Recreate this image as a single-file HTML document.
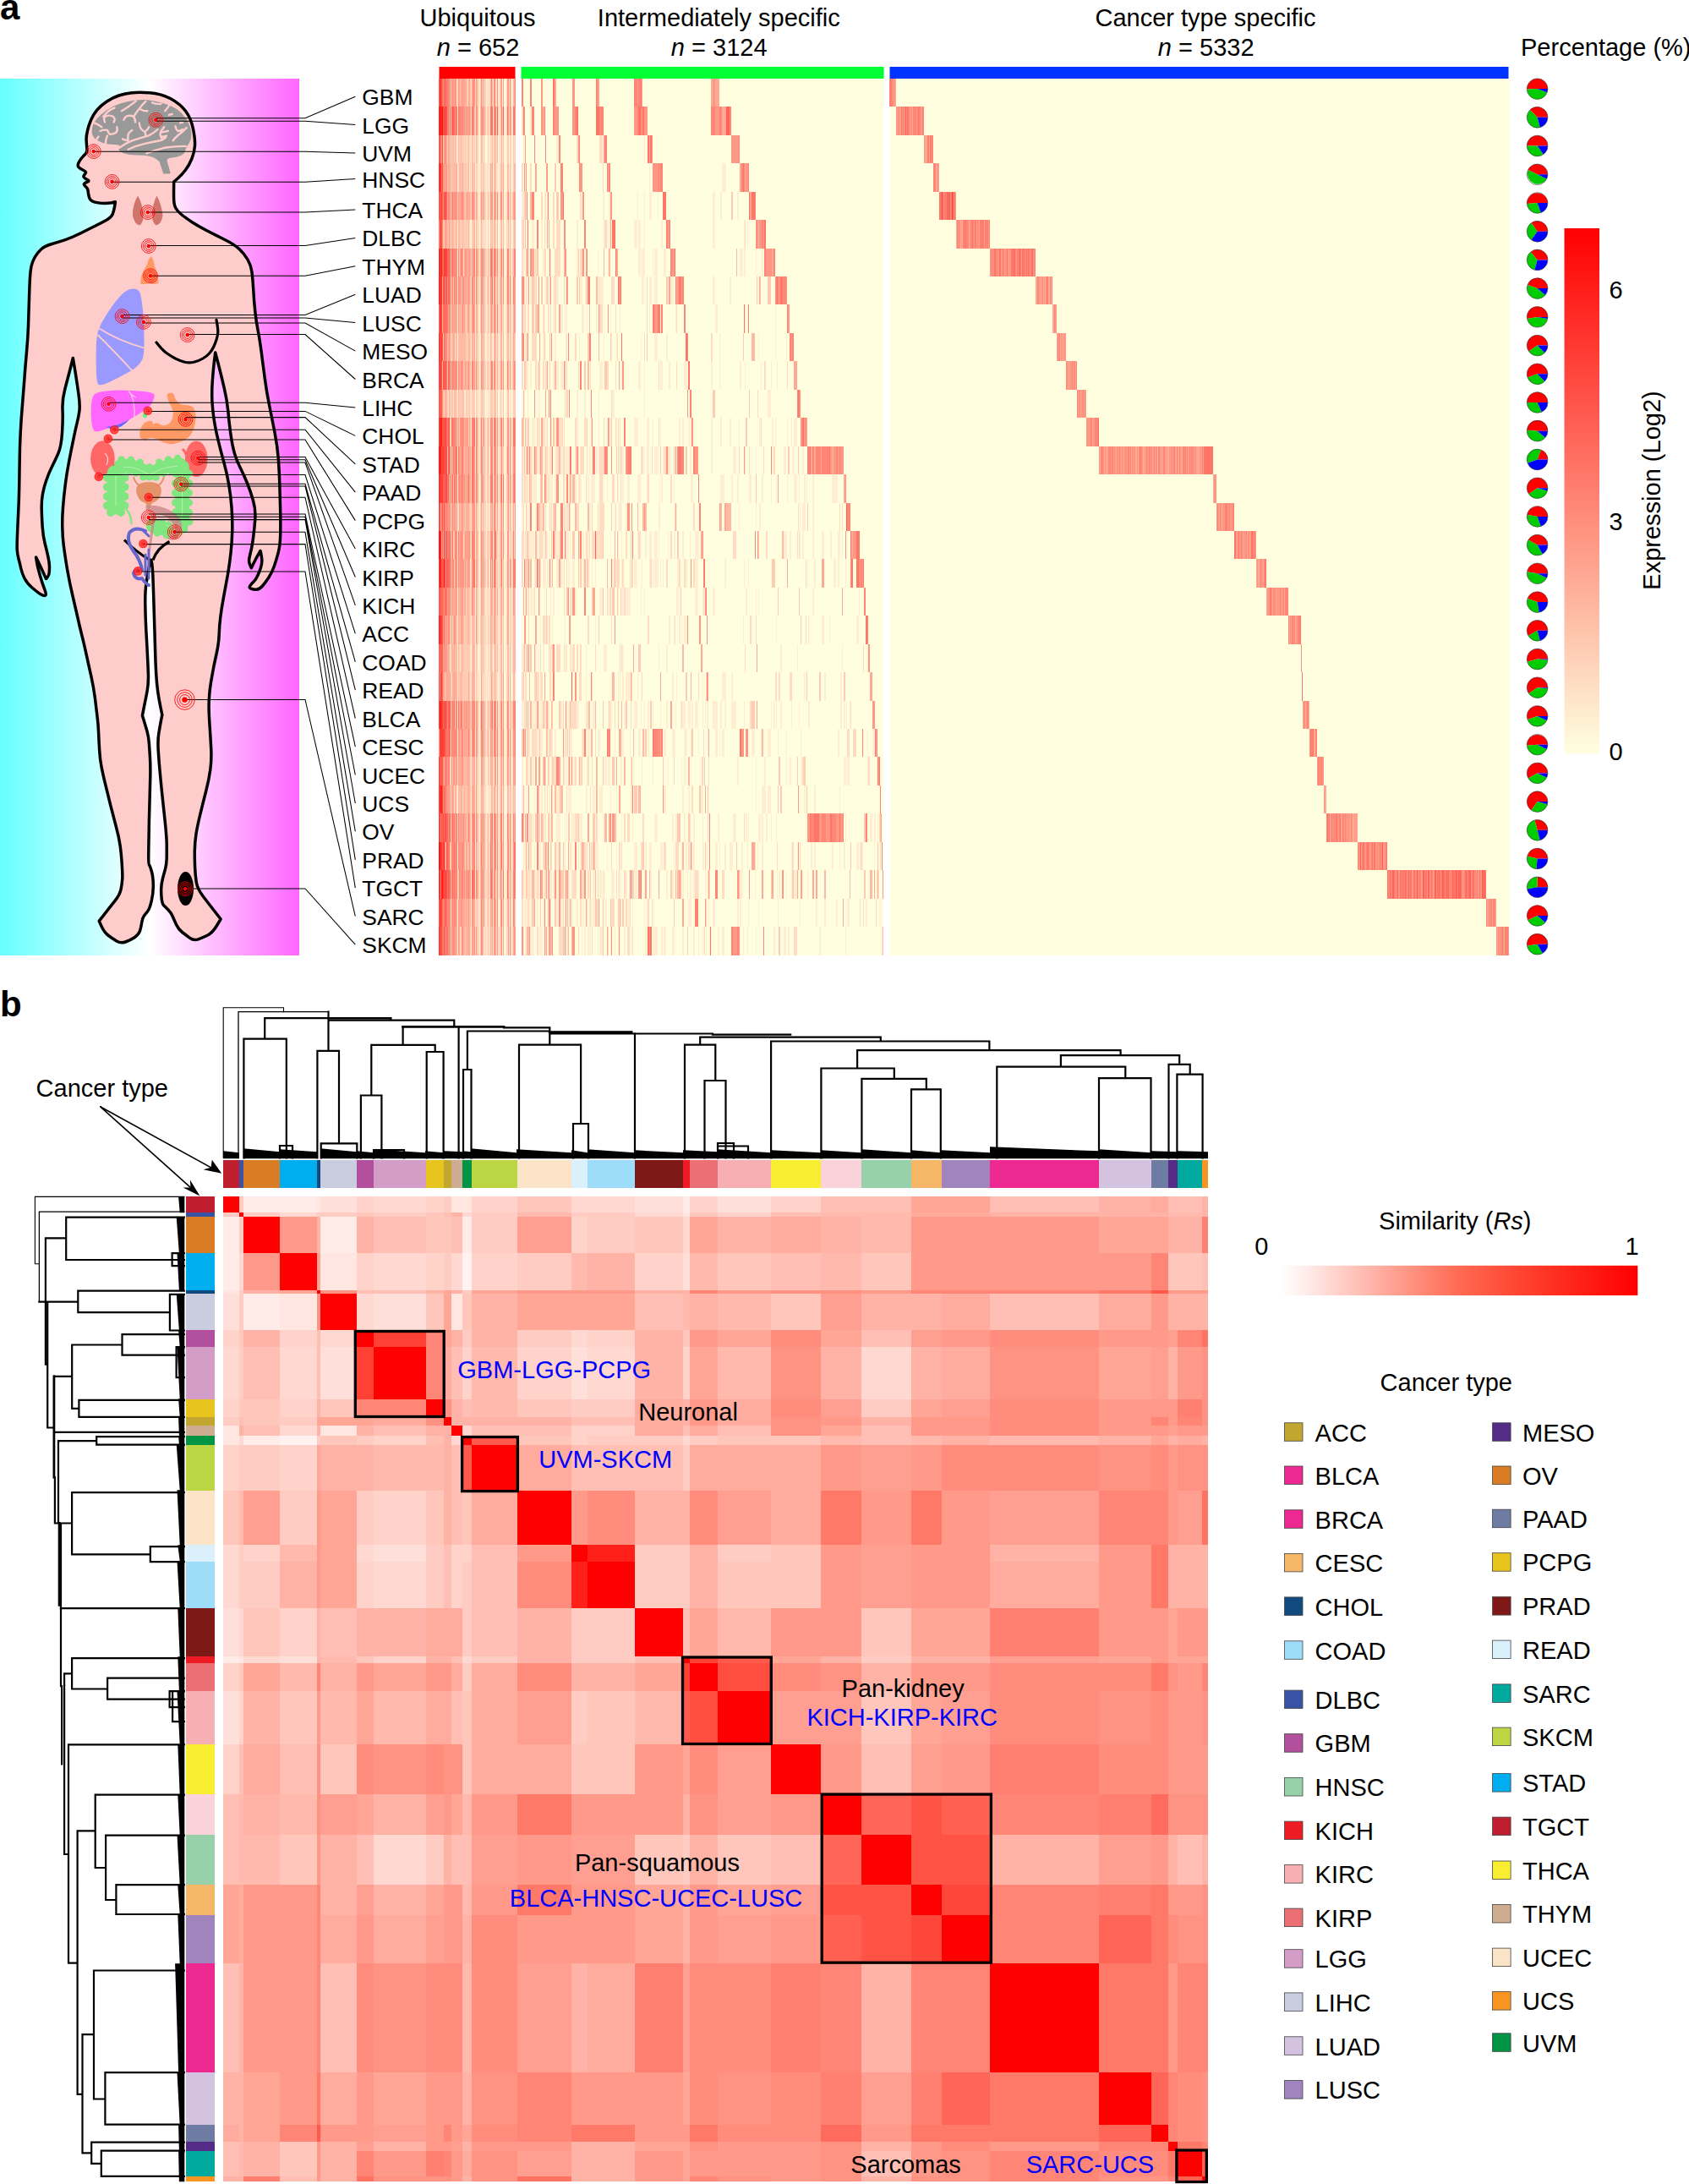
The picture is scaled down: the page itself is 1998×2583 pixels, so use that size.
<!DOCTYPE html><html><head><meta charset="utf-8"><title>Figure</title><style>html,body{margin:0;padding:0;background:#fff}svg{display:block}text{font-family:"Liberation Sans",sans-serif}</style></head><body><svg width="1998" height="2583" viewBox="0 0 1998 2583"><rect width="1998" height="2583" fill="#fff"/><defs><linearGradient id="bg" x1="0" x2="1" y1="0" y2="0"><stop offset="0" stop-color="#66ffff"/><stop offset=".5" stop-color="#ffffff"/><stop offset="1" stop-color="#ff66ff"/></linearGradient></defs><rect x="0" y="93" width="354" height="1037" fill="url(#bg)"/><path d="M156 109.7Q164 108.8 177 109.7Q190 110.5 201.5 116.5Q213 122.6 219.5 131.3Q226 140 228.5 152.5Q231 165 230.5 172.5Q230 180 227 187.5Q224 195 219.5 201Q215 207 210.3 211L205.7 215L205.6 221.5Q205.5 228 205.6 235Q205.7 242 207.8 246Q210 250 215 254Q220 258 227.2 262.8Q234.4 267.5 244.7 272.8Q255 278 266 283.5Q277 289 283 294.5Q289 300 293 307Q297 314 298 322Q299 330 299.8 343.5Q300.5 357 301.8 368.5Q303 380 305 390Q307 400 309 415Q311 430 313.2 447Q315.4 464 318.7 480Q322 496 325.1 512Q328.2 528 329.4 544Q330.5 560 330.9 576Q331.4 592 331.7 606Q332 620 331.7 632.5Q331.4 645 329.2 653.5Q327 662 324.4 669.5Q321.8 677 317.9 683Q314 689 310.5 693Q307 697 303.5 697.2Q300 697.5 297 696.2Q294 695 296 692.5Q298 690 300.3 687.8Q302.6 685.6 304.8 680.8Q307 676 308.5 671.2Q310 666.4 309.8 662.2Q309.5 658 308.8 654.8L308 651.5L305.5 655.8Q303 660 300.1 665.9L297.3 671.7L295.6 667.9Q294 664 295 659.5Q296 655 297.2 650Q298.4 645 299.7 635Q301 625 301.8 613.8Q302.6 602.5 299.3 591.2Q296 580 291.9 570Q287.7 560 283.9 552.5Q280 545 277.5 536.5Q275 528 273 514Q271 500 269.8 486.2Q268.5 472.5 265.2 458.8Q262 445 258.4 431L254.7 417L253.3 428.5Q252 440 251.2 452Q250.4 464 250.9 474.5Q251.5 485 253.1 495.8Q254.7 506.6 257.9 519.8Q261 533 264.8 546.5Q268.5 560 270.8 573.5Q273 587 274 600Q275 613 274.8 626.5Q274.5 640 273.1 653.2Q271.7 666.4 269.4 679.7Q267 693 264.5 706.4Q262 719.7 260.8 729.9Q259.5 740 259.2 750Q259 760 256 773.5Q253 787 250.7 800.1Q248.3 813.3 247.7 821.6Q247 830 247.1 837.6Q247.2 845.3 248.1 858.6Q249 872 249.7 885.2Q250.4 898.5 248.8 910.2Q247.2 922 243.6 936Q240 950 236.7 963.7Q233.4 977.4 231.9 986.7Q230.5 996 230.3 1005.9Q230.2 1015.8 230.6 1025.4Q231 1035 232.2 1043Q233.4 1051 240.2 1060Q247 1069 254.1 1078L261.1 1087L256.3 1095Q251.5 1103 245.8 1106Q240 1109 234.6 1110.8Q229.1 1112.7 224.6 1109.3Q220 1106 215.5 1102.5Q211 1098.9 208.5 1093.5Q206 1088 204.2 1083.8Q202.5 1079.7 199.2 1076.3Q196 1073 193.9 1071Q191.8 1069 191.2 1063Q190.5 1057 190.7 1051.3Q190.8 1045.6 192.4 1039.3Q194 1033 195.6 1027.5Q197.1 1022 197.2 1013.5Q197.3 1005 197.2 997.6Q197.1 990.2 195.6 975.1Q194 960 192.4 945.2Q190.8 930.5 189.4 915.2Q188 900 187.2 887.5Q186.5 875 187.8 867.5Q189 860 190.4 852.6L191.8 845.3L189.9 836.1Q188 827 186.7 818Q185.4 809 184.7 797Q184 785 183.7 772.5Q183.3 760 182.9 745Q182.5 730 182 715Q181.5 700 181.2 690Q181 680 180.2 671Q179.5 662 178.8 662Q178 662 176.2 671Q174.5 680 173 690Q171.5 700 171.8 715Q172 730 172.8 745Q173.7 760 174.3 772.5Q175 785 175.4 797Q175.8 809 173.9 818.5Q172 828 170.2 837.1L168.4 846.3L170.2 852.1Q172 858 173.9 864.4Q175.8 870.8 176.4 879.4Q177 888 177.5 896.5Q178 905 177.8 917.5Q177.5 930 177.2 940.9Q176.9 951.8 176.4 970.9Q176 990 175.8 1006Q175.5 1022 176.5 1023Q177.5 1024 179.3 1030.5Q181.2 1037 181.3 1046.5Q181.5 1056 179.2 1065.7Q176.9 1075.4 174.4 1078.2Q172 1081 170.2 1083.5Q168.4 1086 167.7 1091Q167 1096 165.6 1100.7Q164.1 1105.3 159.1 1108.7Q154 1112 148.4 1114Q142.8 1116 137.9 1113Q133 1110 128.3 1106.5Q123.6 1103 120.4 1096.2L117.2 1089.3L123.6 1081.2Q130 1073 135.8 1065.7Q141.7 1058.4 143.1 1051.7Q144.5 1045 144.8 1038.9Q145 1032.8 144.2 1021.4Q143.5 1010 142.1 1000Q140.7 990 137.3 977.5Q134 965 130.9 953Q127.9 941 125 929Q122 917 120.2 907.8Q118.3 898.5 117.7 887.8Q117 877 116.6 866.5Q116.2 856 114.8 845.5Q113.5 835 112.2 824.1Q110.8 813.3 107.9 800.1Q105 787 102 773.5Q99.1 760 96.5 750Q94 740 91.8 730Q89.5 720 85.8 704Q82 688 79.3 672Q76.7 656 75.3 645.5Q74 635 73.8 624Q73.5 613 74.5 600Q75.5 587 77.2 573.5Q78.9 560 81.5 546.5Q84 533 86.8 519.8Q89.5 506.6 91.2 499.8Q93 493 93.9 486Q94.8 479 92.9 465.5Q91 452 88.7 437.7L86.3 423.4L83.2 435.7Q80 448 76.8 460.2Q73.5 472.5 74 484.2Q74.6 496 73.5 512Q72.5 528 68.8 536.5Q65 545 61.2 552.5Q57.5 560 54.8 568Q52 576 50.5 584Q49 592 49.2 602.5Q49.5 613 50.2 623.5Q51 634 53 642Q55 650 56.8 658Q58.6 666 58.5 671Q58.5 676 58 678.5Q57.5 681 56 682.8L54.5 684.5L50.8 676.2Q47 668 44.8 663.5L42.6 659L43.3 663.5Q44 668 44.9 671.5Q45.8 675 47.9 682.5Q50 690 52.7 696.8Q55.4 703.5 53.7 704.2Q52 705 48.5 703Q45 701 38.5 695.5Q32 690 29 684Q26 678 24.7 672Q23.4 666 21.9 660.5Q20.5 655 20.2 650Q20 645 20.5 632.5Q21 620 21.7 606Q22.4 592 22.7 576Q23 560 23.2 544Q23.4 528 24.2 512Q25 496 26.4 480Q27.7 464 28.9 448Q30 432 31.5 416Q33 400 33.5 385Q34 370 34.5 353Q35 336 35.5 328Q36 320 37 315Q38 310 41 304.5Q44 299 48.5 295Q53 291 60.5 288.8Q68 286.5 76.5 283.8Q85 281 95 276Q105 271 112.5 267.2Q120 263.5 126 260.2Q132 257 133.5 252.5Q135 248 135.7 243.4L136.4 238.8L132.2 239.7Q128 240.5 123 240.5Q118 240.5 112.3 239.1Q106.6 237.7 105.5 233.3Q104.4 229 104.2 226.5Q104 224 103 222.5Q102 221 100.5 219.8Q99 218.5 99.5 217.5Q100 216.5 103.3 215.2Q106.6 214 103.3 212.5Q100 211 99.2 209.5Q98.5 208 99.8 206.8Q101 205.5 101.5 204.2Q102 203 98 201Q94 199 92.8 197.5Q91.6 196 92.8 193Q94 190 96.5 187Q99 184 101.2 182Q103.4 180 102.8 175Q102.3 170 102.1 165.5Q101.9 161 103.5 154.5Q105 148 107.5 142Q110 136 114.5 130.4Q119 124.8 126 120.2Q133 115.5 140.5 113Q148 110.5 156 109.7Z" fill="#ffcccc" stroke="#000" stroke-width="3.5" stroke-linejoin="round"/><path d="M185 405Q192 414 197.2 417.8Q202.5 421.5 207.8 424.2Q213 427 218.4 428.2Q223.8 429.5 229.4 428.2Q235 427 240 424Q245 421 248 417.5Q251 414 252.8 410Q254.7 406 256.1 401.5Q257.5 397 257.8 393Q258 389 256 378.4" fill="none" stroke="#000" stroke-width="3.2" stroke-linecap="round"/><path d="M147 638.5Q160 652 177.5 662.5M200.5 640.5Q186 648 181 662.5" fill="none" stroke="#000" stroke-width="3.2"/><path d="M108.7 156.8Q108.5 153 109.5 149.2Q110.4 145.5 114.4 140.8Q118.4 136 125.5 130.8Q132.6 125.6 142.1 122.5Q151.6 119.4 161.1 118.5Q170.5 117.5 180 119Q189.5 120.4 198.9 124Q208.4 127.5 214.6 133.7Q220.7 139.8 223.6 146.4Q226.4 153 226.4 158.7Q226.4 164.4 224.5 167.7Q222.6 171 221.2 173.2Q219.8 175.5 218.9 178.9Q217.9 182.4 213.2 184.3Q208.4 186.2 203.7 186.4Q198.9 186.7 198.2 188.3L197.5 190L199.7 197.6L201.8 205.2L197.6 205.4L193.3 205.6L190.9 198.2L188.5 190.9L184.7 188.1Q180.9 185.3 175.7 184.4Q170.5 183.4 163.4 183.4Q156.3 183.4 150.6 182.4Q144.9 181.5 142.1 179.1Q139.3 176.7 141.2 173.8Q143 171 135.4 171Q127.9 171 121.2 168.7Q114.6 166.3 111.8 163.4Q108.9 160.6 108.7 156.8Z" fill="#999"/><path d="M122.2 137.9Q128 130 135.5 127.5M124.1 144.5Q121.5 139.8 125 137.5Q130 135.5 134 138Q137 141 134.5 144.5M144 131.3Q153 126 161 119.4M146.4 141.7Q148 137.5 152 136.9Q156 136.5 158.2 137.9Q160 141 160.1 144.5M158.2 137.9Q161 133 164.8 128.4Q168 124 172.4 119.9M164.8 128.4Q169.5 131.5 174.3 131.3M180 121.3Q185 123.5 190.4 122.7M195.2 131.3Q198.5 127.5 200.8 123.7M111.8 145.5Q116 147 120.3 150.2M118.4 155Q123 153 127 154Q128 157 129.8 158.7Q134 159 137.4 156.8Q139.5 153.5 138.3 150.2M127 160.6Q125 165 125 169.2M113.7 166.3Q114.5 163.5 116.5 161.6M156.3 154Q153 156 151.6 158.7Q151 162.5 151.6 166.3M144.9 164.4Q148 166 151.6 166.3M164.8 145.5Q165 149 166.7 152.1Q168.5 154.5 171.5 155.9M176.2 150.2Q174.5 153.5 171.5 155.9Q172 158 172.4 160.6M141.2 174.8Q148 169.5 156.3 166.3Q166 163 175.3 160.6Q182 157.5 186.6 153M151.6 176.7Q160 172.5 170.5 170.1Q180 168 189.5 166.3Q193.5 164.8 196.1 162.5M173.4 181.5Q183 177.5 194.2 174.8Q207 172.8 219.8 172.9M194.2 150.2Q190.5 154 189.5 158.7Q190 162.5 192.3 165.4M189.8 156.5Q194.5 156 198.9 154.9M190.5 161.5Q194 161.5 197 160.6M207.5 149.3Q208 153 210.3 154.9Q213.5 155 216 153M220.7 151.2Q216 156 210.5 160Q207 163 204.6 166.3M213.2 145.5Q215 144 216 145M199.9 136Q202 135 203.7 135" fill="none" stroke="#ffcccc" stroke-width="2.4" stroke-linecap="round" stroke-linejoin="round"/><path d="M163 231.5Q168 240 169.5 252Q170 264 165 266.5Q159 265 157 255Q156.5 243 163 231.5ZM185.5 231.5Q191.5 243 192.5 255Q191 265 185 266.5Q179.5 264 180 252Q181 240 185.5 231.5Z" fill="#d0746c"/><path d="M179 302.5Q182 308 183 315Q187 324 187.5 335Q182 337 177 335Q171 337 166 335.5Q166.5 324 172 316Q175 312 175.5 307Q178 306 179 302.5Z" fill="#ff9966"/><path d="M153.8 342Q157.7 341 160.3 341.8Q163 342.5 164.6 344.4Q166.2 346.4 167.8 357Q169.4 367.7 169.9 378.9Q170.5 390 170.5 405.6Q170.5 421.3 168.2 425.6Q166 430 161.8 433.6Q157.7 437.3 148.8 442.1Q140 447 129.7 451.8Q119.4 456.5 116.7 454.9Q114 453.3 113.8 436.6Q113.5 420 113.8 410Q114 400 115.6 393.5Q117.2 387 122.1 378.5Q127 370 133.5 361Q140 352 145 347.5Q150 343 153.8 342Z" fill="#9999ff"/><path d="M116.5 388Q140 403 170.5 411.5M115.5 396Q135 415 156 438" fill="none" stroke="#ffcccc" stroke-width="1.8"/><path d="M109.7 469.5Q110.8 466 115.4 464.5Q120 463 127.5 462.2Q135 461.5 142.1 461.6Q149.2 461.8 157.1 461.9Q165 462 174.2 463.5Q183.3 465 182.7 468.5Q182 472 180.5 475.4Q179 478.9 174.5 482.4Q170 486 163.8 489.9Q157.7 493.8 150.3 497.4Q143 501 135.4 503.8Q127.9 506.6 123 508.3Q118 510 114.4 510.4Q110.8 510.8 109.4 505.4Q108 500 107.8 492.5Q107.6 485 108 479Q108.5 473 109.7 469.5Z" fill="#ff66ff"/><path d="M152.4 462.5Q160 472 158.8 494M152 463Q156 468 161 470" fill="none" stroke="#ffc0e8" stroke-width="1.3"/><path d="M125.5 505Q140 504 153.5 495.5Q145 506 133 508Z" fill="#6666ff"/><ellipse cx="171.5" cy="491" rx="2.6" ry="3.2" fill="#66ee88"/><path d="M197.7 469Q197 466 199 465.2Q201 464.5 203.2 464.8Q205.5 465 206.2 468.5Q207 472 210 475.2Q213 478.5 217.5 478.8Q222 479 225.5 480Q229 481 230.5 485.5Q232 490 231.5 496Q231 502 229.2 507Q227.5 512 224.6 515.5Q221.6 519 216.8 521.2Q212 523.5 207.2 524.6Q202.5 525.7 197.8 524.6Q193 523.5 189.2 521.2Q185.4 519 182.2 518.2Q179 517.5 176 518.2Q173 519 172.8 520.5Q172.5 522 171.5 521Q170.5 520 168 519Q165.5 518 165.2 515Q165 512 166 508.5Q167 505 168.8 502.5Q170.5 500 173.2 498.8Q176 497.5 178.5 498Q181 498.5 180.8 500.5Q180.5 502.5 183 501Q185.5 499.5 188.7 501.5Q191.8 503.5 194.4 503.2Q197 503 199.8 501Q202.5 499 203.7 495.5Q204.8 492 204.7 488.5Q204.6 485 202.8 481.5Q201 478 199.7 475Q198.3 472 197.7 469Z" fill="#ff9966"/><ellipse cx="121.4" cy="542.5" rx="14.3" ry="21.2" fill="#ff6666"/><ellipse cx="232.3" cy="542.7" rx="13.3" ry="21.3" fill="#ff6666"/><path d="M137.2 598V560" fill="none" stroke="#80e680" stroke-width="21" stroke-linecap="round"/><path d="M141 551Q158 547 177 561Q196 548 214 549" fill="none" stroke="#80e680" stroke-width="14.5" stroke-linecap="round" stroke-linejoin="round"/><path d="M215.5 552V616Q214 629 199 626.5L181 622" fill="none" stroke="#80e680" stroke-width="16.5" stroke-linecap="round" stroke-linejoin="round"/><path d="M150 603.5Q154.5 607 155.4 619" fill="none" stroke="#80e680" stroke-width="2.4" stroke-linecap="round"/><circle cx="126.7" cy="565" r="4.8" fill="#80e680"/><circle cx="147.7" cy="565" r="4.8" fill="#80e680"/><circle cx="126.7" cy="576" r="4.8" fill="#80e680"/><circle cx="147.7" cy="576" r="4.8" fill="#80e680"/><circle cx="126.7" cy="587" r="4.8" fill="#80e680"/><circle cx="147.7" cy="587" r="4.8" fill="#80e680"/><circle cx="126.7" cy="598" r="4.8" fill="#80e680"/><circle cx="147.7" cy="598" r="4.8" fill="#80e680"/><circle cx="131" cy="606" r="5" fill="#80e680"/><circle cx="143" cy="606" r="5" fill="#80e680"/><circle cx="207.3" cy="560" r="4.4" fill="#80e680"/><circle cx="223.7" cy="560" r="4.4" fill="#80e680"/><circle cx="207.3" cy="571.5" r="4.4" fill="#80e680"/><circle cx="223.7" cy="571.5" r="4.4" fill="#80e680"/><circle cx="207.3" cy="583" r="4.4" fill="#80e680"/><circle cx="223.7" cy="583" r="4.4" fill="#80e680"/><circle cx="207.3" cy="594.5" r="4.4" fill="#80e680"/><circle cx="223.7" cy="594.5" r="4.4" fill="#80e680"/><circle cx="207.3" cy="606" r="4.4" fill="#80e680"/><circle cx="223.7" cy="606" r="4.4" fill="#80e680"/><circle cx="224" cy="617" r="4.4" fill="#80e680"/><circle cx="218" cy="626" r="4.4" fill="#80e680"/><circle cx="208" cy="632" r="4.4" fill="#80e680"/><circle cx="197" cy="633" r="4.2" fill="#80e680"/><circle cx="186" cy="630.5" r="4.2" fill="#80e680"/><circle cx="192" cy="618" r="4" fill="#80e680"/><circle cx="202" cy="617.5" r="4" fill="#80e680"/><circle cx="145.3" cy="557.3" r="4.2" fill="#80e680"/><circle cx="143.5" cy="543.4" r="4.2" fill="#80e680"/><circle cx="152.8" cy="557.4" r="4.2" fill="#80e680"/><circle cx="154.9" cy="543.6" r="4.2" fill="#80e680"/><circle cx="160.6" cy="559.6" r="4.2" fill="#80e680"/><circle cx="165.8" cy="546.6" r="4.2" fill="#80e680"/><circle cx="169.4" cy="564.3" r="4.2" fill="#80e680"/><circle cx="177" cy="552.5" r="4.2" fill="#80e680"/><circle cx="184.5" cy="564.5" r="4.2" fill="#80e680"/><circle cx="177.1" cy="552.6" r="4.2" fill="#80e680"/><circle cx="193.6" cy="559.8" r="4.2" fill="#80e680"/><circle cx="188.2" cy="546.8" r="4.2" fill="#80e680"/><circle cx="202.1" cy="557" r="4.2" fill="#80e680"/><circle cx="199" cy="543.4" r="4.2" fill="#80e680"/><circle cx="210.5" cy="555.9" r="4.2" fill="#80e680"/><circle cx="210.2" cy="541.9" r="4.2" fill="#80e680"/><path d="M137 598V563M215.5 560V612M146 552.5Q160 551 177 562Q194 551 210 551.5M211 621Q204 625 196 621" fill="none" stroke="#b4efb0" stroke-width="1.1"/><path d="M128 535Q133 541 134 551M216 531Q222 537 221 546" fill="none" stroke="#ff6666" stroke-width="3"/><path d="M124 536Q130 541 126 550" fill="none" stroke="#ffd0d0" stroke-width="1.2"/><path d="M158 564Q160 572 166 575M194 564Q192 572 186 575" fill="none" stroke="#e09060" stroke-width="1.8"/><path d="M161 580Q161 570 176 570Q191 570 191 581Q190 592 180 595L176 603L172 595Q162 592 161 580Z" fill="#e08a58" fill-opacity=".85"/><path d="M172.5 598H184Q200 600 212 612Q219 624 210 636Q204 641 198 637Q208 626 202 616Q194 607 184 609L178 652H175L181 607L172.5 603Z" fill="#c88a8a" fill-opacity=".8"/><path d="M186 612Q200 612 206 622Q208 632 200 634" fill="none" stroke="#e8b8b8" stroke-width="1.5"/><path d="M172 628Q160 622 153 630Q149 640 158 652Q166 662 168 674Q160 672 158 678Q160 686 168 684Q172 690 176 692" fill="none" stroke="#6666cc" stroke-width="4" stroke-linecap="round" stroke-linejoin="round"/><path d="M170 628L176 634M176 650V684M172 656V680" fill="none" stroke="#6666cc" stroke-width="3" stroke-linecap="round"/><ellipse cx="219.5" cy="1051" rx="9.5" ry="20" fill="#000"/><path d="M184.4 139.7H361L420.3 114.2M184.4 143.2H361L420.3 147.6M110.8 179.2H361L420.3 181.1M132.6 215.3H361L420.3 211.5M174.8 251H361L420.3 247.9M175.8 290.5H361L420.3 281.4M178 326.2H361L420.3 314.8M144.5 372.5H361L420.3 348.2M144.5 376H361L420.3 381.6M169.9 382H361L420.3 415.1M221.7 395.5H361L420.3 448.5M128.5 476.3H361L420.3 481.9M174.8 486.4H361L420.3 515.4M219.5 493.6H361L420.3 548.8M135.3 508.2H361L420.3 582.2M127.9 520H361L420.3 615.6M234.4 540.4H361L420.3 649.1M234.4 543.7H361L420.3 682.5M234.4 547H361L420.3 715.9M116.8 561.5H361L420.3 749.4M214.2 572.3H361L420.3 782.8M214.2 575H361L420.3 816.2M175.8 588.2H361L420.3 849.7M175.8 608H361L420.3 883.1M175.8 611.3H361L420.3 916.5M175.8 614.6H361L420.3 950M206.7 629.3H361L420.3 983.4M169.4 643.6H361L420.3 1016.8M163 675.9H361L420.3 1050.2M218.5 827.4H361L420.3 1083.7M219.1 1051H361L420.3 1117.1" fill="none" stroke="#000" stroke-width="1.05"/><circle cx="184.4" cy="141.8" r="2.3" fill="#f00"/><circle cx="184.4" cy="141.8" r="4.3" fill="none" stroke="#f00" stroke-width=".85"/><circle cx="184.4" cy="141.8" r="6.3" fill="none" stroke="#f00" stroke-width=".85"/><circle cx="184.4" cy="141.8" r="8.4" fill="none" stroke="#f00" stroke-width=".85"/><circle cx="110.8" cy="179.1" r="2.3" fill="#f00"/><circle cx="110.8" cy="179.1" r="4.3" fill="none" stroke="#f00" stroke-width=".85"/><circle cx="110.8" cy="179.1" r="6.3" fill="none" stroke="#f00" stroke-width=".85"/><circle cx="110.8" cy="179.1" r="8.4" fill="none" stroke="#f00" stroke-width=".85"/><circle cx="132.6" cy="214.9" r="2.3" fill="#f00"/><circle cx="132.6" cy="214.9" r="4.3" fill="none" stroke="#f00" stroke-width=".85"/><circle cx="132.6" cy="214.9" r="6.3" fill="none" stroke="#f00" stroke-width=".85"/><circle cx="132.6" cy="214.9" r="8.4" fill="none" stroke="#f00" stroke-width=".85"/><circle cx="174.8" cy="251.1" r="2.3" fill="#f00"/><circle cx="174.8" cy="251.1" r="4.3" fill="none" stroke="#f00" stroke-width=".85"/><circle cx="174.8" cy="251.1" r="6.3" fill="none" stroke="#f00" stroke-width=".85"/><circle cx="174.8" cy="251.1" r="8.4" fill="none" stroke="#f00" stroke-width=".85"/><circle cx="175.8" cy="291" r="2.3" fill="#f00"/><circle cx="175.8" cy="291" r="4.3" fill="none" stroke="#f00" stroke-width=".85"/><circle cx="175.8" cy="291" r="6.3" fill="none" stroke="#f00" stroke-width=".85"/><circle cx="175.8" cy="291" r="8.4" fill="none" stroke="#f00" stroke-width=".85"/><circle cx="178" cy="326.2" r="2.3" fill="#f00"/><circle cx="178" cy="326.2" r="4.3" fill="none" stroke="#f00" stroke-width=".85"/><circle cx="178" cy="326.2" r="6.3" fill="none" stroke="#f00" stroke-width=".85"/><circle cx="178" cy="326.2" r="8.4" fill="none" stroke="#f00" stroke-width=".85"/><circle cx="144.5" cy="374.1" r="2.3" fill="#f00"/><circle cx="144.5" cy="374.1" r="4.3" fill="none" stroke="#f00" stroke-width=".85"/><circle cx="144.5" cy="374.1" r="6.3" fill="none" stroke="#f00" stroke-width=".85"/><circle cx="144.5" cy="374.1" r="8.4" fill="none" stroke="#f00" stroke-width=".85"/><circle cx="169.9" cy="380.9" r="2.3" fill="#f00"/><circle cx="169.9" cy="380.9" r="4.3" fill="none" stroke="#f00" stroke-width=".85"/><circle cx="169.9" cy="380.9" r="6.3" fill="none" stroke="#f00" stroke-width=".85"/><circle cx="169.9" cy="380.9" r="8.4" fill="none" stroke="#f00" stroke-width=".85"/><circle cx="221.7" cy="396.1" r="2.3" fill="#f00"/><circle cx="221.7" cy="396.1" r="4.3" fill="none" stroke="#f00" stroke-width=".85"/><circle cx="221.7" cy="396.1" r="6.3" fill="none" stroke="#f00" stroke-width=".85"/><circle cx="221.7" cy="396.1" r="8.4" fill="none" stroke="#f00" stroke-width=".85"/><circle cx="128.5" cy="477.8" r="2.3" fill="#f00"/><circle cx="128.5" cy="477.8" r="4.3" fill="none" stroke="#f00" stroke-width=".85"/><circle cx="128.5" cy="477.8" r="6.3" fill="none" stroke="#f00" stroke-width=".85"/><circle cx="128.5" cy="477.8" r="8.4" fill="none" stroke="#f00" stroke-width=".85"/><circle cx="174.8" cy="485.7" r="5.3" fill="#ff1010" fill-opacity=".82"/><circle cx="174.8" cy="485.7" r="3.4" fill="none" stroke="#ff8080" stroke-width=".5"/><circle cx="219.5" cy="495.9" r="2.3" fill="#f00"/><circle cx="219.5" cy="495.9" r="4.3" fill="none" stroke="#f00" stroke-width=".85"/><circle cx="219.5" cy="495.9" r="6.3" fill="none" stroke="#f00" stroke-width=".85"/><circle cx="219.5" cy="495.9" r="8.4" fill="none" stroke="#f00" stroke-width=".85"/><circle cx="135.3" cy="508.3" r="5.3" fill="#ff1010" fill-opacity=".82"/><circle cx="135.3" cy="508.3" r="3.4" fill="none" stroke="#ff8080" stroke-width=".5"/><circle cx="127.9" cy="518.7" r="5.3" fill="#ff1010" fill-opacity=".82"/><circle cx="127.9" cy="518.7" r="3.4" fill="none" stroke="#ff8080" stroke-width=".5"/><circle cx="234.4" cy="541.7" r="2.3" fill="#f00"/><circle cx="234.4" cy="541.7" r="4.3" fill="none" stroke="#f00" stroke-width=".85"/><circle cx="234.4" cy="541.7" r="6.3" fill="none" stroke="#f00" stroke-width=".85"/><circle cx="234.4" cy="541.7" r="8.4" fill="none" stroke="#f00" stroke-width=".85"/><circle cx="116.8" cy="563.7" r="5.3" fill="#ff1010" fill-opacity=".82"/><circle cx="116.8" cy="563.7" r="3.4" fill="none" stroke="#ff8080" stroke-width=".5"/><circle cx="214.2" cy="572.6" r="2.3" fill="#f00"/><circle cx="214.2" cy="572.6" r="4.3" fill="none" stroke="#f00" stroke-width=".85"/><circle cx="214.2" cy="572.6" r="6.3" fill="none" stroke="#f00" stroke-width=".85"/><circle cx="214.2" cy="572.6" r="8.4" fill="none" stroke="#f00" stroke-width=".85"/><circle cx="175.8" cy="588" r="5.3" fill="#ff1010" fill-opacity=".82"/><circle cx="175.8" cy="588" r="3.4" fill="none" stroke="#ff8080" stroke-width=".5"/><circle cx="175.8" cy="612" r="2.3" fill="#f00"/><circle cx="175.8" cy="612" r="4.3" fill="none" stroke="#f00" stroke-width=".85"/><circle cx="175.8" cy="612" r="6.3" fill="none" stroke="#f00" stroke-width=".85"/><circle cx="175.8" cy="612" r="8.4" fill="none" stroke="#f00" stroke-width=".85"/><circle cx="206.7" cy="629.1" r="2.3" fill="#f00"/><circle cx="206.7" cy="629.1" r="4.3" fill="none" stroke="#f00" stroke-width=".85"/><circle cx="206.7" cy="629.1" r="6.3" fill="none" stroke="#f00" stroke-width=".85"/><circle cx="206.7" cy="629.1" r="8.4" fill="none" stroke="#f00" stroke-width=".85"/><circle cx="169.4" cy="643" r="5.3" fill="#ff1010" fill-opacity=".82"/><circle cx="169.4" cy="643" r="3.4" fill="none" stroke="#ff8080" stroke-width=".5"/><circle cx="163" cy="675.4" r="5.3" fill="#ff1010" fill-opacity=".82"/><circle cx="163" cy="675.4" r="3.4" fill="none" stroke="#ff8080" stroke-width=".5"/><circle cx="218.5" cy="827.6" r="3.2" fill="#f00"/><circle cx="218.5" cy="827.6" r="6" fill="none" stroke="#f00" stroke-width=".85"/><circle cx="218.5" cy="827.6" r="8.8" fill="none" stroke="#f00" stroke-width=".85"/><circle cx="218.5" cy="827.6" r="11.8" fill="none" stroke="#f00" stroke-width=".85"/><circle cx="219.1" cy="1051.3" r="2.3" fill="#f00"/><circle cx="219.1" cy="1051.3" r="4.3" fill="none" stroke="#f00" stroke-width=".85"/><circle cx="219.1" cy="1051.3" r="6.3" fill="none" stroke="#f00" stroke-width=".85"/><circle cx="219.1" cy="1051.3" r="8.4" fill="none" stroke="#f00" stroke-width=".85"/><g font-size="26.4" fill="#000"><text x="428.3" y="124.2">GBM</text><text x="428.3" y="157.6">LGG</text><text x="428.3" y="191.1">UVM</text><text x="428.3" y="221.5">HNSC</text><text x="428.3" y="257.9">THCA</text><text x="428.3" y="291.4">DLBC</text><text x="428.3" y="324.8">THYM</text><text x="428.3" y="358.2">LUAD</text><text x="428.3" y="391.6">LUSC</text><text x="428.3" y="425.1">MESO</text><text x="428.3" y="458.5">BRCA</text><text x="428.3" y="491.9">LIHC</text><text x="428.3" y="525.4">CHOL</text><text x="428.3" y="558.8">STAD</text><text x="428.3" y="592.2">PAAD</text><text x="428.3" y="625.6">PCPG</text><text x="428.3" y="659.1">KIRC</text><text x="428.3" y="692.5">KIRP</text><text x="428.3" y="725.9">KICH</text><text x="428.3" y="759.4">ACC</text><text x="428.3" y="792.8">COAD</text><text x="428.3" y="826.2">READ</text><text x="428.3" y="859.7">BLCA</text><text x="428.3" y="893.1">CESC</text><text x="428.3" y="926.5">UCEC</text><text x="428.3" y="960">UCS</text><text x="428.3" y="993.4">OV</text><text x="428.3" y="1026.8">PRAD</text><text x="428.3" y="1060.2">TGCT</text><text x="428.3" y="1093.7">SARC</text><text x="428.3" y="1127.1">SKCM</text></g><g shape-rendering="crispEdges"><rect x="519" y="93" width="91" height="1037" fill="#ffffe0"/><rect x="617" y="93" width="428" height="1037" fill="#ffffe0"/><rect x="1052.5" y="93" width="732" height="1037" fill="#ffffe0"/><path fill="#ffeed1" d="M567 93h1v33h-1zM573 93h1v33h-1zM575 93h1v33h-1zM577 93h1v33h-1zM579 93h1v33h-1zM583 93h1v33h-1zM589 93h1v33h-1zM591 93h1v33h-1zM594 93h1v33h-1zM596 93h1v33h-1zM598 93h1v33h-1zM602 93h1v33h-1zM606 93h1v33h-1zM541 126h1v34h-1zM566 126h2v34h-2zM575 126h1v34h-1zM579 126h1v34h-1zM583 126h1v34h-1zM591 126h1v34h-1zM596 126h3v34h-3zM602 126h1v34h-1zM606 126h1v34h-1zM627 126h2v34h-2zM533 160h1v33h-1zM541 160h1v33h-1zM557 160h1v33h-1zM562 160h1v33h-1zM566 160h1v33h-1zM571 160h1v33h-1zM573 160h2v33h-2zM576 160h1v33h-1zM583 160h1v33h-1zM596 160h1v33h-1zM598 160h2v33h-2zM605 160h2v33h-2zM619 160h1v33h-1zM658 160h3v33h-3zM762 160h1v33h-1zM533 193h1v34h-1zM541 193h1v34h-1zM555 193h1v34h-1zM557 193h1v34h-1zM562 193h1v34h-1zM566 193h2v34h-2zM573 193h1v34h-1zM575 193h1v34h-1zM577 193h1v34h-1zM579 193h1v34h-1zM587 193h1v34h-1zM591 193h1v34h-1zM596 193h1v34h-1zM598 193h2v34h-2zM605 193h2v34h-2zM621 193h1v34h-1zM768 193h1v34h-1zM854 193h5v34h-5zM566 227h2v33h-2zM573 227h1v33h-1zM575 227h1v33h-1zM579 227h1v33h-1zM589 227h1v33h-1zM591 227h1v33h-1zM596 227h3v33h-3zM602 227h1v33h-1zM617 227h2v33h-2zM622 227h1v33h-1zM644 227h1v33h-1zM713 227h2v33h-2zM720 227h2v33h-2zM754 227h1v33h-1zM762 227h1v33h-1zM768 227h3v33h-3zM778 227h1v33h-1zM843 227h3v33h-3zM852 227h2v33h-2zM872 227h2v33h-2zM533 260h1v34h-1zM541 260h1v34h-1zM556 260h1v34h-1zM562 260h1v34h-1zM566 260h2v34h-2zM571 260h1v34h-1zM573 260h1v34h-1zM575 260h2v34h-2zM583 260h1v34h-1zM587 260h1v34h-1zM590 260h1v34h-1zM594 260h1v34h-1zM596 260h1v34h-1zM598 260h1v34h-1zM602 260h1v34h-1zM604 260h3v34h-3zM629 260h3v34h-3zM640 260h2v34h-2zM682 260h2v34h-2zM714 260h1v34h-1zM718 260h1v34h-1zM720 260h2v34h-2zM750 260h4v34h-4zM755 260h3v34h-3zM762 260h1v34h-1zM782 260h2v34h-2zM843 260h3v34h-3zM880 260h1v34h-1zM884 260h1v34h-1zM533 294h1v33h-1zM541 294h1v33h-1zM562 294h1v33h-1zM573 294h1v33h-1zM579 294h1v33h-1zM583 294h1v33h-1zM589 294h1v33h-1zM591 294h1v33h-1zM596 294h2v33h-2zM602 294h1v33h-1zM619 294h2v33h-2zM632 294h1v33h-1zM642 294h2v33h-2zM648 294h1v33h-1zM682 294h2v33h-2zM707 294h1v33h-1zM719 294h1v33h-1zM755 294h3v33h-3zM759 294h4v33h-4zM772 294h1v33h-1zM774 294h4v33h-4zM785 294h3v33h-3zM875 294h4v33h-4zM880 294h2v33h-2zM894 294h1v33h-1zM901 294h2v33h-2zM533 327h1v33h-1zM541 327h1v33h-1zM557 327h1v33h-1zM562 327h1v33h-1zM566 327h1v33h-1zM573 327h1v33h-1zM575 327h1v33h-1zM579 327h1v33h-1zM583 327h1v33h-1zM589 327h1v33h-1zM591 327h1v33h-1zM596 327h3v33h-3zM602 327h1v33h-1zM605 327h1v33h-1zM623 327h1v33h-1zM627 327h2v33h-2zM645 327h1v33h-1zM654 327h2v33h-2zM658 327h3v33h-3zM668 327h1v33h-1zM686 327h3v33h-3zM694 327h1v33h-1zM709 327h5v33h-5zM759 327h3v33h-3zM768 327h3v33h-3zM774 327h4v33h-4zM790 327h1v33h-1zM793 327h4v33h-4zM843 327h3v33h-3zM863 327h2v33h-2zM897 327h1v33h-1zM533 360h1v34h-1zM541 360h1v34h-1zM562 360h1v34h-1zM566 360h2v34h-2zM573 360h1v34h-1zM575 360h1v34h-1zM579 360h1v34h-1zM583 360h1v34h-1zM589 360h1v34h-1zM591 360h1v34h-1zM596 360h3v34h-3zM602 360h1v34h-1zM606 360h1v34h-1zM619 360h1v34h-1zM622 360h1v34h-1zM644 360h1v34h-1zM649 360h1v34h-1zM654 360h2v34h-2zM663 360h3v34h-3zM668 360h1v34h-1zM670 360h1v34h-1zM688 360h3v34h-3zM694 360h1v34h-1zM705 360h2v34h-2zM722 360h1v34h-1zM733 360h1v34h-1zM768 360h1v34h-1zM799 360h1v34h-1zM846 360h3v34h-3zM881 360h1v34h-1zM917 360h1v34h-1zM533 394h1v33h-1zM541 394h1v33h-1zM557 394h1v33h-1zM562 394h1v33h-1zM566 394h3v33h-3zM573 394h3v33h-3zM579 394h1v33h-1zM589 394h1v33h-1zM594 394h1v33h-1zM596 394h1v33h-1zM598 394h1v33h-1zM602 394h1v33h-1zM621 394h1v33h-1zM642 394h2v33h-2zM651 394h1v33h-1zM656 394h2v33h-2zM669 394h1v33h-1zM685 394h1v33h-1zM714 394h1v33h-1zM723 394h1v33h-1zM729 394h1v33h-1zM758 394h1v33h-1zM774 394h4v33h-4zM788 394h2v33h-2zM851 394h1v33h-1zM897 394h1v33h-1zM917 394h1v33h-1zM930 394h1v33h-1zM533 427h1v34h-1zM541 427h1v34h-1zM557 427h1v34h-1zM567 427h1v34h-1zM573 427h1v34h-1zM575 427h1v34h-1zM579 427h1v34h-1zM583 427h1v34h-1zM589 427h1v34h-1zM591 427h1v34h-1zM596 427h3v34h-3zM602 427h1v34h-1zM623 427h2v34h-2zM627 427h2v34h-2zM635 427h2v34h-2zM649 427h1v34h-1zM654 427h2v34h-2zM658 427h3v34h-3zM663 427h3v34h-3zM709 427h4v34h-4zM734 427h1v34h-1zM755 427h3v34h-3zM762 427h1v34h-1zM781 427h3v34h-3zM791 427h2v34h-2zM809 427h4v34h-4zM841 427h2v34h-2zM851 427h1v34h-1zM875 427h2v34h-2zM881 427h1v34h-1zM900 427h1v34h-1zM912 427h1v34h-1zM919 427h1v34h-1zM533 461h1v33h-1zM541 461h1v33h-1zM550 461h1v33h-1zM557 461h1v33h-1zM566 461h2v33h-2zM571 461h1v33h-1zM574 461h4v33h-4zM579 461h1v33h-1zM583 461h1v33h-1zM587 461h1v33h-1zM590 461h2v33h-2zM593 461h2v33h-2zM598 461h2v33h-2zM604 461h3v33h-3zM620 461h1v33h-1zM624 461h1v33h-1zM637 461h2v33h-2zM650 461h1v33h-1zM682 461h2v33h-2zM691 461h2v33h-2zM708 461h1v33h-1zM724 461h3v33h-3zM762 461h1v33h-1zM908 461h4v33h-4zM533 494h1v34h-1zM557 494h1v34h-1zM562 494h1v34h-1zM566 494h1v34h-1zM573 494h1v34h-1zM575 494h1v34h-1zM579 494h1v34h-1zM583 494h1v34h-1zM589 494h1v34h-1zM591 494h1v34h-1zM596 494h3v34h-3zM602 494h1v34h-1zM622 494h1v34h-1zM629 494h4v34h-4zM637 494h1v34h-1zM644 494h3v34h-3zM656 494h2v34h-2zM682 494h2v34h-2zM693 494h1v34h-1zM708 494h1v34h-1zM729 494h1v34h-1zM750 494h5v34h-5zM765 494h3v34h-3zM772 494h1v34h-1zM781 494h1v34h-1zM803 494h2v34h-2zM807 494h2v34h-2zM814 494h2v34h-2zM841 494h2v34h-2zM852 494h2v34h-2zM863 494h2v34h-2zM874 494h1v34h-1zM898 494h2v34h-2zM913 494h2v34h-2zM917 494h1v34h-1zM931 494h1v34h-1zM936 494h1v34h-1zM939 494h4v34h-4zM533 528h1v33h-1zM541 528h1v33h-1zM562 528h1v33h-1zM566 528h1v33h-1zM571 528h1v33h-1zM573 528h1v33h-1zM575 528h1v33h-1zM579 528h1v33h-1zM583 528h1v33h-1zM589 528h1v33h-1zM591 528h1v33h-1zM596 528h3v33h-3zM602 528h1v33h-1zM619 528h1v33h-1zM621 528h1v33h-1zM629 528h3v33h-3zM635 528h3v33h-3zM642 528h3v33h-3zM648 528h1v33h-1zM651 528h1v33h-1zM656 528h2v33h-2zM663 528h3v33h-3zM668 528h6v33h-6zM697 528h2v33h-2zM700 528h1v33h-1zM705 528h2v33h-2zM708 528h1v33h-1zM735 528h3v33h-3zM758 528h1v33h-1zM760 528h2v33h-2zM765 528h3v33h-3zM774 528h5v33h-5zM784 528h1v33h-1zM791 528h2v33h-2zM816 528h2v33h-2zM841 528h2v33h-2zM867 528h4v33h-4zM881 528h1v33h-1zM894 528h1v33h-1zM927 528h3v33h-3zM937 528h2v33h-2zM949 528h2v33h-2zM541 561h1v34h-1zM566 561h2v34h-2zM573 561h1v34h-1zM575 561h1v34h-1zM579 561h1v34h-1zM583 561h1v34h-1zM589 561h1v34h-1zM591 561h1v34h-1zM594 561h1v34h-1zM596 561h3v34h-3zM602 561h1v34h-1zM619 561h1v34h-1zM622 561h1v34h-1zM624 561h2v34h-2zM629 561h6v34h-6zM647 561h2v34h-2zM651 561h3v34h-3zM656 561h2v34h-2zM669 561h1v34h-1zM680 561h2v34h-2zM684 561h1v34h-1zM686 561h2v34h-2zM695 561h2v34h-2zM699 561h5v34h-5zM713 561h1v34h-1zM718 561h1v34h-1zM731 561h1v34h-1zM736 561h2v34h-2zM742 561h3v34h-3zM754 561h4v34h-4zM765 561h1v34h-1zM780 561h1v34h-1zM782 561h2v34h-2zM797 561h1v34h-1zM817 561h3v34h-3zM852 561h5v34h-5zM865 561h2v34h-2zM872 561h2v34h-2zM886 561h3v34h-3zM901 561h2v34h-2zM912 561h1v34h-1zM918 561h1v34h-1zM931 561h1v34h-1zM939 561h4v34h-4zM945 561h1v34h-1zM951 561h2v34h-2zM954 561h1v34h-1zM961 561h2v34h-2zM984 561h7v34h-7zM533 595h1v33h-1zM541 595h1v33h-1zM566 595h2v33h-2zM573 595h1v33h-1zM575 595h1v33h-1zM579 595h1v33h-1zM583 595h1v33h-1zM589 595h1v33h-1zM591 595h1v33h-1zM597 595h2v33h-2zM602 595h1v33h-1zM617 595h2v33h-2zM623 595h1v33h-1zM625 595h2v33h-2zM633 595h2v33h-2zM651 595h1v33h-1zM670 595h1v33h-1zM672 595h1v33h-1zM697 595h2v33h-2zM727 595h1v33h-1zM740 595h2v33h-2zM779 595h2v33h-2zM800 595h1v33h-1zM874 595h1v33h-1zM894 595h1v33h-1zM898 595h2v33h-2zM946 595h1v33h-1zM949 595h4v33h-4zM961 595h2v33h-2zM533 628h1v33h-1zM557 628h1v33h-1zM562 628h1v33h-1zM566 628h2v33h-2zM573 628h1v33h-1zM575 628h1v33h-1zM583 628h1v33h-1zM589 628h1v33h-1zM591 628h1v33h-1zM596 628h4v33h-4zM602 628h1v33h-1zM622 628h1v33h-1zM626 628h6v33h-6zM635 628h2v33h-2zM642 628h3v33h-3zM647 628h1v33h-1zM650 628h1v33h-1zM658 628h3v33h-3zM666 628h1v33h-1zM670 628h3v33h-3zM674 628h1v33h-1zM689 628h2v33h-2zM695 628h2v33h-2zM707 628h1v33h-1zM731 628h1v33h-1zM735 628h1v33h-1zM754 628h1v33h-1zM763 628h2v33h-2zM768 628h3v33h-3zM774 628h4v33h-4zM779 628h1v33h-1zM790 628h1v33h-1zM797 628h2v33h-2zM807 628h2v33h-2zM816 628h1v33h-1zM822 628h5v33h-5zM927 628h4v33h-4zM934 628h2v33h-2zM946 628h1v33h-1zM949 628h2v33h-2zM961 628h2v33h-2zM972 628h3v33h-3zM982 628h2v33h-2zM991 628h3v33h-3zM996 628h1v33h-1zM541 661h1v34h-1zM562 661h1v34h-1zM566 661h2v34h-2zM573 661h1v34h-1zM575 661h1v34h-1zM579 661h1v34h-1zM583 661h1v34h-1zM589 661h1v34h-1zM591 661h1v34h-1zM596 661h3v34h-3zM602 661h1v34h-1zM624 661h1v34h-1zM626 661h1v34h-1zM632 661h1v34h-1zM637 661h1v34h-1zM639 661h1v34h-1zM642 661h4v34h-4zM647 661h3v34h-3zM652 661h1v34h-1zM658 661h3v34h-3zM663 661h3v34h-3zM672 661h2v34h-2zM677 661h3v34h-3zM689 661h2v34h-2zM700 661h1v34h-1zM704 661h1v34h-1zM724 661h3v34h-3zM728 661h1v34h-1zM735 661h1v34h-1zM750 661h4v34h-4zM759 661h1v34h-1zM768 661h1v34h-1zM772 661h1v34h-1zM774 661h5v34h-5zM781 661h1v34h-1zM784 661h1v34h-1zM801 661h2v34h-2zM811 661h2v34h-2zM822 661h4v34h-4zM857 661h2v34h-2zM880 661h1v34h-1zM885 661h1v34h-1zM955 661h1v34h-1zM963 661h2v34h-2zM986 661h3v34h-3zM991 661h2v34h-2zM1000 661h1v34h-1zM1005 661h1v34h-1zM533 695h1v33h-1zM541 695h1v33h-1zM562 695h1v33h-1zM566 695h2v33h-2zM573 695h1v33h-1zM575 695h1v33h-1zM579 695h1v33h-1zM583 695h1v33h-1zM589 695h1v33h-1zM591 695h1v33h-1zM596 695h1v33h-1zM598 695h1v33h-1zM602 695h1v33h-1zM623 695h2v33h-2zM627 695h5v33h-5zM644 695h1v33h-1zM651 695h1v33h-1zM654 695h2v33h-2zM674 695h1v33h-1zM680 695h2v33h-2zM709 695h4v33h-4zM719 695h3v33h-3zM731 695h1v33h-1zM736 695h2v33h-2zM740 695h6v33h-6zM758 695h1v33h-1zM762 695h1v33h-1zM800 695h3v33h-3zM822 695h4v33h-4zM831 695h1v33h-1zM833 695h1v33h-1zM843 695h3v33h-3zM882 695h2v33h-2zM894 695h1v33h-1zM897 695h1v33h-1zM961 695h2v33h-2zM1016 695h1v33h-1zM533 728h1v34h-1zM541 728h1v34h-1zM557 728h1v34h-1zM562 728h1v34h-1zM566 728h2v34h-2zM573 728h1v34h-1zM575 728h1v34h-1zM579 728h1v34h-1zM583 728h1v34h-1zM589 728h1v34h-1zM591 728h1v34h-1zM596 728h1v34h-1zM598 728h1v34h-1zM602 728h1v34h-1zM639 728h1v34h-1zM645 728h1v34h-1zM653 728h1v34h-1zM668 728h1v34h-1zM704 728h1v34h-1zM791 728h2v34h-2zM797 728h1v34h-1zM803 728h2v34h-2zM806 728h1v34h-1zM809 728h4v34h-4zM879 728h1v34h-1zM918 728h1v34h-1zM956 728h2v34h-2zM972 728h3v34h-3zM981 728h1v34h-1zM1013 728h3v34h-3zM533 762h1v33h-1zM541 762h1v33h-1zM557 762h1v33h-1zM562 762h1v33h-1zM565 762h1v33h-1zM567 762h1v33h-1zM573 762h1v33h-1zM575 762h2v33h-2zM579 762h1v33h-1zM589 762h1v33h-1zM591 762h1v33h-1zM594 762h1v33h-1zM597 762h3v33h-3zM602 762h1v33h-1zM604 762h1v33h-1zM617 762h2v33h-2zM621 762h2v33h-2zM624 762h1v33h-1zM626 762h1v33h-1zM633 762h2v33h-2zM637 762h1v33h-1zM642 762h2v33h-2zM650 762h1v33h-1zM652 762h1v33h-1zM670 762h1v33h-1zM674 762h1v33h-1zM693 762h1v33h-1zM714 762h4v33h-4zM736 762h2v33h-2zM779 762h1v33h-1zM788 762h2v33h-2zM923 762h2v33h-2zM943 762h1v33h-1zM996 762h1v33h-1zM1026 762h1v33h-1zM533 795h1v34h-1zM541 795h1v34h-1zM557 795h1v34h-1zM562 795h1v34h-1zM566 795h3v34h-3zM573 795h1v34h-1zM575 795h1v34h-1zM577 795h1v34h-1zM579 795h1v34h-1zM583 795h1v34h-1zM591 795h1v34h-1zM598 795h1v34h-1zM604 795h3v34h-3zM653 795h1v34h-1zM693 795h1v34h-1zM723 795h1v34h-1zM731 795h1v34h-1zM733 795h1v34h-1zM736 795h2v34h-2zM740 795h6v34h-6zM754 795h1v34h-1zM795 795h2v34h-2zM800 795h1v34h-1zM831 795h1v34h-1zM854 795h5v34h-5zM865 795h2v34h-2zM951 795h2v34h-2zM975 795h2v34h-2zM994 795h2v34h-2zM566 829h2v33h-2zM575 829h1v33h-1zM583 829h1v33h-1zM589 829h1v33h-1zM591 829h1v33h-1zM596 829h3v33h-3zM602 829h1v33h-1zM617 829h3v33h-3zM621 829h1v33h-1zM626 829h1v33h-1zM629 829h6v33h-6zM639 829h3v33h-3zM645 829h1v33h-1zM649 829h1v33h-1zM663 829h3v33h-3zM670 829h4v33h-4zM682 829h3v33h-3zM701 829h3v33h-3zM719 829h1v33h-1zM722 829h2v33h-2zM738 829h2v33h-2zM750 829h4v33h-4zM758 829h1v33h-1zM762 829h1v33h-1zM766 829h2v33h-2zM772 829h1v33h-1zM781 829h1v33h-1zM788 829h2v33h-2zM799 829h1v33h-1zM805 829h1v33h-1zM807 829h4v33h-4zM814 829h3v33h-3zM818 829h2v33h-2zM822 829h4v33h-4zM831 829h1v33h-1zM834 829h1v33h-1zM836 829h2v33h-2zM843 829h6v33h-6zM852 829h2v33h-2zM857 829h2v33h-2zM865 829h6v33h-6zM880 829h1v33h-1zM912 829h1v33h-1zM915 829h2v33h-2zM918 829h1v33h-1zM923 829h2v33h-2zM936 829h1v33h-1zM945 829h1v33h-1zM956 829h2v33h-2zM994 829h2v33h-2zM998 829h2v33h-2zM1001 829h1v33h-1zM1005 829h1v33h-1zM541 862h1v33h-1zM557 862h1v33h-1zM562 862h1v33h-1zM566 862h2v33h-2zM573 862h1v33h-1zM575 862h1v33h-1zM579 862h1v33h-1zM583 862h1v33h-1zM589 862h1v33h-1zM591 862h1v33h-1zM596 862h3v33h-3zM602 862h1v33h-1zM605 862h1v33h-1zM626 862h1v33h-1zM635 862h3v33h-3zM639 862h3v33h-3zM651 862h1v33h-1zM653 862h1v33h-1zM656 862h2v33h-2zM667 862h1v33h-1zM674 862h3v33h-3zM688 862h1v33h-1zM693 862h1v33h-1zM695 862h3v33h-3zM727 862h1v33h-1zM736 862h2v33h-2zM745 862h1v33h-1zM755 862h3v33h-3zM762 862h1v33h-1zM766 862h2v33h-2zM785 862h3v33h-3zM795 862h4v33h-4zM809 862h4v33h-4zM817 862h1v33h-1zM826 862h1v33h-1zM837 862h1v33h-1zM846 862h3v33h-3zM851 862h1v33h-1zM854 862h3v33h-3zM889 862h4v33h-4zM900 862h1v33h-1zM908 862h4v33h-4zM920 862h1v33h-1zM930 862h1v33h-1zM947 862h1v33h-1zM991 862h2v33h-2zM1026 862h1v33h-1zM1032 862h3v33h-3zM533 895h1v34h-1zM557 895h1v34h-1zM562 895h1v34h-1zM566 895h3v34h-3zM573 895h1v34h-1zM575 895h2v34h-2zM579 895h1v34h-1zM583 895h1v34h-1zM587 895h1v34h-1zM589 895h1v34h-1zM591 895h1v34h-1zM596 895h3v34h-3zM602 895h1v34h-1zM606 895h1v34h-1zM617 895h2v34h-2zM624 895h3v34h-3zM629 895h3v34h-3zM639 895h1v34h-1zM652 895h1v34h-1zM667 895h2v34h-2zM670 895h1v34h-1zM677 895h3v34h-3zM684 895h1v34h-1zM694 895h1v34h-1zM715 895h3v34h-3zM719 895h3v34h-3zM734 895h2v34h-2zM746 895h1v34h-1zM749 895h1v34h-1zM759 895h1v34h-1zM772 895h1v34h-1zM790 895h1v34h-1zM806 895h1v34h-1zM809 895h2v34h-2zM817 895h1v34h-1zM829 895h2v34h-2zM872 895h2v34h-2zM894 895h1v34h-1zM904 895h2v34h-2zM930 895h1v34h-1zM934 895h2v34h-2zM948 895h1v34h-1zM998 895h3v34h-3zM1002 895h3v34h-3zM1026 895h1v34h-1zM1037 895h1v34h-1zM533 929h1v33h-1zM541 929h1v33h-1zM557 929h1v33h-1zM562 929h1v33h-1zM566 929h2v33h-2zM573 929h1v33h-1zM575 929h3v33h-3zM579 929h1v33h-1zM583 929h1v33h-1zM589 929h1v33h-1zM591 929h1v33h-1zM594 929h1v33h-1zM596 929h2v33h-2zM599 929h1v33h-1zM602 929h1v33h-1zM617 929h2v33h-2zM620 929h1v33h-1zM622 929h1v33h-1zM632 929h1v33h-1zM638 929h1v33h-1zM640 929h2v33h-2zM649 929h2v33h-2zM658 929h3v33h-3zM672 929h4v33h-4zM693 929h2v33h-2zM701 929h3v33h-3zM709 929h4v33h-4zM722 929h1v33h-1zM729 929h1v33h-1zM746 929h1v33h-1zM785 929h3v33h-3zM807 929h2v33h-2zM814 929h2v33h-2zM829 929h3v33h-3zM894 929h1v33h-1zM901 929h5v33h-5zM908 929h4v33h-4zM951 929h2v33h-2zM963 929h2v33h-2zM993 929h1v33h-1zM557 962h1v34h-1zM562 962h1v34h-1zM567 962h1v34h-1zM575 962h1v34h-1zM579 962h1v34h-1zM589 962h1v34h-1zM591 962h1v34h-1zM594 962h1v34h-1zM596 962h4v34h-4zM602 962h1v34h-1zM622 962h1v34h-1zM625 962h1v34h-1zM629 962h3v34h-3zM658 962h5v34h-5zM668 962h1v34h-1zM670 962h1v34h-1zM676 962h4v34h-4zM685 962h4v34h-4zM704 962h1v34h-1zM713 962h1v34h-1zM735 962h1v34h-1zM748 962h1v34h-1zM774 962h4v34h-4zM795 962h2v34h-2zM799 962h2v34h-2zM809 962h2v34h-2zM820 962h2v34h-2zM831 962h1v34h-1zM849 962h2v34h-2zM867 962h4v34h-4zM882 962h2v34h-2zM885 962h1v34h-1zM897 962h3v34h-3zM901 962h2v34h-2zM906 962h2v34h-2zM912 962h1v34h-1zM918 962h1v34h-1zM953 962h1v34h-1zM1000 962h1v34h-1zM1029 962h3v34h-3zM1034 962h2v34h-2zM1038 962h1v34h-1zM541 996h1v33h-1zM557 996h1v33h-1zM562 996h1v33h-1zM575 996h1v33h-1zM579 996h1v33h-1zM583 996h1v33h-1zM589 996h1v33h-1zM591 996h1v33h-1zM596 996h4v33h-4zM602 996h1v33h-1zM619 996h3v33h-3zM626 996h1v33h-1zM632 996h1v33h-1zM637 996h3v33h-3zM647 996h1v33h-1zM649 996h1v33h-1zM658 996h3v33h-3zM667 996h2v33h-2zM675 996h2v33h-2zM684 996h1v33h-1zM686 996h2v33h-2zM693 996h1v33h-1zM704 996h4v33h-4zM718 996h1v33h-1zM729 996h1v33h-1zM750 996h4v33h-4zM763 996h2v33h-2zM768 996h3v33h-3zM781 996h3v33h-3zM797 996h1v33h-1zM806 996h1v33h-1zM811 996h2v33h-2zM818 996h4v33h-4zM831 996h2v33h-2zM836 996h1v33h-1zM846 996h3v33h-3zM851 996h1v33h-1zM857 996h2v33h-2zM863 996h4v33h-4zM877 996h2v33h-2zM884 996h1v33h-1zM896 996h1v33h-1zM901 996h2v33h-2zM936 996h1v33h-1zM943 996h1v33h-1zM959 996h2v33h-2zM963 996h2v33h-2zM984 996h2v33h-2zM993 996h1v33h-1zM998 996h2v33h-2zM1013 996h3v33h-3zM1017 996h1v33h-1zM1020 996h1v33h-1zM1034 996h1v33h-1zM557 1029h1v34h-1zM562 1029h1v34h-1zM573 1029h1v34h-1zM579 1029h1v34h-1zM583 1029h1v34h-1zM589 1029h1v34h-1zM591 1029h1v34h-1zM596 1029h3v34h-3zM602 1029h1v34h-1zM619 1029h3v34h-3zM624 1029h1v34h-1zM627 1029h2v34h-2zM633 1029h2v34h-2zM637 1029h2v34h-2zM642 1029h2v34h-2zM647 1029h1v34h-1zM652 1029h1v34h-1zM654 1029h2v34h-2zM658 1029h3v34h-3zM667 1029h2v34h-2zM673 1029h1v34h-1zM675 1029h2v34h-2zM697 1029h1v34h-1zM701 1029h3v34h-3zM709 1029h4v34h-4zM723 1029h4v34h-4zM731 1029h1v34h-1zM734 1029h1v34h-1zM740 1029h2v34h-2zM748 1029h1v34h-1zM750 1029h4v34h-4zM762 1029h1v34h-1zM769 1029h2v34h-2zM788 1029h2v34h-2zM795 1029h2v34h-2zM800 1029h1v34h-1zM807 1029h2v34h-2zM813 1029h1v34h-1zM816 1029h2v34h-2zM820 1029h2v34h-2zM826 1029h1v34h-1zM834 1029h1v34h-1zM836 1029h2v34h-2zM875 1029h4v34h-4zM893 1029h1v34h-1zM919 1029h1v34h-1zM921 1029h2v34h-2zM930 1029h1v34h-1zM936 1029h1v34h-1zM939 1029h4v34h-4zM944 1029h1v34h-1zM955 1029h1v34h-1zM533 1063h1v33h-1zM541 1063h1v33h-1zM557 1063h1v33h-1zM566 1063h1v33h-1zM573 1063h1v33h-1zM575 1063h1v33h-1zM579 1063h1v33h-1zM583 1063h1v33h-1zM590 1063h2v33h-2zM596 1063h3v33h-3zM602 1063h1v33h-1zM605 1063h1v33h-1zM620 1063h4v33h-4zM626 1063h3v33h-3zM635 1063h2v33h-2zM642 1063h2v33h-2zM647 1063h1v33h-1zM658 1063h3v33h-3zM663 1063h3v33h-3zM668 1063h1v33h-1zM672 1063h2v33h-2zM675 1063h1v33h-1zM682 1063h2v33h-2zM689 1063h2v33h-2zM697 1063h1v33h-1zM699 1063h1v33h-1zM701 1063h3v33h-3zM715 1063h3v33h-3zM723 1063h1v33h-1zM742 1063h3v33h-3zM748 1063h1v33h-1zM762 1063h1v33h-1zM765 1063h1v33h-1zM773 1063h1v33h-1zM814 1063h4v33h-4zM838 1063h1v33h-1zM843 1063h3v33h-3zM872 1063h2v33h-2zM875 1063h2v33h-2zM885 1063h1v33h-1zM897 1063h1v33h-1zM920 1063h1v33h-1zM946 1063h1v33h-1zM965 1063h2v33h-2zM975 1063h2v33h-2zM989 1063h2v33h-2zM1002 1063h3v33h-3zM1024 1063h2v33h-2zM1040 1063h1v33h-1zM1042 1063h1v33h-1zM533 1096h1v34h-1zM541 1096h1v34h-1zM557 1096h1v34h-1zM567 1096h1v34h-1zM573 1096h1v34h-1zM575 1096h1v34h-1zM579 1096h1v34h-1zM583 1096h1v34h-1zM589 1096h1v34h-1zM591 1096h1v34h-1zM594 1096h1v34h-1zM596 1096h1v34h-1zM598 1096h1v34h-1zM602 1096h1v34h-1zM619 1096h1v34h-1zM621 1096h1v34h-1zM627 1096h5v34h-5zM638 1096h4v34h-4zM667 1096h1v34h-1zM671 1096h1v34h-1zM688 1096h1v34h-1zM691 1096h2v34h-2zM695 1096h4v34h-4zM707 1096h1v34h-1zM709 1096h4v34h-4zM722 1096h1v34h-1zM727 1096h1v34h-1zM731 1096h1v34h-1zM738 1096h2v34h-2zM746 1096h1v34h-1zM763 1096h2v34h-2zM772 1096h6v34h-6zM782 1096h2v34h-2zM785 1096h3v34h-3zM795 1096h3v34h-3zM807 1096h2v34h-2zM820 1096h2v34h-2zM826 1096h1v34h-1zM831 1096h1v34h-1zM835 1096h1v34h-1zM839 1096h1v34h-1zM849 1096h2v34h-2zM854 1096h3v34h-3zM879 1096h1v34h-1zM884 1096h1v34h-1zM894 1096h1v34h-1zM915 1096h2v34h-2zM927 1096h3v34h-3zM932 1096h2v34h-2zM969 1096h2v34h-2zM1000 1096h1v34h-1z"/><path fill="#ffdcc2" d="M533 93h1v33h-1zM541 93h1v33h-1zM553 93h1v33h-1zM557 93h1v33h-1zM562 93h1v33h-1zM566 93h1v33h-1zM571 93h1v33h-1zM576 93h1v33h-1zM587 93h1v33h-1zM590 93h1v33h-1zM599 93h1v33h-1zM604 93h2v33h-2zM533 126h1v34h-1zM557 126h1v34h-1zM562 126h1v34h-1zM573 126h1v34h-1zM589 126h2v34h-2zM617 126h2v34h-2zM540 160h1v33h-1zM549 160h1v33h-1zM551 160h1v33h-1zM553 160h1v33h-1zM555 160h2v33h-2zM560 160h1v33h-1zM565 160h1v33h-1zM568 160h1v33h-1zM577 160h2v33h-2zM581 160h1v33h-1zM587 160h1v33h-1zM590 160h1v33h-1zM594 160h1v33h-1zM604 160h1v33h-1zM608 160h1v33h-1zM682 160h2v33h-2zM709 160h4v33h-4zM542 193h1v34h-1zM564 193h2v34h-2zM568 193h1v34h-1zM571 193h1v34h-1zM574 193h1v34h-1zM576 193h1v34h-1zM578 193h1v34h-1zM588 193h1v34h-1zM590 193h1v34h-1zM594 193h1v34h-1zM604 193h1v34h-1zM617 193h2v34h-2zM627 193h2v34h-2zM713 193h1v34h-1zM533 227h1v33h-1zM541 227h1v33h-1zM557 227h1v33h-1zM562 227h1v33h-1zM565 227h1v33h-1zM576 227h1v33h-1zM587 227h1v33h-1zM590 227h1v33h-1zM594 227h1v33h-1zM599 227h1v33h-1zM604 227h2v33h-2zM619 227h2v33h-2zM640 227h2v33h-2zM645 227h1v33h-1zM647 227h1v33h-1zM654 227h2v33h-2zM686 227h2v33h-2zM555 260h1v34h-1zM564 260h1v34h-1zM568 260h1v34h-1zM574 260h1v34h-1zM577 260h2v34h-2zM599 260h2v34h-2zM617 260h2v34h-2zM623 260h1v34h-1zM644 260h1v34h-1zM654 260h2v34h-2zM658 260h5v34h-5zM715 260h3v34h-3zM881 260h1v34h-1zM548 294h1v33h-1zM557 294h1v33h-1zM566 294h2v33h-2zM575 294h2v33h-2zM594 294h1v33h-1zM604 294h2v33h-2zM617 294h2v33h-2zM633 294h2v33h-2zM644 294h2v33h-2zM656 294h7v33h-7zM686 294h2v33h-2zM567 327h1v33h-1zM594 327h1v33h-1zM606 327h1v33h-1zM620 327h1v33h-1zM622 327h1v33h-1zM632 327h3v33h-3zM646 327h1v33h-1zM648 327h1v33h-1zM650 327h1v33h-1zM656 327h2v33h-2zM667 327h1v33h-1zM708 327h1v33h-1zM723 327h4v33h-4zM765 327h1v33h-1zM551 360h1v34h-1zM557 360h1v34h-1zM576 360h1v34h-1zM587 360h1v34h-1zM594 360h1v34h-1zM599 360h1v34h-1zM604 360h2v34h-2zM620 360h2v34h-2zM624 360h2v34h-2zM642 360h2v34h-2zM648 360h1v34h-1zM651 360h1v34h-1zM656 360h2v34h-2zM709 360h4v34h-4zM728 360h1v34h-1zM765 360h1v34h-1zM800 360h1v34h-1zM538 394h1v33h-1zM571 394h1v33h-1zM576 394h3v33h-3zM582 394h1v33h-1zM587 394h1v33h-1zM590 394h1v33h-1zM599 394h1v33h-1zM604 394h3v33h-3zM622 394h1v33h-1zM629 394h6v33h-6zM670 394h1v33h-1zM680 394h2v33h-2zM730 394h1v33h-1zM762 394h1v33h-1zM841 394h2v33h-2zM562 427h1v34h-1zM566 427h1v34h-1zM568 427h1v34h-1zM587 427h1v34h-1zM594 427h1v34h-1zM599 427h1v34h-1zM604 427h2v34h-2zM617 427h2v34h-2zM622 427h1v34h-1zM633 427h2v34h-2zM638 427h1v34h-1zM642 427h2v34h-2zM645 427h2v34h-2zM650 427h1v34h-1zM670 427h1v34h-1zM684 427h1v34h-1zM698 427h1v34h-1zM718 427h2v34h-2zM728 427h1v34h-1zM779 427h1v34h-1zM800 427h1v34h-1zM904 427h2v34h-2zM931 427h1v34h-1zM530 461h1v33h-1zM536 461h1v33h-1zM549 461h1v33h-1zM553 461h1v33h-1zM556 461h1v33h-1zM564 461h2v33h-2zM568 461h1v33h-1zM578 461h1v33h-1zM603 461h1v33h-1zM668 461h1v33h-1zM671 461h1v33h-1zM723 461h1v33h-1zM896 461h1v33h-1zM541 494h1v34h-1zM567 494h1v34h-1zM594 494h1v34h-1zM599 494h1v34h-1zM606 494h1v34h-1zM623 494h2v34h-2zM635 494h2v34h-2zM638 494h1v34h-1zM642 494h2v34h-2zM647 494h1v34h-1zM652 494h1v34h-1zM661 494h5v34h-5zM667 494h1v34h-1zM680 494h2v34h-2zM691 494h2v34h-2zM699 494h1v34h-1zM714 494h1v34h-1zM728 494h1v34h-1zM731 494h1v34h-1zM733 494h1v34h-1zM779 494h1v34h-1zM817 494h1v34h-1zM900 494h1v34h-1zM557 528h1v33h-1zM567 528h1v33h-1zM578 528h1v33h-1zM590 528h1v33h-1zM604 528h2v33h-2zM617 528h2v33h-2zM622 528h1v33h-1zM625 528h1v33h-1zM627 528h2v33h-2zM638 528h1v33h-1zM646 528h2v33h-2zM650 528h1v33h-1zM658 528h3v33h-3zM666 528h2v33h-2zM680 528h2v33h-2zM684 528h1v33h-1zM686 528h5v33h-5zM694 528h1v33h-1zM709 528h5v33h-5zM731 528h2v33h-2zM771 528h1v33h-1zM785 528h3v33h-3zM790 528h1v33h-1zM874 528h1v33h-1zM886 528h1v33h-1zM903 528h1v33h-1zM915 528h2v33h-2zM533 561h1v34h-1zM557 561h1v34h-1zM562 561h1v34h-1zM568 561h1v34h-1zM617 561h2v34h-2zM620 561h2v34h-2zM623 561h1v34h-1zM649 561h1v34h-1zM666 561h2v34h-2zM673 561h1v34h-1zM685 561h1v34h-1zM693 561h1v34h-1zM709 561h4v34h-4zM724 561h3v34h-3zM730 561h1v34h-1zM734 561h1v34h-1zM766 561h2v34h-2zM793 561h2v34h-2zM542 595h1v33h-1zM557 595h1v33h-1zM562 595h1v33h-1zM576 595h3v33h-3zM587 595h1v33h-1zM590 595h1v33h-1zM594 595h1v33h-1zM599 595h1v33h-1zM604 595h3v33h-3zM608 595h1v33h-1zM619 595h1v33h-1zM639 595h3v33h-3zM645 595h1v33h-1zM650 595h1v33h-1zM652 595h1v33h-1zM669 595h1v33h-1zM671 595h1v33h-1zM674 595h1v33h-1zM682 595h3v33h-3zM700 595h1v33h-1zM707 595h1v33h-1zM709 595h6v33h-6zM728 595h1v33h-1zM732 595h1v33h-1zM734 595h1v33h-1zM798 595h1v33h-1zM820 595h2v33h-2zM944 595h1v33h-1zM993 595h1v33h-1zM996 595h1v33h-1zM541 628h1v33h-1zM579 628h1v33h-1zM594 628h1v33h-1zM605 628h1v33h-1zM617 628h3v33h-3zM621 628h1v33h-1zM625 628h1v33h-1zM638 628h4v33h-4zM646 628h1v33h-1zM656 628h2v33h-2zM661 628h2v33h-2zM669 628h1v33h-1zM685 628h1v33h-1zM693 628h2v33h-2zM697 628h1v33h-1zM700 628h4v33h-4zM705 628h2v33h-2zM708 628h5v33h-5zM740 628h2v33h-2zM755 628h3v33h-3zM793 628h2v33h-2zM867 628h4v33h-4zM906 628h2v33h-2zM943 628h1v33h-1zM945 628h1v33h-1zM533 661h1v34h-1zM556 661h2v34h-2zM578 661h1v34h-1zM587 661h1v34h-1zM594 661h1v34h-1zM599 661h1v34h-1zM606 661h1v34h-1zM617 661h2v34h-2zM622 661h1v34h-1zM633 661h2v34h-2zM667 661h1v34h-1zM670 661h1v34h-1zM695 661h2v34h-2zM729 661h4v34h-4zM736 661h2v34h-2zM745 661h1v34h-1zM748 661h1v34h-1zM769 661h2v34h-2zM788 661h2v34h-2zM803 661h2v34h-2zM809 661h2v34h-2zM820 661h2v34h-2zM953 661h1v34h-1zM551 695h1v33h-1zM557 695h1v33h-1zM568 695h1v33h-1zM574 695h1v33h-1zM576 695h3v33h-3zM587 695h1v33h-1zM590 695h1v33h-1zM594 695h1v33h-1zM599 695h1v33h-1zM604 695h3v33h-3zM621 695h1v33h-1zM625 695h1v33h-1zM632 695h1v33h-1zM638 695h1v33h-1zM646 695h1v33h-1zM667 695h1v33h-1zM700 695h1v33h-1zM718 695h1v33h-1zM738 695h2v33h-2zM832 695h1v33h-1zM535 728h1v34h-1zM571 728h1v34h-1zM576 728h2v34h-2zM587 728h1v34h-1zM590 728h1v34h-1zM594 728h1v34h-1zM599 728h1v34h-1zM604 728h3v34h-3zM625 728h1v34h-1zM642 728h3v34h-3zM647 728h1v34h-1zM649 728h2v34h-2zM695 728h2v34h-2zM723 728h1v34h-1zM766 728h2v34h-2zM798 728h1v34h-1zM887 728h2v34h-2zM894 728h1v34h-1zM953 728h1v34h-1zM544 762h1v33h-1zM556 762h1v33h-1zM568 762h1v33h-1zM571 762h1v33h-1zM574 762h1v33h-1zM577 762h2v33h-2zM587 762h1v33h-1zM590 762h1v33h-1zM605 762h2v33h-2zM619 762h1v33h-1zM639 762h1v33h-1zM649 762h1v33h-1zM651 762h1v33h-1zM658 762h5v33h-5zM667 762h1v33h-1zM669 762h1v33h-1zM675 762h1v33h-1zM677 762h3v33h-3zM682 762h2v33h-2zM686 762h2v33h-2zM704 762h1v33h-1zM733 762h1v33h-1zM735 762h1v33h-1zM881 762h1v33h-1zM1021 762h1v33h-1zM556 795h1v34h-1zM564 795h2v34h-2zM571 795h1v34h-1zM574 795h1v34h-1zM576 795h1v34h-1zM578 795h1v34h-1zM587 795h2v34h-2zM590 795h1v34h-1zM594 795h1v34h-1zM599 795h1v34h-1zM609 795h1v34h-1zM617 795h2v34h-2zM621 795h2v34h-2zM632 795h1v34h-1zM635 795h3v34h-3zM639 795h3v34h-3zM650 795h2v34h-2zM685 795h3v34h-3zM700 795h1v34h-1zM759 795h1v34h-1zM826 795h1v34h-1zM835 795h1v34h-1zM917 795h2v34h-2zM921 795h2v34h-2zM934 795h3v34h-3zM533 829h1v33h-1zM541 829h1v33h-1zM557 829h1v33h-1zM562 829h1v33h-1zM573 829h1v33h-1zM579 829h1v33h-1zM587 829h1v33h-1zM594 829h1v33h-1zM620 829h1v33h-1zM637 829h1v33h-1zM644 829h1v33h-1zM648 829h1v33h-1zM666 829h1v33h-1zM675 829h7v33h-7zM693 829h1v33h-1zM720 829h2v33h-2zM727 829h1v33h-1zM746 829h1v33h-1zM806 829h1v33h-1zM887 829h2v33h-2zM1006 829h1v33h-1zM533 862h1v33h-1zM599 862h1v33h-1zM624 862h2v33h-2zM629 862h6v33h-6zM648 862h1v33h-1zM652 862h1v33h-1zM689 862h2v33h-2zM704 862h1v33h-1zM708 862h1v33h-1zM832 862h1v33h-1zM1002 862h3v33h-3zM1009 862h4v33h-4zM541 895h1v34h-1zM571 895h1v34h-1zM574 895h1v34h-1zM590 895h1v34h-1zM594 895h1v34h-1zM599 895h1v34h-1zM604 895h2v34h-2zM622 895h1v34h-1zM645 895h1v34h-1zM649 895h1v34h-1zM654 895h4v34h-4zM680 895h2v34h-2zM686 895h2v34h-2zM695 895h2v34h-2zM700 895h1v34h-1zM797 895h1v34h-1zM838 895h1v34h-1zM949 895h2v34h-2zM1027 895h2v34h-2zM537 929h1v33h-1zM540 929h1v33h-1zM547 929h1v33h-1zM564 929h1v33h-1zM568 929h1v33h-1zM574 929h1v33h-1zM578 929h1v33h-1zM580 929h1v33h-1zM587 929h1v33h-1zM590 929h1v33h-1zM604 929h3v33h-3zM644 929h1v33h-1zM647 929h1v33h-1zM653 929h1v33h-1zM661 929h2v33h-2zM670 929h1v33h-1zM698 929h1v33h-1zM747 929h1v33h-1zM818 929h2v33h-2zM533 962h1v34h-1zM541 962h1v34h-1zM566 962h1v34h-1zM573 962h1v34h-1zM605 962h2v34h-2zM626 962h3v34h-3zM637 962h1v34h-1zM642 962h2v34h-2zM645 962h1v34h-1zM648 962h1v34h-1zM651 962h1v34h-1zM680 962h4v34h-4zM705 962h2v34h-2zM738 962h2v34h-2zM742 962h3v34h-3zM760 962h2v34h-2zM816 962h1v34h-1zM837 962h1v34h-1zM880 962h1v34h-1zM1040 962h1v34h-1zM533 996h1v33h-1zM564 996h1v33h-1zM566 996h2v33h-2zM573 996h1v33h-1zM587 996h1v33h-1zM594 996h1v33h-1zM605 996h2v33h-2zM623 996h1v33h-1zM627 996h2v33h-2zM642 996h2v33h-2zM652 996h1v33h-1zM674 996h1v33h-1zM691 996h2v33h-2zM694 996h1v33h-1zM723 996h1v33h-1zM732 996h2v33h-2zM735 996h1v33h-1zM758 996h2v33h-2zM785 996h3v33h-3zM799 996h4v33h-4zM814 996h2v33h-2zM893 996h1v33h-1zM919 996h1v33h-1zM937 996h2v33h-2zM946 996h1v33h-1zM1018 996h2v33h-2zM1041 996h1v33h-1zM533 1029h1v34h-1zM541 1029h1v34h-1zM566 1029h2v34h-2zM575 1029h1v34h-1zM594 1029h1v34h-1zM599 1029h1v34h-1zM604 1029h1v34h-1zM606 1029h1v34h-1zM625 1029h2v34h-2zM632 1029h1v34h-1zM635 1029h2v34h-2zM644 1029h2v34h-2zM651 1029h1v34h-1zM672 1029h1v34h-1zM677 1029h5v34h-5zM688 1029h3v34h-3zM695 1029h2v34h-2zM707 1029h1v34h-1zM714 1029h1v34h-1zM729 1029h1v34h-1zM732 1029h1v34h-1zM738 1029h2v34h-2zM746 1029h1v34h-1zM822 1029h4v34h-4zM839 1029h1v34h-1zM854 1029h3v34h-3zM1037 1029h1v34h-1zM1039 1029h1v34h-1zM562 1063h1v33h-1zM567 1063h1v33h-1zM574 1063h1v33h-1zM587 1063h1v33h-1zM594 1063h1v33h-1zM599 1063h1v33h-1zM606 1063h1v33h-1zM617 1063h2v33h-2zM624 1063h2v33h-2zM648 1063h1v33h-1zM651 1063h1v33h-1zM666 1063h1v33h-1zM676 1063h1v33h-1zM686 1063h2v33h-2zM694 1063h1v33h-1zM698 1063h1v33h-1zM724 1063h3v33h-3zM732 1063h1v33h-1zM734 1063h1v33h-1zM740 1063h2v33h-2zM745 1063h1v33h-1zM766 1063h2v33h-2zM771 1063h1v33h-1zM835 1063h1v33h-1zM1017 1063h1v33h-1zM1021 1063h1v33h-1zM1036 1063h1v33h-1zM544 1096h1v34h-1zM562 1096h1v34h-1zM566 1096h1v34h-1zM576 1096h2v34h-2zM587 1096h1v34h-1zM599 1096h2v34h-2zM604 1096h3v34h-3zM622 1096h1v34h-1zM635 1096h2v34h-2zM645 1096h1v34h-1zM648 1096h1v34h-1zM661 1096h5v34h-5zM670 1096h1v34h-1zM684 1096h1v34h-1zM700 1096h1v34h-1zM719 1096h1v34h-1zM742 1096h3v34h-3zM748 1096h1v34h-1zM833 1096h1v34h-1zM939 1096h4v34h-4zM1043 1096h1v34h-1z"/><path fill="#ffcbb2" d="M540 93h1v33h-1zM556 93h1v33h-1zM565 93h1v33h-1zM568 93h1v33h-1zM574 93h1v33h-1zM578 93h1v33h-1zM586 93h1v33h-1zM561 126h1v34h-1zM576 126h3v34h-3zM587 126h1v34h-1zM594 126h1v34h-1zM599 126h1v34h-1zM604 126h2v34h-2zM524 160h1v33h-1zM535 160h1v33h-1zM537 160h1v33h-1zM539 160h1v33h-1zM543 160h2v33h-2zM546 160h3v33h-3zM550 160h1v33h-1zM552 160h1v33h-1zM559 160h1v33h-1zM561 160h1v33h-1zM564 160h1v33h-1zM572 160h1v33h-1zM580 160h1v33h-1zM585 160h1v33h-1zM592 160h1v33h-1zM595 160h1v33h-1zM600 160h2v33h-2zM603 160h1v33h-1zM607 160h1v33h-1zM609 160h1v33h-1zM535 193h1v34h-1zM546 193h1v34h-1zM548 193h6v34h-6zM556 193h1v34h-1zM560 193h1v34h-1zM563 193h1v34h-1zM569 193h2v34h-2zM607 193h1v34h-1zM656 193h2v34h-2zM568 227h1v33h-1zM571 227h1v33h-1zM574 227h1v33h-1zM577 227h2v33h-2zM606 227h1v33h-1zM658 227h3v33h-3zM865 227h2v33h-2zM525 260h1v34h-1zM537 260h2v34h-2zM544 260h3v34h-3zM548 260h6v34h-6zM558 260h2v34h-2zM565 260h1v34h-1zM570 260h1v34h-1zM572 260h1v34h-1zM581 260h1v34h-1zM586 260h1v34h-1zM607 260h1v34h-1zM619 260h1v34h-1zM543 294h1v33h-1zM559 294h1v33h-1zM571 294h1v33h-1zM577 294h1v33h-1zM587 294h1v33h-1zM590 294h1v33h-1zM599 294h1v33h-1zM606 294h1v33h-1zM635 294h2v33h-2zM684 294h1v33h-1zM688 294h1v33h-1zM546 327h1v33h-1zM568 327h1v33h-1zM571 327h1v33h-1zM574 327h1v33h-1zM576 327h1v33h-1zM578 327h1v33h-1zM586 327h2v33h-2zM590 327h1v33h-1zM599 327h1v33h-1zM604 327h1v33h-1zM629 327h3v33h-3zM640 327h2v33h-2zM647 327h1v33h-1zM682 327h2v33h-2zM685 327h1v33h-1zM693 327h1v33h-1zM788 327h2v33h-2zM895 327h1v33h-1zM908 327h4v33h-4zM545 360h1v34h-1zM556 360h1v34h-1zM565 360h1v34h-1zM568 360h1v34h-1zM571 360h1v34h-1zM574 360h1v34h-1zM577 360h2v34h-2zM590 360h1v34h-1zM595 360h1v34h-1zM629 360h3v34h-3zM633 360h2v34h-2zM524 394h1v33h-1zM551 394h3v33h-3zM556 394h1v33h-1zM564 394h2v33h-2zM581 394h1v33h-1zM609 394h1v33h-1zM623 394h1v33h-1zM644 394h1v33h-1zM650 394h1v33h-1zM695 394h2v33h-2zM722 394h1v33h-1zM765 394h1v33h-1zM879 394h1v33h-1zM564 427h1v34h-1zM571 427h1v34h-1zM574 427h1v34h-1zM576 427h3v34h-3zM586 427h1v34h-1zM590 427h1v34h-1zM606 427h1v34h-1zM620 427h2v34h-2zM691 427h2v34h-2zM715 427h3v34h-3zM525 461h1v33h-1zM529 461h1v33h-1zM535 461h1v33h-1zM539 461h2v33h-2zM543 461h4v33h-4zM548 461h1v33h-1zM551 461h2v33h-2zM554 461h2v33h-2zM558 461h4v33h-4zM563 461h1v33h-1zM569 461h1v33h-1zM580 461h3v33h-3zM585 461h1v33h-1zM588 461h1v33h-1zM592 461h1v33h-1zM595 461h1v33h-1zM600 461h1v33h-1zM607 461h3v33h-3zM670 461h1v33h-1zM843 461h3v33h-3zM886 461h1v33h-1zM543 494h1v34h-1zM554 494h1v34h-1zM568 494h1v34h-1zM574 494h1v34h-1zM576 494h1v34h-1zM578 494h1v34h-1zM587 494h1v34h-1zM590 494h1v34h-1zM604 494h2v34h-2zM619 494h1v34h-1zM625 494h1v34h-1zM654 494h2v34h-2zM694 494h1v34h-1zM720 494h2v34h-2zM723 494h1v34h-1zM882 494h2v34h-2zM568 528h1v33h-1zM574 528h1v33h-1zM576 528h1v33h-1zM587 528h1v33h-1zM594 528h2v33h-2zM599 528h1v33h-1zM606 528h1v33h-1zM620 528h1v33h-1zM645 528h1v33h-1zM652 528h1v33h-1zM714 528h1v33h-1zM729 528h1v33h-1zM734 528h1v33h-1zM759 528h1v33h-1zM781 528h1v33h-1zM797 528h1v33h-1zM811 528h2v33h-2zM932 528h2v33h-2zM944 528h1v33h-1zM571 561h1v34h-1zM574 561h1v34h-1zM576 561h3v34h-3zM587 561h1v34h-1zM590 561h1v34h-1zM599 561h1v34h-1zM604 561h3v34h-3zM627 561h2v34h-2zM639 561h1v34h-1zM646 561h1v34h-1zM894 561h1v34h-1zM539 595h1v33h-1zM555 595h2v33h-2zM564 595h2v33h-2zM568 595h1v33h-1zM570 595h2v33h-2zM574 595h1v33h-1zM622 595h1v33h-1zM637 595h1v33h-1zM654 595h2v33h-2zM667 595h1v33h-1zM723 595h1v33h-1zM955 595h1v33h-1zM536 628h1v33h-1zM548 628h1v33h-1zM568 628h1v33h-1zM571 628h1v33h-1zM574 628h1v33h-1zM576 628h3v33h-3zM587 628h2v33h-2zM590 628h1v33h-1zM603 628h2v33h-2zM606 628h1v33h-1zM608 628h1v33h-1zM623 628h2v33h-2zM645 628h1v33h-1zM652 628h1v33h-1zM677 628h3v33h-3zM713 628h1v33h-1zM746 628h1v33h-1zM801 628h2v33h-2zM897 628h1v33h-1zM537 661h1v34h-1zM568 661h1v34h-1zM571 661h1v34h-1zM576 661h1v34h-1zM581 661h1v34h-1zM588 661h1v34h-1zM590 661h1v34h-1zM604 661h2v34h-2zM621 661h1v34h-1zM684 661h1v34h-1zM686 661h2v34h-2zM747 661h1v34h-1zM913 661h4v34h-4zM555 695h2v33h-2zM564 695h2v33h-2zM571 695h1v33h-1zM603 695h1v33h-1zM670 695h1v33h-1zM675 695h1v33h-1zM713 695h1v33h-1zM722 695h1v33h-1zM724 695h3v33h-3zM730 695h1v33h-1zM734 695h1v33h-1zM805 695h1v33h-1zM920 695h1v33h-1zM945 695h1v33h-1zM549 728h3v34h-3zM553 728h1v34h-1zM555 728h2v34h-2zM561 728h1v34h-1zM564 728h2v34h-2zM568 728h1v34h-1zM574 728h1v34h-1zM578 728h1v34h-1zM588 728h1v34h-1zM595 728h1v34h-1zM603 728h1v34h-1zM646 728h1v34h-1zM708 728h1v34h-1zM947 728h1v34h-1zM532 762h1v33h-1zM543 762h1v33h-1zM545 762h1v33h-1zM548 762h8v33h-8zM558 762h1v33h-1zM563 762h2v33h-2zM582 762h1v33h-1zM584 762h1v33h-1zM627 762h2v33h-2zM653 762h1v33h-1zM755 762h3v33h-3zM543 795h1v34h-1zM547 795h7v34h-7zM555 795h1v34h-1zM563 795h1v34h-1zM570 795h1v34h-1zM572 795h1v34h-1zM580 795h1v34h-1zM585 795h1v34h-1zM600 795h1v34h-1zM619 795h1v34h-1zM633 795h2v34h-2zM747 795h1v34h-1zM811 795h2v34h-2zM954 795h1v34h-1zM969 795h2v34h-2zM998 795h2v34h-2zM538 829h1v33h-1zM547 829h1v33h-1zM568 829h1v33h-1zM571 829h1v33h-1zM574 829h1v33h-1zM576 829h2v33h-2zM590 829h1v33h-1zM599 829h1v33h-1zM604 829h3v33h-3zM642 829h2v33h-2zM653 829h1v33h-1zM661 829h2v33h-2zM695 829h2v33h-2zM713 829h1v33h-1zM731 829h1v33h-1zM740 829h2v33h-2zM769 829h2v33h-2zM889 829h4v33h-4zM568 862h1v33h-1zM571 862h1v33h-1zM576 862h1v33h-1zM578 862h1v33h-1zM587 862h1v33h-1zM590 862h1v33h-1zM594 862h1v33h-1zM604 862h1v33h-1zM606 862h1v33h-1zM617 862h2v33h-2zM620 862h1v33h-1zM623 862h1v33h-1zM638 862h1v33h-1zM647 862h1v33h-1zM669 862h1v33h-1zM671 862h1v33h-1zM673 862h1v33h-1zM763 862h2v33h-2zM818 862h2v33h-2zM532 895h1v34h-1zM535 895h1v34h-1zM556 895h1v34h-1zM559 895h1v34h-1zM564 895h2v34h-2zM577 895h2v34h-2zM584 895h1v34h-1zM623 895h1v34h-1zM627 895h2v34h-2zM648 895h1v34h-1zM653 895h1v34h-1zM666 895h1v34h-1zM672 895h1v34h-1zM675 895h1v34h-1zM688 895h1v34h-1zM713 895h1v34h-1zM724 895h3v34h-3zM784 895h1v34h-1zM831 895h1v34h-1zM833 895h1v34h-1zM921 895h2v34h-2zM943 895h1v34h-1zM951 895h2v34h-2zM551 929h1v33h-1zM556 929h1v33h-1zM565 929h1v33h-1zM571 929h1v33h-1zM586 929h1v33h-1zM608 929h1v33h-1zM637 929h1v33h-1zM750 929h4v33h-4zM827 929h2v33h-2zM837 929h1v33h-1zM920 929h1v33h-1zM923 929h2v33h-2zM954 929h1v33h-1zM552 962h1v34h-1zM574 962h1v34h-1zM576 962h3v34h-3zM587 962h1v34h-1zM590 962h1v34h-1zM604 962h1v34h-1zM633 962h2v34h-2zM638 962h1v34h-1zM672 962h2v34h-2zM684 962h1v34h-1zM701 962h3v34h-3zM727 962h1v34h-1zM801 962h4v34h-4zM814 962h2v34h-2zM1022 962h2v34h-2zM550 996h1v33h-1zM553 996h1v33h-1zM571 996h1v33h-1zM574 996h1v33h-1zM576 996h2v33h-2zM590 996h1v33h-1zM604 996h1v33h-1zM644 996h1v33h-1zM651 996h1v33h-1zM656 996h2v33h-2zM666 996h1v33h-1zM699 996h1v33h-1zM760 996h2v33h-2zM834 996h1v33h-1zM871 996h1v33h-1zM1006 996h1v33h-1zM1038 996h1v33h-1zM542 1029h1v34h-1zM574 1029h1v34h-1zM576 1029h2v34h-2zM587 1029h1v34h-1zM590 1029h1v34h-1zM593 1029h1v34h-1zM605 1029h1v34h-1zM617 1029h2v34h-2zM622 1029h2v34h-2zM648 1029h1v34h-1zM663 1029h4v34h-4zM670 1029h1v34h-1zM698 1029h1v34h-1zM749 1029h1v34h-1zM793 1029h2v34h-2zM912 1029h1v34h-1zM937 1029h2v34h-2zM1022 1029h2v34h-2zM563 1063h3v33h-3zM568 1063h1v33h-1zM571 1063h1v33h-1zM576 1063h3v33h-3zM604 1063h1v33h-1zM609 1063h1v33h-1zM629 1063h3v33h-3zM639 1063h1v33h-1zM656 1063h2v33h-2zM704 1063h3v33h-3zM713 1063h1v33h-1zM731 1063h1v33h-1zM736 1063h2v33h-2zM797 1063h1v33h-1zM556 1096h1v34h-1zM564 1096h2v34h-2zM568 1096h1v34h-1zM571 1096h2v34h-2zM574 1096h1v34h-1zM578 1096h1v34h-1zM581 1096h1v34h-1zM590 1096h1v34h-1zM623 1096h1v34h-1zM625 1096h1v34h-1zM651 1096h1v34h-1zM713 1096h1v34h-1zM813 1096h1v34h-1zM921 1096h2v34h-2zM1044 1096h1v34h-1z"/><path fill="#ffbaa3" d="M544 93h1v33h-1zM551 93h2v33h-2zM564 93h1v33h-1zM582 93h1v33h-1zM607 93h1v33h-1zM531 126h1v34h-1zM565 126h1v34h-1zM568 126h1v34h-1zM571 126h1v34h-1zM574 126h1v34h-1zM592 126h1v34h-1zM528 160h2v33h-2zM531 160h1v33h-1zM536 160h1v33h-1zM538 160h1v33h-1zM542 160h1v33h-1zM545 160h1v33h-1zM554 160h1v33h-1zM558 160h1v33h-1zM563 160h1v33h-1zM569 160h2v33h-2zM582 160h1v33h-1zM584 160h1v33h-1zM586 160h1v33h-1zM588 160h1v33h-1zM593 160h1v33h-1zM529 193h1v34h-1zM531 193h1v34h-1zM536 193h4v34h-4zM543 193h3v34h-3zM554 193h1v34h-1zM558 193h2v34h-2zM561 193h1v34h-1zM572 193h1v34h-1zM581 193h1v34h-1zM584 193h3v34h-3zM592 193h2v34h-2zM600 193h2v34h-2zM603 193h1v34h-1zM608 193h2v34h-2zM549 227h3v33h-3zM553 227h1v33h-1zM556 227h1v33h-1zM564 227h1v33h-1zM621 227h1v33h-1zM627 227h2v33h-2zM524 260h1v34h-1zM529 260h2v34h-2zM535 260h2v34h-2zM539 260h2v34h-2zM542 260h2v34h-2zM547 260h1v34h-1zM554 260h1v34h-1zM560 260h2v34h-2zM563 260h1v34h-1zM569 260h1v34h-1zM580 260h1v34h-1zM582 260h1v34h-1zM584 260h2v34h-2zM588 260h1v34h-1zM592 260h2v34h-2zM595 260h1v34h-1zM601 260h1v34h-1zM603 260h1v34h-1zM608 260h2v34h-2zM621 260h1v34h-1zM568 294h1v33h-1zM574 294h1v33h-1zM578 294h1v33h-1zM607 294h1v33h-1zM622 294h2v33h-2zM667 294h1v33h-1zM714 294h1v33h-1zM720 294h2v33h-2zM871 294h1v33h-1zM536 327h1v33h-1zM556 327h1v33h-1zM564 327h2v33h-2zM577 327h1v33h-1zM593 327h1v33h-1zM705 327h2v33h-2zM898 327h2v33h-2zM543 360h1v34h-1zM550 360h1v34h-1zM552 360h2v34h-2zM555 360h1v34h-1zM564 360h1v34h-1zM617 360h2v34h-2zM635 360h2v34h-2zM697 360h1v34h-1zM534 394h2v33h-2zM539 394h2v33h-2zM542 394h9v33h-9zM554 394h2v33h-2zM559 394h2v33h-2zM563 394h1v33h-1zM580 394h1v33h-1zM584 394h1v33h-1zM586 394h1v33h-1zM588 394h1v33h-1zM593 394h1v33h-1zM595 394h1v33h-1zM600 394h2v33h-2zM603 394h1v33h-1zM608 394h1v33h-1zM708 394h1v33h-1zM889 394h4v33h-4zM523 427h1v34h-1zM529 427h1v34h-1zM548 427h2v34h-2zM551 427h1v34h-1zM553 427h1v34h-1zM555 427h2v34h-2zM565 427h1v34h-1zM637 427h1v34h-1zM656 427h2v34h-2zM668 427h1v34h-1zM695 427h2v34h-2zM524 461h1v33h-1zM526 461h1v33h-1zM528 461h1v33h-1zM531 461h2v33h-2zM534 461h1v33h-1zM537 461h2v33h-2zM542 461h1v33h-1zM547 461h1v33h-1zM570 461h1v33h-1zM572 461h1v33h-1zM584 461h1v33h-1zM586 461h1v33h-1zM601 461h1v33h-1zM619 461h1v33h-1zM532 494h1v34h-1zM539 494h1v34h-1zM556 494h1v34h-1zM565 494h1v34h-1zM570 494h2v34h-2zM577 494h1v34h-1zM617 494h2v34h-2zM621 494h1v34h-1zM529 528h1v33h-1zM535 528h1v33h-1zM549 528h1v33h-1zM564 528h2v33h-2zM577 528h1v33h-1zM592 528h1v33h-1zM624 528h1v33h-1zM633 528h2v33h-2zM640 528h2v33h-2zM661 528h2v33h-2zM531 561h1v34h-1zM536 561h1v34h-1zM600 561h1v34h-1zM626 561h1v34h-1zM640 561h2v34h-2zM645 561h1v34h-1zM674 561h2v34h-2zM677 561h3v34h-3zM544 595h1v33h-1zM548 595h4v33h-4zM553 595h1v33h-1zM572 595h1v33h-1zM581 595h1v33h-1zM600 595h1v33h-1zM638 595h1v33h-1zM642 595h2v33h-2zM656 595h2v33h-2zM680 595h2v33h-2zM695 595h2v33h-2zM754 595h1v33h-1zM760 595h2v33h-2zM763 595h2v33h-2zM852 595h2v33h-2zM859 595h6v33h-6zM524 628h1v33h-1zM526 628h1v33h-1zM537 628h1v33h-1zM549 628h1v33h-1zM556 628h1v33h-1zM564 628h2v33h-2zM633 628h2v33h-2zM727 628h1v33h-1zM730 628h1v33h-1zM925 628h2v33h-2zM549 661h1v34h-1zM551 661h1v34h-1zM564 661h2v34h-2zM574 661h1v34h-1zM577 661h1v34h-1zM595 661h1v34h-1zM623 661h1v34h-1zM627 661h2v34h-2zM653 661h1v34h-1zM691 661h2v34h-2zM694 661h1v34h-1zM718 661h1v34h-1zM727 661h1v34h-1zM543 695h1v33h-1zM548 695h2v33h-2zM552 695h3v33h-3zM561 695h1v33h-1zM609 695h1v33h-1zM671 695h1v33h-1zM539 728h2v34h-2zM543 728h2v34h-2zM547 728h2v34h-2zM552 728h1v34h-1zM558 728h3v34h-3zM569 728h2v34h-2zM572 728h1v34h-1zM581 728h2v34h-2zM585 728h1v34h-1zM593 728h1v34h-1zM607 728h3v34h-3zM531 762h1v33h-1zM535 762h2v33h-2zM538 762h3v33h-3zM542 762h1v33h-1zM546 762h2v33h-2zM560 762h2v33h-2zM569 762h2v33h-2zM572 762h1v33h-1zM580 762h2v33h-2zM585 762h2v33h-2zM588 762h1v33h-1zM592 762h2v33h-2zM595 762h1v33h-1zM600 762h2v33h-2zM603 762h1v33h-1zM607 762h3v33h-3zM620 762h1v33h-1zM807 762h2v33h-2zM526 795h2v34h-2zM531 795h1v34h-1zM534 795h2v34h-2zM539 795h1v34h-1zM542 795h1v34h-1zM544 795h3v34h-3zM559 795h1v34h-1zM561 795h1v34h-1zM582 795h1v34h-1zM584 795h1v34h-1zM586 795h1v34h-1zM592 795h2v34h-2zM607 795h2v34h-2zM626 795h1v34h-1zM724 795h3v34h-3zM746 795h1v34h-1zM817 795h1v34h-1zM556 829h1v33h-1zM565 829h1v33h-1zM578 829h1v33h-1zM603 829h1v33h-1zM622 829h1v33h-1zM627 829h2v33h-2zM646 829h1v33h-1zM652 829h1v33h-1zM674 829h1v33h-1zM697 829h1v33h-1zM704 829h1v33h-1zM735 829h1v33h-1zM556 862h1v33h-1zM564 862h2v33h-2zM574 862h1v33h-1zM577 862h1v33h-1zM646 862h1v33h-1zM650 862h1v33h-1zM699 862h2v33h-2zM733 862h1v33h-1zM749 862h1v33h-1zM760 862h2v33h-2zM901 862h2v33h-2zM548 895h4v34h-4zM553 895h1v34h-1zM555 895h1v34h-1zM581 895h1v34h-1zM642 895h2v34h-2zM685 895h1v34h-1zM705 895h2v34h-2zM738 895h2v34h-2zM747 895h1v34h-1zM814 895h2v34h-2zM539 929h1v33h-1zM542 929h4v33h-4zM548 929h3v33h-3zM552 929h2v33h-2zM555 929h1v33h-1zM569 929h1v33h-1zM572 929h1v33h-1zM581 929h2v33h-2zM585 929h1v33h-1zM600 929h2v33h-2zM603 929h1v33h-1zM607 929h1v33h-1zM609 929h1v33h-1zM619 929h1v33h-1zM656 929h2v33h-2zM663 929h3v33h-3zM705 929h2v33h-2zM755 929h3v33h-3zM556 962h1v34h-1zM564 962h2v34h-2zM568 962h1v34h-1zM571 962h1v34h-1zM619 962h1v34h-1zM640 962h2v34h-2zM649 962h1v34h-1zM652 962h2v34h-2zM715 962h3v34h-3zM728 962h1v34h-1zM1041 962h1v34h-1zM532 996h1v33h-1zM554 996h1v33h-1zM556 996h1v33h-1zM565 996h1v33h-1zM568 996h1v33h-1zM578 996h1v33h-1zM622 996h1v33h-1zM646 996h1v33h-1zM661 996h2v33h-2zM689 996h2v33h-2zM697 996h1v33h-1zM701 996h3v33h-3zM807 996h2v33h-2zM568 1029h1v34h-1zM571 1029h1v34h-1zM578 1029h1v34h-1zM586 1029h1v34h-1zM629 1029h3v34h-3zM704 1029h1v34h-1zM768 1029h1v34h-1zM799 1029h1v34h-1zM801 1029h2v34h-2zM805 1029h1v34h-1zM874 1029h1v34h-1zM975 1029h2v34h-2zM1005 1029h1v34h-1zM1029 1029h3v34h-3zM1038 1029h1v34h-1zM550 1063h1v33h-1zM553 1063h1v33h-1zM555 1063h2v33h-2zM600 1063h1v33h-1zM671 1063h1v33h-1zM722 1063h1v33h-1zM733 1063h1v33h-1zM545 1096h1v34h-1zM548 1096h4v34h-4zM553 1096h1v34h-1zM649 1096h1v34h-1zM652 1096h1v34h-1zM666 1096h1v34h-1zM672 1096h1v34h-1zM676 1096h1v34h-1z"/><path fill="#ffa894" d="M535 93h1v33h-1zM537 93h1v33h-1zM539 93h1v33h-1zM543 93h1v33h-1zM545 93h2v33h-2zM548 93h3v33h-3zM554 93h2v33h-2zM558 93h1v33h-1zM570 93h1v33h-1zM580 93h1v33h-1zM593 93h1v33h-1zM595 93h1v33h-1zM608 93h1v33h-1zM656 93h2v33h-2zM707 93h1v33h-1zM759 93h1v33h-1zM841 93h2v33h-2zM846 93h5v33h-5zM1059 93h1v33h-1zM550 126h1v34h-1zM553 126h1v34h-1zM556 126h1v34h-1zM564 126h1v34h-1zM642 126h2v34h-2zM854 126h5v34h-5zM1064 126h1v34h-1zM1069 126h1v34h-1zM1077 126h1v34h-1zM1079 126h1v34h-1zM530 160h1v33h-1zM532 160h1v33h-1zM534 160h1v33h-1zM714 160h1v33h-1zM768 160h1v33h-1zM1094 160h2v33h-2zM1099 160h1v33h-1zM526 193h1v34h-1zM530 193h1v34h-1zM534 193h1v34h-1zM540 193h1v34h-1zM547 193h1v34h-1zM580 193h1v34h-1zM582 193h1v34h-1zM595 193h1v34h-1zM633 193h2v34h-2zM646 193h1v34h-1zM719 193h1v34h-1zM875 193h2v34h-2zM881 193h1v34h-1zM1107 193h2v34h-2zM1110 193h1v34h-1zM539 227h1v33h-1zM543 227h2v33h-2zM548 227h1v33h-1zM554 227h2v33h-2zM561 227h1v33h-1zM563 227h1v33h-1zM570 227h1v33h-1zM585 227h1v33h-1zM595 227h1v33h-1zM600 227h1v33h-1zM603 227h1v33h-1zM607 227h1v33h-1zM887 227h2v33h-2zM526 260h1v34h-1zM528 260h1v34h-1zM531 260h2v34h-2zM534 260h1v34h-1zM647 260h1v34h-1zM649 260h1v34h-1zM722 260h1v34h-1zM790 260h1v34h-1zM896 260h2v34h-2zM1131 260h1v34h-1zM1136 260h1v34h-1zM1138 260h1v34h-1zM1146 260h1v34h-1zM544 294h1v33h-1zM549 294h1v33h-1zM552 294h3v33h-3zM556 294h1v33h-1zM564 294h2v33h-2zM603 294h1v33h-1zM629 294h3v33h-3zM693 294h1v33h-1zM729 294h2v33h-2zM913 294h2v33h-2zM523 327h1v33h-1zM526 327h1v33h-1zM544 327h1v33h-1zM549 327h5v33h-5zM555 327h1v33h-1zM559 327h1v33h-1zM588 327h1v33h-1zM671 327h1v33h-1zM791 327h2v33h-2zM800 327h1v33h-1zM1225 327h2v33h-2zM1230 327h1v33h-1zM1232 327h1v33h-1zM1234 327h1v33h-1zM1236 327h1v33h-1zM1240 327h2v33h-2zM1243 327h1v33h-1zM523 360h1v34h-1zM535 360h3v34h-3zM539 360h2v34h-2zM544 360h1v34h-1zM548 360h2v34h-2zM561 360h1v34h-1zM563 360h1v34h-1zM570 360h1v34h-1zM580 360h1v34h-1zM582 360h1v34h-1zM586 360h1v34h-1zM592 360h2v34h-2zM600 360h1v34h-1zM603 360h1v34h-1zM607 360h1v34h-1zM609 360h1v34h-1zM661 360h2v34h-2zM1245 360h2v34h-2zM529 394h2v33h-2zM536 394h2v33h-2zM558 394h1v33h-1zM561 394h1v33h-1zM569 394h2v33h-2zM572 394h1v33h-1zM585 394h1v33h-1zM592 394h1v33h-1zM607 394h1v33h-1zM638 394h1v33h-1zM1250 394h1v33h-1zM1254 394h1v33h-1zM1257 394h1v33h-1zM543 427h2v34h-2zM547 427h1v34h-1zM552 427h1v34h-1zM560 427h1v34h-1zM580 427h1v34h-1zM588 427h1v34h-1zM601 427h1v34h-1zM607 427h1v34h-1zM609 427h1v34h-1zM647 427h1v34h-1zM732 427h1v34h-1zM939 427h4v34h-4zM1264 427h1v34h-1zM1272 427h1v34h-1zM527 461h1v33h-1zM645 461h1v33h-1zM1276 461h1v33h-1zM1278 461h1v33h-1zM1282 461h1v33h-1zM1284 461h1v33h-1zM549 494h3v34h-3zM553 494h1v34h-1zM555 494h1v34h-1zM564 494h1v34h-1zM640 494h2v34h-2zM954 494h1v34h-1zM1292 494h1v34h-1zM544 528h1v33h-1zM548 528h1v33h-1zM550 528h4v33h-4zM555 528h2v33h-2zM588 528h1v33h-1zM959 528h2v33h-2zM963 528h2v33h-2zM971 528h1v33h-1zM984 528h2v33h-2zM1301 528h1v33h-1zM1306 528h1v33h-1zM1308 528h1v33h-1zM1310 528h1v33h-1zM1320 528h1v33h-1zM1326 528h1v33h-1zM1328 528h1v33h-1zM1338 528h1v33h-1zM1340 528h1v33h-1zM1343 528h2v33h-2zM1346 528h1v33h-1zM1352 528h2v33h-2zM1363 528h1v33h-1zM1366 528h1v33h-1zM1369 528h1v33h-1zM1373 528h1v33h-1zM1375 528h1v33h-1zM1379 528h1v33h-1zM1381 528h2v33h-2zM1387 528h1v33h-1zM1391 528h1v33h-1zM1394 528h1v33h-1zM1397 528h2v33h-2zM1405 528h1v33h-1zM1413 528h1v33h-1zM1415 528h4v33h-4zM550 561h3v34h-3zM555 561h2v34h-2zM564 561h2v34h-2zM584 561h1v34h-1zM920 561h1v34h-1zM998 561h2v34h-2zM1435 561h1v34h-1zM521 595h1v33h-1zM536 595h1v33h-1zM543 595h1v33h-1zM545 595h2v33h-2zM552 595h1v33h-1zM554 595h1v33h-1zM558 595h1v33h-1zM563 595h1v33h-1zM569 595h1v33h-1zM580 595h1v33h-1zM586 595h1v33h-1zM588 595h1v33h-1zM592 595h1v33h-1zM603 595h1v33h-1zM607 595h1v33h-1zM673 595h1v33h-1zM799 595h1v33h-1zM857 595h2v33h-2zM1442 595h1v33h-1zM1445 595h1v33h-1zM522 628h1v33h-1zM543 628h1v33h-1zM547 628h1v33h-1zM551 628h1v33h-1zM553 628h1v33h-1zM563 628h1v33h-1zM584 628h1v33h-1zM609 628h1v33h-1zM684 628h1v33h-1zM829 628h2v33h-2zM1007 628h2v33h-2zM1463 628h1v33h-1zM1470 628h1v33h-1zM1475 628h1v33h-1zM1478 628h1v33h-1zM543 661h1v34h-1zM552 661h2v34h-2zM555 661h1v34h-1zM601 661h1v34h-1zM661 661h2v34h-2zM931 661h1v34h-1zM972 661h3v34h-3zM1486 661h1v34h-1zM1488 661h2v34h-2zM1494 661h1v34h-1zM535 695h4v33h-4zM540 695h1v33h-1zM542 695h1v33h-1zM544 695h2v33h-2zM547 695h1v33h-1zM550 695h1v33h-1zM559 695h2v33h-2zM563 695h1v33h-1zM569 695h2v33h-2zM572 695h1v33h-1zM580 695h3v33h-3zM584 695h3v33h-3zM588 695h1v33h-1zM592 695h2v33h-2zM595 695h1v33h-1zM600 695h2v33h-2zM608 695h1v33h-1zM619 695h1v33h-1zM622 695h1v33h-1zM701 695h3v33h-3zM996 695h1v33h-1zM1498 695h1v33h-1zM1505 695h1v33h-1zM1509 695h1v33h-1zM1519 695h1v33h-1zM529 728h1v34h-1zM532 728h1v34h-1zM536 728h1v34h-1zM542 728h1v34h-1zM545 728h1v34h-1zM554 728h1v34h-1zM580 728h1v34h-1zM586 728h1v34h-1zM592 728h1v34h-1zM600 728h2v34h-2zM620 728h1v34h-1zM633 728h2v34h-2zM673 728h1v34h-1zM1525 728h1v34h-1zM1532 728h1v34h-1zM524 762h1v33h-1zM526 762h1v33h-1zM528 762h3v33h-3zM534 762h1v33h-1zM537 762h1v33h-1zM559 762h1v33h-1zM623 762h1v33h-1zM632 762h1v33h-1zM749 762h1v33h-1zM829 762h2v33h-2zM895 762h1v33h-1zM520 795h1v34h-1zM524 795h2v34h-2zM528 795h3v34h-3zM536 795h3v34h-3zM540 795h1v34h-1zM554 795h1v34h-1zM558 795h1v34h-1zM560 795h1v34h-1zM569 795h1v34h-1zM581 795h1v34h-1zM595 795h1v34h-1zM601 795h1v34h-1zM603 795h1v34h-1zM644 795h1v34h-1zM781 795h1v34h-1zM837 795h1v34h-1zM1029 795h3v34h-3zM543 829h1v33h-1zM548 829h1v33h-1zM550 829h1v33h-1zM553 829h1v33h-1zM555 829h1v33h-1zM564 829h1v33h-1zM624 829h1v33h-1zM635 829h2v33h-2zM647 829h1v33h-1zM793 829h2v33h-2zM895 829h1v33h-1zM1541 829h1v33h-1zM1544 829h1v33h-1zM1548 829h1v33h-1zM544 862h2v33h-2zM548 862h6v33h-6zM555 862h1v33h-1zM581 862h1v33h-1zM732 862h1v33h-1zM734 862h1v33h-1zM838 862h1v33h-1zM1036 862h1v33h-1zM1554 862h2v33h-2zM525 895h1v34h-1zM538 895h2v34h-2zM542 895h4v34h-4zM552 895h1v34h-1zM554 895h1v34h-1zM558 895h1v34h-1zM560 895h2v34h-2zM563 895h1v34h-1zM580 895h1v34h-1zM582 895h1v34h-1zM585 895h1v34h-1zM592 895h2v34h-2zM601 895h1v34h-1zM608 895h1v34h-1zM633 895h2v34h-2zM637 895h2v34h-2zM661 895h2v34h-2zM676 895h1v34h-1zM729 895h1v34h-1zM531 929h1v33h-1zM535 929h2v33h-2zM538 929h1v33h-1zM546 929h1v33h-1zM554 929h1v33h-1zM558 929h4v33h-4zM570 929h1v33h-1zM584 929h1v33h-1zM588 929h1v33h-1zM592 929h2v33h-2zM595 929h1v33h-1zM732 929h2v33h-2zM834 929h1v33h-1zM1567 929h2v33h-2zM543 962h2v34h-2zM546 962h1v34h-1zM549 962h3v34h-3zM553 962h1v34h-1zM555 962h1v34h-1zM608 962h1v34h-1zM621 962h1v34h-1zM635 962h2v34h-2zM695 962h2v34h-2zM720 962h2v34h-2zM1042 962h1v34h-1zM1574 962h1v34h-1zM1586 962h1v34h-1zM1597 962h1v34h-1zM1600 962h2v34h-2zM1603 962h1v34h-1zM1605 962h1v34h-1zM526 996h1v33h-1zM549 996h1v33h-1zM551 996h2v33h-2zM625 996h1v33h-1zM645 996h1v33h-1zM672 996h1v33h-1zM688 996h1v33h-1zM889 996h4v33h-4zM548 1029h1v34h-1zM550 1029h1v34h-1zM556 1029h1v34h-1zM564 1029h2v34h-2zM640 1029h2v34h-2zM646 1029h1v34h-1zM686 1029h2v34h-2zM763 1029h2v34h-2zM779 1029h1v34h-1zM803 1029h2v34h-2zM901 1029h2v34h-2zM913 1029h2v34h-2zM943 1029h1v34h-1zM947 1029h1v34h-1zM961 1029h2v34h-2zM965 1029h2v34h-2zM1034 1029h1v34h-1zM540 1063h1v33h-1zM543 1063h2v33h-2zM547 1063h3v33h-3zM551 1063h2v33h-2zM560 1063h2v33h-2zM580 1063h2v33h-2zM586 1063h1v33h-1zM595 1063h1v33h-1zM603 1063h1v33h-1zM632 1063h1v33h-1zM674 1063h1v33h-1zM693 1063h1v33h-1zM807 1063h2v33h-2zM997 1063h1v33h-1zM1759 1063h2v33h-2zM535 1096h1v34h-1zM539 1096h2v34h-2zM543 1096h1v34h-1zM546 1096h1v34h-1zM552 1096h1v34h-1zM554 1096h2v34h-2zM559 1096h2v34h-2zM580 1096h1v34h-1zM582 1096h1v34h-1zM586 1096h1v34h-1zM592 1096h1v34h-1zM595 1096h1v34h-1zM607 1096h1v34h-1zM624 1096h1v34h-1zM646 1096h1v34h-1zM718 1096h1v34h-1zM1771 1096h1v34h-1zM1774 1096h1v34h-1zM1779 1096h1v34h-1z"/><path fill="#ff9785" d="M531 93h1v33h-1zM536 93h1v33h-1zM542 93h1v33h-1zM547 93h1v33h-1zM559 93h1v33h-1zM561 93h1v33h-1zM563 93h1v33h-1zM569 93h1v33h-1zM572 93h1v33h-1zM585 93h1v33h-1zM588 93h1v33h-1zM592 93h1v33h-1zM600 93h2v33h-2zM640 93h2v33h-2zM677 93h3v33h-3zM708 93h1v33h-1zM754 93h1v33h-1zM843 93h3v33h-3zM1056 93h3v33h-3zM546 126h1v34h-1zM548 126h2v34h-2zM551 126h2v34h-2zM554 126h2v34h-2zM569 126h1v34h-1zM584 126h1v34h-1zM601 126h1v34h-1zM609 126h1v34h-1zM620 126h1v34h-1zM640 126h2v34h-2zM656 126h5v34h-5zM677 126h3v34h-3zM750 126h4v34h-4zM759 126h1v34h-1zM762 126h4v34h-4zM846 126h5v34h-5zM1060 126h3v34h-3zM1065 126h1v34h-1zM1067 126h1v34h-1zM1075 126h1v34h-1zM1084 126h1v34h-1zM1089 126h2v34h-2zM521 160h1v33h-1zM525 160h2v33h-2zM621 160h1v33h-1zM684 160h1v33h-1zM771 160h1v33h-1zM865 160h9v33h-9zM1093 160h1v33h-1zM1096 160h1v33h-1zM1101 160h1v33h-1zM1103 160h1v33h-1zM524 193h2v34h-2zM527 193h2v34h-2zM532 193h1v34h-1zM620 193h1v34h-1zM622 193h1v34h-1zM647 193h1v34h-1zM686 193h3v34h-3zM772 193h7v34h-7zM780 193h1v34h-1zM882 193h3v34h-3zM529 227h1v33h-1zM531 227h1v33h-1zM536 227h2v33h-2zM542 227h1v33h-1zM545 227h2v33h-2zM552 227h1v33h-1zM559 227h2v33h-2zM569 227h1v33h-1zM580 227h3v33h-3zM584 227h1v33h-1zM586 227h1v33h-1zM593 227h1v33h-1zM608 227h2v33h-2zM663 227h3v33h-3zM689 227h2v33h-2zM722 227h2v33h-2zM1122 227h1v33h-1zM1124 227h1v33h-1zM1130 227h1v33h-1zM527 260h1v34h-1zM667 260h1v34h-1zM894 260h1v34h-1zM898 260h3v34h-3zM903 260h1v34h-1zM1133 260h1v34h-1zM1135 260h1v34h-1zM1137 260h1v34h-1zM1147 260h1v34h-1zM1152 260h1v34h-1zM1155 260h1v34h-1zM1157 260h2v34h-2zM1164 260h1v34h-1zM1167 260h1v34h-1zM1169 260h1v34h-1zM540 294h1v33h-1zM547 294h1v33h-1zM550 294h2v33h-2zM555 294h1v33h-1zM569 294h1v33h-1zM586 294h1v33h-1zM592 294h1v33h-1zM624 294h1v33h-1zM627 294h2v33h-2zM668 294h2v33h-2zM689 294h2v33h-2zM795 294h3v33h-3zM906 294h7v33h-7zM1171 294h1v33h-1zM1173 294h1v33h-1zM1175 294h1v33h-1zM1179 294h1v33h-1zM1181 294h1v33h-1zM1184 294h2v33h-2zM1187 294h4v33h-4zM1192 294h4v33h-4zM1202 294h1v33h-1zM1204 294h1v33h-1zM1208 294h1v33h-1zM1218 294h1v33h-1zM1222 294h1v33h-1zM535 327h1v33h-1zM538 327h2v33h-2zM543 327h1v33h-1zM545 327h1v33h-1zM548 327h1v33h-1zM554 327h1v33h-1zM560 327h2v33h-2zM569 327h1v33h-1zM572 327h1v33h-1zM580 327h2v33h-2zM584 327h1v33h-1zM595 327h1v33h-1zM608 327h2v33h-2zM617 327h2v33h-2zM625 327h1v33h-1zM637 327h1v33h-1zM651 327h1v33h-1zM733 327h1v33h-1zM801 327h2v33h-2zM806 327h1v33h-1zM917 327h1v33h-1zM921 327h2v33h-2zM930 327h1v33h-1zM1229 327h1v33h-1zM1231 327h1v33h-1zM1235 327h1v33h-1zM1237 327h1v33h-1zM530 360h2v34h-2zM534 360h1v34h-1zM538 360h1v34h-1zM542 360h1v34h-1zM546 360h2v34h-2zM554 360h1v34h-1zM558 360h2v34h-2zM569 360h1v34h-1zM572 360h1v34h-1zM581 360h1v34h-1zM585 360h1v34h-1zM601 360h1v34h-1zM608 360h1v34h-1zM637 360h1v34h-1zM708 360h1v34h-1zM719 360h1v34h-1zM774 360h4v34h-4zM932 360h2v34h-2zM1248 360h2v34h-2zM526 394h1v33h-1zM528 394h1v33h-1zM531 394h2v33h-2zM617 394h2v33h-2zM624 394h1v33h-1zM652 394h1v33h-1zM936 394h1v33h-1zM1252 394h1v33h-1zM1255 394h2v33h-2zM1258 394h3v33h-3zM535 427h1v34h-1zM537 427h1v34h-1zM539 427h1v34h-1zM545 427h1v34h-1zM550 427h1v34h-1zM559 427h1v34h-1zM561 427h1v34h-1zM569 427h2v34h-2zM572 427h1v34h-1zM584 427h1v34h-1zM592 427h2v34h-2zM595 427h1v34h-1zM603 427h1v34h-1zM667 427h1v34h-1zM736 427h2v34h-2zM1262 427h2v34h-2zM1265 427h3v34h-3zM1269 427h2v34h-2zM523 461h1v33h-1zM632 461h1v33h-1zM649 461h1v33h-1zM813 461h1v33h-1zM946 461h1v33h-1zM1275 461h1v33h-1zM1279 461h2v33h-2zM542 494h1v34h-1zM544 494h1v34h-1zM546 494h1v34h-1zM548 494h1v34h-1zM552 494h1v34h-1zM581 494h1v34h-1zM586 494h1v34h-1zM588 494h1v34h-1zM595 494h1v34h-1zM600 494h2v34h-2zM603 494h1v34h-1zM651 494h1v34h-1zM658 494h3v34h-3zM700 494h1v34h-1zM818 494h2v34h-2zM947 494h2v34h-2zM951 494h2v34h-2zM1285 494h5v34h-5zM1293 494h2v34h-2zM537 528h1v33h-1zM543 528h1v33h-1zM545 528h2v33h-2zM554 528h1v33h-1zM561 528h1v33h-1zM572 528h1v33h-1zM580 528h1v33h-1zM584 528h1v33h-1zM586 528h1v33h-1zM593 528h1v33h-1zM601 528h1v33h-1zM607 528h1v33h-1zM609 528h1v33h-1zM623 528h1v33h-1zM639 528h1v33h-1zM682 528h2v33h-2zM718 528h1v33h-1zM723 528h1v33h-1zM740 528h2v33h-2zM788 528h2v33h-2zM799 528h1v33h-1zM822 528h4v33h-4zM880 528h1v33h-1zM982 528h2v33h-2zM986 528h3v33h-3zM991 528h2v33h-2zM994 528h4v33h-4zM1300 528h1v33h-1zM1305 528h1v33h-1zM1307 528h1v33h-1zM1309 528h1v33h-1zM1314 528h1v33h-1zM1317 528h3v33h-3zM1322 528h2v33h-2zM1325 528h1v33h-1zM1329 528h2v33h-2zM1332 528h2v33h-2zM1336 528h1v33h-1zM1342 528h1v33h-1zM1345 528h1v33h-1zM1347 528h1v33h-1zM1351 528h1v33h-1zM1354 528h2v33h-2zM1357 528h2v33h-2zM1361 528h1v33h-1zM1364 528h1v33h-1zM1368 528h1v33h-1zM1372 528h1v33h-1zM1374 528h1v33h-1zM1378 528h1v33h-1zM1380 528h1v33h-1zM1383 528h3v33h-3zM1390 528h1v33h-1zM1393 528h1v33h-1zM1396 528h1v33h-1zM1403 528h1v33h-1zM1406 528h1v33h-1zM1408 528h1v33h-1zM1411 528h1v33h-1zM1419 528h3v33h-3zM1423 528h1v33h-1zM539 561h1v34h-1zM542 561h1v34h-1zM544 561h2v34h-2zM547 561h3v34h-3zM553 561h1v34h-1zM561 561h1v34h-1zM569 561h1v34h-1zM572 561h1v34h-1zM586 561h1v34h-1zM609 561h1v34h-1zM658 561h3v34h-3zM670 561h1v34h-1zM1000 561h1v34h-1zM1436 561h3v34h-3zM530 595h2v33h-2zM534 595h2v33h-2zM537 595h2v33h-2zM540 595h1v33h-1zM547 595h1v33h-1zM559 595h3v33h-3zM582 595h1v33h-1zM585 595h1v33h-1zM593 595h1v33h-1zM595 595h1v33h-1zM601 595h1v33h-1zM609 595h1v33h-1zM742 595h3v33h-3zM747 595h1v33h-1zM762 595h1v33h-1zM851 595h1v33h-1zM1439 595h1v33h-1zM1441 595h1v33h-1zM1444 595h1v33h-1zM1446 595h3v33h-3zM1451 595h1v33h-1zM1453 595h1v33h-1zM1455 595h3v33h-3zM540 628h1v33h-1zM544 628h2v33h-2zM550 628h1v33h-1zM552 628h1v33h-1zM554 628h2v33h-2zM559 628h1v33h-1zM569 628h2v33h-2zM572 628h1v33h-1zM580 628h1v33h-1zM592 628h2v33h-2zM595 628h1v33h-1zM600 628h2v33h-2zM831 628h1v33h-1zM896 628h1v33h-1zM1000 628h1v33h-1zM1009 628h4v33h-4zM1462 628h1v33h-1zM1466 628h2v33h-2zM1471 628h3v33h-3zM1476 628h1v33h-1zM1479 628h1v33h-1zM1485 628h1v33h-1zM527 661h1v34h-1zM535 661h1v34h-1zM538 661h2v34h-2zM544 661h5v34h-5zM550 661h1v34h-1zM554 661h1v34h-1zM558 661h1v34h-1zM563 661h1v34h-1zM569 661h2v34h-2zM586 661h1v34h-1zM592 661h1v34h-1zM600 661h1v34h-1zM817 661h1v34h-1zM1006 661h1v34h-1zM1017 661h1v34h-1zM1020 661h1v34h-1zM1487 661h1v34h-1zM1490 661h1v34h-1zM1492 661h2v34h-2zM529 695h1v33h-1zM531 695h1v33h-1zM534 695h1v33h-1zM539 695h1v33h-1zM546 695h1v33h-1zM607 695h1v33h-1zM637 695h1v33h-1zM672 695h1v33h-1zM677 695h3v33h-3zM834 695h1v33h-1zM1499 695h3v33h-3zM1507 695h1v33h-1zM1510 695h4v33h-4zM1515 695h3v33h-3zM524 728h1v34h-1zM526 728h3v34h-3zM531 728h1v34h-1zM534 728h1v34h-1zM537 728h2v34h-2zM546 728h1v34h-1zM563 728h1v34h-1zM584 728h1v34h-1zM621 728h1v34h-1zM674 728h1v34h-1zM727 728h1v34h-1zM813 728h1v34h-1zM827 728h2v34h-2zM836 728h1v34h-1zM1526 728h2v34h-2zM1530 728h1v34h-1zM1533 728h2v34h-2zM625 762h1v33h-1zM654 762h2v33h-2zM1027 762h2v33h-2zM1539 762h1v33h-1zM532 795h1v34h-1zM680 795h2v34h-2zM544 829h1v33h-1zM549 829h1v33h-1zM551 829h2v33h-2zM554 829h1v33h-1zM559 829h1v33h-1zM563 829h1v33h-1zM580 829h2v33h-2zM588 829h1v33h-1zM592 829h1v33h-1zM595 829h1v33h-1zM601 829h1v33h-1zM669 829h1v33h-1zM1032 829h3v33h-3zM1543 829h1v33h-1zM1545 829h1v33h-1zM519 862h1v33h-1zM535 862h1v33h-1zM539 862h1v33h-1zM542 862h2v33h-2zM547 862h1v33h-1zM559 862h1v33h-1zM561 862h1v33h-1zM569 862h1v33h-1zM580 862h1v33h-1zM582 862h1v33h-1zM586 862h1v33h-1zM592 862h2v33h-2zM600 862h1v33h-1zM603 862h1v33h-1zM607 862h2v33h-2zM621 862h1v33h-1zM666 862h1v33h-1zM719 862h1v33h-1zM778 862h1v33h-1zM780 862h2v33h-2zM877 862h3v33h-3zM882 862h3v33h-3zM1549 862h1v33h-1zM529 895h1v34h-1zM536 895h2v34h-2zM540 895h1v34h-1zM546 895h2v34h-2zM569 895h2v34h-2zM572 895h1v34h-1zM586 895h1v34h-1zM588 895h1v34h-1zM595 895h1v34h-1zM600 895h1v34h-1zM603 895h1v34h-1zM607 895h1v34h-1zM609 895h1v34h-1zM644 895h1v34h-1zM1039 895h1v34h-1zM1558 895h1v34h-1zM1561 895h1v34h-1zM1564 895h2v34h-2zM528 929h3v33h-3zM532 929h1v33h-1zM534 929h1v33h-1zM563 929h1v33h-1zM625 929h1v33h-1zM635 929h2v33h-2zM652 929h1v33h-1zM784 929h1v33h-1zM944 929h1v33h-1zM1566 929h1v33h-1zM538 962h2v34h-2zM545 962h1v34h-1zM547 962h2v34h-2zM558 962h1v34h-1zM569 962h2v34h-2zM581 962h1v34h-1zM586 962h1v34h-1zM588 962h1v34h-1zM595 962h1v34h-1zM601 962h1v34h-1zM609 962h1v34h-1zM624 962h1v34h-1zM724 962h3v34h-3zM955 962h3v34h-3zM969 962h3v34h-3zM977 962h5v34h-5zM989 962h4v34h-4zM994 962h3v34h-3zM1573 962h1v34h-1zM1576 962h1v34h-1zM1579 962h1v34h-1zM1583 962h1v34h-1zM1587 962h1v34h-1zM1590 962h1v34h-1zM1592 962h5v34h-5zM1599 962h1v34h-1zM1602 962h1v34h-1zM1604 962h1v34h-1zM527 996h1v33h-1zM543 996h4v33h-4zM548 996h1v33h-1zM555 996h1v33h-1zM558 996h2v33h-2zM563 996h1v33h-1zM570 996h1v33h-1zM581 996h1v33h-1zM584 996h1v33h-1zM595 996h1v33h-1zM600 996h1v33h-1zM607 996h1v33h-1zM944 996h1v33h-1zM1607 996h2v33h-2zM1610 996h1v33h-1zM1614 996h2v33h-2zM1620 996h2v33h-2zM1624 996h1v33h-1zM1627 996h2v33h-2zM1630 996h2v33h-2zM1633 996h1v33h-1zM1636 996h3v33h-3zM544 1029h2v34h-2zM549 1029h1v34h-1zM551 1029h3v34h-3zM555 1029h1v34h-1zM569 1029h1v34h-1zM585 1029h1v34h-1zM588 1029h1v34h-1zM601 1029h1v34h-1zM603 1029h1v34h-1zM656 1029h2v34h-2zM661 1029h2v34h-2zM669 1029h1v34h-1zM671 1029h1v34h-1zM691 1029h2v34h-2zM755 1029h3v34h-3zM838 1029h1v34h-1zM872 1029h2v34h-2zM886 1029h1v34h-1zM925 1029h2v34h-2zM948 1029h1v34h-1zM1044 1029h1v34h-1zM1646 1029h1v34h-1zM1650 1029h1v34h-1zM1652 1029h1v34h-1zM1654 1029h2v34h-2zM1665 1029h1v34h-1zM1670 1029h2v34h-2zM1678 1029h1v34h-1zM1681 1029h2v34h-2zM1688 1029h1v34h-1zM1691 1029h1v34h-1zM1695 1029h2v34h-2zM1730 1029h2v34h-2zM1740 1029h1v34h-1zM1744 1029h1v34h-1zM1746 1029h1v34h-1zM1748 1029h2v34h-2zM1751 1029h2v34h-2zM535 1063h2v33h-2zM539 1063h1v33h-1zM542 1063h1v33h-1zM545 1063h2v33h-2zM554 1063h1v33h-1zM558 1063h2v33h-2zM570 1063h1v33h-1zM582 1063h1v33h-1zM584 1063h1v33h-1zM592 1063h1v33h-1zM601 1063h1v33h-1zM608 1063h1v33h-1zM649 1063h1v33h-1zM661 1063h2v33h-2zM669 1063h1v33h-1zM708 1063h1v33h-1zM834 1063h1v33h-1zM1762 1063h1v33h-1zM1765 1063h2v33h-2zM1768 1063h2v33h-2zM531 1096h1v34h-1zM537 1096h2v34h-2zM542 1096h1v34h-1zM558 1096h1v34h-1zM561 1096h1v34h-1zM563 1096h1v34h-1zM570 1096h1v34h-1zM584 1096h2v34h-2zM588 1096h1v34h-1zM593 1096h1v34h-1zM601 1096h1v34h-1zM608 1096h2v34h-2zM617 1096h2v34h-2zM626 1096h1v34h-1zM644 1096h1v34h-1zM653 1096h1v34h-1zM677 1096h3v34h-3zM723 1096h1v34h-1zM732 1096h1v34h-1zM768 1096h1v34h-1zM867 1096h5v34h-5zM874 1096h1v34h-1zM1770 1096h1v34h-1zM1772 1096h1v34h-1zM1776 1096h1v34h-1zM1778 1096h1v34h-1zM1781 1096h1v34h-1zM1784 1096h1v34h-1z"/><path fill="#ff8676" d="M524 93h1v33h-1zM528 93h1v33h-1zM530 93h1v33h-1zM532 93h1v33h-1zM534 93h1v33h-1zM538 93h1v33h-1zM560 93h1v33h-1zM581 93h1v33h-1zM584 93h1v33h-1zM603 93h1v33h-1zM609 93h1v33h-1zM617 93h2v33h-2zM627 93h2v33h-2zM705 93h2v33h-2zM750 93h4v33h-4zM755 93h3v33h-3zM1052 93h1v33h-1zM1054 93h2v33h-2zM538 126h1v34h-1zM543 126h3v34h-3zM547 126h1v34h-1zM559 126h2v34h-2zM563 126h1v34h-1zM570 126h1v34h-1zM572 126h1v34h-1zM586 126h1v34h-1zM593 126h1v34h-1zM629 126h3v34h-3zM644 126h1v34h-1zM654 126h2v34h-2zM680 126h2v34h-2zM709 126h5v34h-5zM754 126h1v34h-1zM758 126h1v34h-1zM841 126h5v34h-5zM851 126h3v34h-3zM863 126h2v34h-2zM1063 126h1v34h-1zM1072 126h1v34h-1zM1076 126h1v34h-1zM1078 126h1v34h-1zM1080 126h4v34h-4zM1085 126h1v34h-1zM1087 126h2v34h-2zM1091 126h2v34h-2zM522 160h1v33h-1zM527 160h1v33h-1zM632 160h1v33h-1zM645 160h1v33h-1zM661 160h2v33h-2zM685 160h1v33h-1zM715 160h3v33h-3zM874 160h1v33h-1zM1097 160h1v33h-1zM663 193h3v34h-3zM685 193h1v34h-1zM718 193h1v34h-1zM720 193h2v34h-2zM779 193h1v34h-1zM781 193h3v34h-3zM877 193h2v34h-2zM880 193h1v34h-1zM885 193h1v34h-1zM1104 193h3v34h-3zM1109 193h1v34h-1zM524 227h1v33h-1zM530 227h1v33h-1zM532 227h1v33h-1zM534 227h2v33h-2zM538 227h1v33h-1zM540 227h1v33h-1zM547 227h1v33h-1zM558 227h1v33h-1zM572 227h1v33h-1zM588 227h1v33h-1zM592 227h1v33h-1zM601 227h1v33h-1zM623 227h1v33h-1zM629 227h3v33h-3zM648 227h1v33h-1zM893 227h1v33h-1zM1115 227h3v33h-3zM1120 227h1v33h-1zM1128 227h1v33h-1zM523 260h1v34h-1zM624 260h1v34h-1zM635 260h2v34h-2zM668 260h1v34h-1zM691 260h2v34h-2zM788 260h2v34h-2zM791 260h2v34h-2zM895 260h1v34h-1zM901 260h2v34h-2zM1132 260h1v34h-1zM1134 260h1v34h-1zM1139 260h1v34h-1zM1141 260h1v34h-1zM1143 260h3v34h-3zM1148 260h2v34h-2zM1151 260h1v34h-1zM1154 260h1v34h-1zM1156 260h1v34h-1zM1159 260h1v34h-1zM1161 260h1v34h-1zM1163 260h1v34h-1zM1165 260h1v34h-1zM1170 260h1v34h-1zM535 294h5v33h-5zM542 294h1v33h-1zM545 294h2v33h-2zM558 294h1v33h-1zM561 294h1v33h-1zM563 294h1v33h-1zM582 294h1v33h-1zM585 294h1v33h-1zM588 294h1v33h-1zM593 294h1v33h-1zM595 294h1v33h-1zM600 294h2v33h-2zM608 294h2v33h-2zM694 294h1v33h-1zM793 294h2v33h-2zM904 294h2v33h-2zM915 294h2v33h-2zM1172 294h1v33h-1zM1174 294h1v33h-1zM1178 294h1v33h-1zM1180 294h1v33h-1zM1198 294h1v33h-1zM1201 294h1v33h-1zM1212 294h2v33h-2zM1215 294h1v33h-1zM1219 294h1v33h-1zM1223 294h2v33h-2zM529 327h1v33h-1zM534 327h1v33h-1zM537 327h1v33h-1zM540 327h1v33h-1zM542 327h1v33h-1zM547 327h1v33h-1zM563 327h1v33h-1zM570 327h1v33h-1zM585 327h1v33h-1zM592 327h1v33h-1zM600 327h2v33h-2zM603 327h1v33h-1zM607 327h1v33h-1zM619 327h1v33h-1zM670 327h1v33h-1zM695 327h2v33h-2zM732 327h1v33h-1zM799 327h1v33h-1zM805 327h1v33h-1zM807 327h2v33h-2zM918 327h1v33h-1zM920 327h1v33h-1zM925 327h5v33h-5zM1227 327h2v33h-2zM1233 327h1v33h-1zM1239 327h1v33h-1zM1242 327h1v33h-1zM1244 327h1v33h-1zM560 360h1v34h-1zM584 360h1v34h-1zM588 360h1v34h-1zM772 360h1v34h-1zM779 360h1v34h-1zM782 360h2v34h-2zM809 360h2v34h-2zM885 360h1v34h-1zM931 360h1v34h-1zM1247 360h1v34h-1zM619 394h1v33h-1zM672 394h1v33h-1zM697 394h2v33h-2zM813 394h1v33h-1zM934 394h2v33h-2zM937 394h2v33h-2zM1251 394h1v33h-1zM1253 394h1v33h-1zM531 427h1v34h-1zM536 427h1v34h-1zM538 427h1v34h-1zM540 427h1v34h-1zM542 427h1v34h-1zM546 427h1v34h-1zM554 427h1v34h-1zM563 427h1v34h-1zM581 427h2v34h-2zM585 427h1v34h-1zM600 427h1v34h-1zM608 427h1v34h-1zM686 427h2v34h-2zM1261 427h1v34h-1zM1268 427h1v34h-1zM1271 427h1v34h-1zM1273 427h1v34h-1zM651 461h1v33h-1zM673 461h1v33h-1zM699 461h1v33h-1zM816 461h2v33h-2zM943 461h1v33h-1zM945 461h1v33h-1zM1274 461h1v33h-1zM1277 461h1v33h-1zM1281 461h1v33h-1zM1283 461h1v33h-1zM535 494h3v34h-3zM540 494h1v34h-1zM545 494h1v34h-1zM547 494h1v34h-1zM558 494h1v34h-1zM560 494h1v34h-1zM563 494h1v34h-1zM569 494h1v34h-1zM572 494h1v34h-1zM580 494h1v34h-1zM582 494h1v34h-1zM584 494h1v34h-1zM592 494h2v34h-2zM609 494h1v34h-1zM719 494h1v34h-1zM738 494h2v34h-2zM953 494h1v34h-1zM1290 494h2v34h-2zM1295 494h4v34h-4zM534 528h1v33h-1zM538 528h1v33h-1zM560 528h1v33h-1zM569 528h2v33h-2zM581 528h2v33h-2zM585 528h1v33h-1zM600 528h1v33h-1zM603 528h1v33h-1zM608 528h1v33h-1zM626 528h1v33h-1zM632 528h1v33h-1zM653 528h1v33h-1zM675 528h1v33h-1zM701 528h3v33h-3zM715 528h3v33h-3zM742 528h3v33h-3zM746 528h1v33h-1zM801 528h2v33h-2zM805 528h4v33h-4zM820 528h2v33h-2zM912 528h1v33h-1zM955 528h3v33h-3zM961 528h2v33h-2zM965 528h6v33h-6zM972 528h9v33h-9zM989 528h2v33h-2zM993 528h1v33h-1zM1302 528h3v33h-3zM1311 528h3v33h-3zM1315 528h2v33h-2zM1321 528h1v33h-1zM1324 528h1v33h-1zM1327 528h1v33h-1zM1331 528h1v33h-1zM1334 528h2v33h-2zM1337 528h1v33h-1zM1339 528h1v33h-1zM1341 528h1v33h-1zM1349 528h2v33h-2zM1356 528h1v33h-1zM1359 528h2v33h-2zM1362 528h1v33h-1zM1365 528h1v33h-1zM1367 528h1v33h-1zM1370 528h2v33h-2zM1376 528h2v33h-2zM1386 528h1v33h-1zM1388 528h2v33h-2zM1392 528h1v33h-1zM1395 528h1v33h-1zM1399 528h4v33h-4zM1404 528h1v33h-1zM1407 528h1v33h-1zM1409 528h2v33h-2zM1412 528h1v33h-1zM1414 528h1v33h-1zM1422 528h1v33h-1zM535 561h1v34h-1zM538 561h1v34h-1zM540 561h1v34h-1zM543 561h1v34h-1zM560 561h1v34h-1zM563 561h1v34h-1zM570 561h1v34h-1zM581 561h1v34h-1zM585 561h1v34h-1zM588 561h1v34h-1zM592 561h1v34h-1zM601 561h1v34h-1zM603 561h1v34h-1zM607 561h1v34h-1zM644 561h1v34h-1zM671 561h1v34h-1zM826 561h1v34h-1zM524 595h1v33h-1zM526 595h4v33h-4zM532 595h1v33h-1zM584 595h1v33h-1zM627 595h2v33h-2zM635 595h2v33h-2zM663 595h3v33h-3zM827 595h2v33h-2zM1002 595h4v33h-4zM1440 595h1v33h-1zM1443 595h1v33h-1zM1449 595h1v33h-1zM1452 595h1v33h-1zM1454 595h1v33h-1zM1458 595h2v33h-2zM531 628h1v33h-1zM534 628h2v33h-2zM538 628h2v33h-2zM542 628h1v33h-1zM546 628h1v33h-1zM560 628h2v33h-2zM581 628h2v33h-2zM607 628h1v33h-1zM654 628h2v33h-2zM663 628h3v33h-3zM668 628h1v33h-1zM686 628h2v33h-2zM748 628h1v33h-1zM893 628h1v33h-1zM1464 628h2v33h-2zM1468 628h2v33h-2zM1474 628h1v33h-1zM1477 628h1v33h-1zM1482 628h3v33h-3zM531 661h1v34h-1zM534 661h1v34h-1zM536 661h1v34h-1zM540 661h1v34h-1zM542 661h1v34h-1zM559 661h1v34h-1zM572 661h1v34h-1zM580 661h1v34h-1zM582 661h1v34h-1zM585 661h1v34h-1zM593 661h1v34h-1zM603 661h1v34h-1zM608 661h1v34h-1zM620 661h1v34h-1zM625 661h1v34h-1zM635 661h2v34h-2zM638 661h1v34h-1zM650 661h1v34h-1zM723 661h1v34h-1zM832 661h1v34h-1zM1016 661h1v34h-1zM1018 661h2v34h-2zM1491 661h1v34h-1zM1495 661h2v34h-2zM525 695h1v33h-1zM530 695h1v33h-1zM558 695h1v33h-1zM691 695h2v33h-2zM835 695h1v33h-1zM1022 695h2v33h-2zM1503 695h2v33h-2zM1506 695h1v33h-1zM1508 695h1v33h-1zM1514 695h1v33h-1zM1518 695h1v33h-1zM1520 695h4v33h-4zM530 728h1v34h-1zM1026 728h1v34h-1zM1524 728h1v34h-1zM1528 728h2v34h-2zM1531 728h1v34h-1zM1535 728h3v34h-3zM525 762h1v33h-1zM527 762h1v33h-1zM654 795h2v34h-2zM699 795h1v34h-1zM836 795h1v34h-1zM534 829h3v33h-3zM539 829h2v33h-2zM545 829h1v33h-1zM558 829h1v33h-1zM560 829h2v33h-2zM570 829h1v33h-1zM572 829h1v33h-1zM584 829h3v33h-3zM593 829h1v33h-1zM600 829h1v33h-1zM607 829h3v33h-3zM1542 829h1v33h-1zM1546 829h2v33h-2zM536 862h3v33h-3zM540 862h1v33h-1zM546 862h1v33h-1zM554 862h1v33h-1zM558 862h1v33h-1zM563 862h1v33h-1zM572 862h1v33h-1zM584 862h2v33h-2zM588 862h1v33h-1zM595 862h1v33h-1zM601 862h1v33h-1zM609 862h1v33h-1zM619 862h1v33h-1zM691 862h2v33h-2zM720 862h2v33h-2zM773 862h5v33h-5zM779 862h1v33h-1zM782 862h2v33h-2zM1020 862h1v33h-1zM1037 862h1v33h-1zM1551 862h2v33h-2zM1556 862h2v33h-2zM524 895h1v34h-1zM526 895h1v34h-1zM528 895h1v34h-1zM530 895h2v34h-2zM534 895h1v34h-1zM658 895h3v34h-3zM673 895h1v34h-1zM1038 895h1v34h-1zM1559 895h2v34h-2zM1562 895h2v34h-2zM524 929h1v33h-1zM526 929h1v33h-1zM748 929h1v33h-1zM1041 929h1v33h-1zM521 962h1v34h-1zM530 962h1v34h-1zM534 962h1v34h-1zM536 962h2v34h-2zM542 962h1v34h-1zM554 962h1v34h-1zM559 962h3v34h-3zM563 962h1v34h-1zM572 962h1v34h-1zM580 962h1v34h-1zM584 962h2v34h-2zM593 962h1v34h-1zM600 962h1v34h-1zM603 962h1v34h-1zM607 962h1v34h-1zM617 962h2v34h-2zM623 962h1v34h-1zM722 962h1v34h-1zM839 962h1v34h-1zM959 962h4v34h-4zM972 962h5v34h-5zM984 962h5v34h-5zM997 962h1v34h-1zM1024 962h2v34h-2zM1569 962h1v34h-1zM1571 962h2v34h-2zM1577 962h2v34h-2zM1581 962h2v34h-2zM1584 962h1v34h-1zM1588 962h2v34h-2zM1591 962h1v34h-1zM1598 962h1v34h-1zM534 996h3v33h-3zM538 996h3v33h-3zM542 996h1v33h-1zM547 996h1v33h-1zM560 996h2v33h-2zM569 996h1v33h-1zM572 996h1v33h-1zM582 996h1v33h-1zM585 996h2v33h-2zM588 996h1v33h-1zM592 996h1v33h-1zM601 996h1v33h-1zM603 996h1v33h-1zM635 996h2v33h-2zM648 996h1v33h-1zM680 996h2v33h-2zM817 996h1v33h-1zM839 996h1v33h-1zM1043 996h1v33h-1zM1606 996h1v33h-1zM1611 996h1v33h-1zM1616 996h1v33h-1zM1619 996h1v33h-1zM1622 996h1v33h-1zM1629 996h1v33h-1zM1634 996h1v33h-1zM1639 996h1v33h-1zM521 1029h1v34h-1zM536 1029h1v34h-1zM538 1029h3v34h-3zM543 1029h1v34h-1zM546 1029h2v34h-2zM554 1029h1v34h-1zM560 1029h1v34h-1zM563 1029h1v34h-1zM570 1029h1v34h-1zM572 1029h1v34h-1zM582 1029h1v34h-1zM584 1029h1v34h-1zM607 1029h1v34h-1zM609 1029h1v34h-1zM639 1029h1v34h-1zM649 1029h1v34h-1zM745 1029h1v34h-1zM747 1029h1v34h-1zM758 1029h1v34h-1zM846 1029h3v34h-3zM1642 1029h2v34h-2zM1658 1029h1v34h-1zM1661 1029h1v34h-1zM1663 1029h1v34h-1zM1667 1029h1v34h-1zM1674 1029h2v34h-2zM1680 1029h1v34h-1zM1685 1029h1v34h-1zM1692 1029h1v34h-1zM1694 1029h1v34h-1zM1699 1029h1v34h-1zM1703 1029h2v34h-2zM1710 1029h1v34h-1zM1714 1029h4v34h-4zM1724 1029h1v34h-1zM1729 1029h1v34h-1zM1732 1029h1v34h-1zM1735 1029h1v34h-1zM1742 1029h1v34h-1zM1745 1029h1v34h-1zM524 1063h1v33h-1zM529 1063h4v33h-4zM534 1063h1v33h-1zM537 1063h2v33h-2zM569 1063h1v33h-1zM572 1063h1v33h-1zM585 1063h1v33h-1zM588 1063h1v33h-1zM593 1063h1v33h-1zM607 1063h1v33h-1zM644 1063h1v33h-1zM650 1063h1v33h-1zM822 1063h4v33h-4zM1758 1063h1v33h-1zM1761 1063h1v33h-1zM1763 1063h2v33h-2zM524 1096h1v34h-1zM526 1096h1v34h-1zM530 1096h1v34h-1zM534 1096h1v34h-1zM536 1096h1v34h-1zM547 1096h1v34h-1zM569 1096h1v34h-1zM603 1096h1v34h-1zM650 1096h1v34h-1zM668 1096h1v34h-1zM865 1096h2v34h-2zM872 1096h2v34h-2zM903 1096h1v34h-1zM1773 1096h1v34h-1zM1775 1096h1v34h-1zM1783 1096h1v34h-1z"/><path fill="#ff7566" d="M523 93h1v33h-1zM526 93h1v33h-1zM529 93h1v33h-1zM654 93h2v33h-2zM758 93h1v33h-1zM1053 93h1v33h-1zM529 126h2v34h-2zM537 126h1v34h-1zM539 126h2v34h-2zM542 126h1v34h-1zM558 126h1v34h-1zM580 126h3v34h-3zM585 126h1v34h-1zM600 126h1v34h-1zM603 126h1v34h-1zM607 126h2v34h-2zM619 126h1v34h-1zM682 126h2v34h-2zM705 126h4v34h-4zM755 126h3v34h-3zM760 126h2v34h-2zM1066 126h1v34h-1zM1068 126h1v34h-1zM1070 126h2v34h-2zM1073 126h2v34h-2zM1086 126h1v34h-1zM766 160h2v33h-2zM769 160h2v33h-2zM1098 160h1v33h-1zM1100 160h1v33h-1zM1102 160h1v33h-1zM522 193h1v34h-1zM879 193h1v34h-1zM528 227h1v33h-1zM666 227h1v33h-1zM784 227h4v33h-4zM886 227h1v33h-1zM889 227h4v33h-4zM1111 227h3v33h-3zM1118 227h2v33h-2zM1125 227h1v33h-1zM1129 227h1v33h-1zM519 260h2v34h-2zM724 260h4v34h-4zM904 260h2v34h-2zM1140 260h1v34h-1zM1142 260h1v34h-1zM1150 260h1v34h-1zM1153 260h1v34h-1zM1160 260h1v34h-1zM1162 260h1v34h-1zM1166 260h1v34h-1zM1168 260h1v34h-1zM524 294h1v33h-1zM531 294h1v33h-1zM560 294h1v33h-1zM570 294h1v33h-1zM572 294h1v33h-1zM580 294h2v33h-2zM584 294h1v33h-1zM650 294h1v33h-1zM728 294h1v33h-1zM798 294h1v33h-1zM1176 294h2v33h-2zM1182 294h2v33h-2zM1186 294h1v33h-1zM1191 294h1v33h-1zM1196 294h2v33h-2zM1200 294h1v33h-1zM1203 294h1v33h-1zM1206 294h2v33h-2zM1209 294h3v33h-3zM1214 294h1v33h-1zM1216 294h2v33h-2zM1220 294h1v33h-1zM531 327h1v33h-1zM558 327h1v33h-1zM582 327h1v33h-1zM697 327h1v33h-1zM731 327h1v33h-1zM734 327h1v33h-1zM803 327h2v33h-2zM919 327h1v33h-1zM923 327h2v33h-2zM1238 327h1v33h-1zM524 360h1v34h-1zM526 360h1v34h-1zM528 360h2v34h-2zM532 360h1v34h-1zM773 360h1v34h-1zM778 360h1v34h-1zM780 360h1v34h-1zM880 360h1v34h-1zM527 394h1v33h-1zM735 394h1v33h-1zM811 394h2v33h-2zM528 427h1v34h-1zM534 427h1v34h-1zM558 427h1v34h-1zM814 427h2v34h-2zM944 461h1v33h-1zM528 494h2v34h-2zM538 494h1v34h-1zM559 494h1v34h-1zM561 494h1v34h-1zM585 494h1v34h-1zM607 494h2v34h-2zM949 494h2v34h-2zM1299 494h1v34h-1zM532 528h1v33h-1zM536 528h1v33h-1zM539 528h2v33h-2zM542 528h1v33h-1zM547 528h1v33h-1zM558 528h2v33h-2zM563 528h1v33h-1zM674 528h1v33h-1zM745 528h1v33h-1zM803 528h2v33h-2zM958 528h1v33h-1zM981 528h1v33h-1zM1348 528h1v33h-1zM1424 528h11v33h-11zM526 561h1v34h-1zM529 561h1v34h-1zM532 561h1v34h-1zM534 561h1v34h-1zM537 561h1v34h-1zM546 561h1v34h-1zM554 561h1v34h-1zM558 561h2v34h-2zM580 561h1v34h-1zM582 561h1v34h-1zM593 561h1v34h-1zM595 561h1v34h-1zM608 561h1v34h-1zM522 595h1v33h-1zM1450 595h1v33h-1zM528 628h3v33h-3zM558 628h1v33h-1zM585 628h2v33h-2zM1006 628h1v33h-1zM1013 628h4v33h-4zM1460 628h2v33h-2zM1480 628h2v33h-2zM560 661h2v34h-2zM584 661h1v34h-1zM607 661h1v34h-1zM609 661h1v34h-1zM833 661h1v34h-1zM1007 661h2v34h-2zM1013 661h3v34h-3zM1021 661h1v34h-1zM1497 661h1v34h-1zM522 695h1v33h-1zM524 695h1v33h-1zM526 695h1v33h-1zM528 695h1v33h-1zM532 695h1v33h-1zM1502 695h1v33h-1zM525 728h1v34h-1zM1024 728h2v34h-2zM1538 728h1v34h-1zM1540 795h1v34h-1zM526 829h1v33h-1zM528 829h2v33h-2zM537 829h1v33h-1zM542 829h1v33h-1zM546 829h1v33h-1zM569 829h1v33h-1zM582 829h1v33h-1zM528 862h3v33h-3zM532 862h1v33h-1zM534 862h1v33h-1zM560 862h1v33h-1zM570 862h1v33h-1zM718 862h1v33h-1zM772 862h1v33h-1zM875 862h2v33h-2zM1035 862h1v33h-1zM1550 862h1v33h-1zM1553 862h1v33h-1zM527 895h1v34h-1zM1040 895h1v34h-1zM527 929h1v33h-1zM528 962h1v34h-1zM531 962h1v34h-1zM535 962h1v34h-1zM540 962h1v34h-1zM582 962h1v34h-1zM592 962h1v34h-1zM958 962h1v34h-1zM963 962h6v34h-6zM982 962h2v34h-2zM993 962h1v34h-1zM1570 962h1v34h-1zM1575 962h1v34h-1zM1580 962h1v34h-1zM1585 962h1v34h-1zM530 996h2v33h-2zM537 996h1v33h-1zM580 996h1v33h-1zM593 996h1v33h-1zM608 996h2v33h-2zM1612 996h2v33h-2zM1617 996h2v33h-2zM1623 996h1v33h-1zM1625 996h2v33h-2zM1632 996h1v33h-1zM1640 996h1v33h-1zM531 1029h1v34h-1zM534 1029h2v34h-2zM537 1029h1v34h-1zM558 1029h1v34h-1zM561 1029h1v34h-1zM580 1029h2v34h-2zM592 1029h1v34h-1zM595 1029h1v34h-1zM600 1029h1v34h-1zM608 1029h1v34h-1zM1641 1029h1v34h-1zM1644 1029h2v34h-2zM1649 1029h1v34h-1zM1651 1029h1v34h-1zM1656 1029h2v34h-2zM1659 1029h2v34h-2zM1664 1029h1v34h-1zM1668 1029h2v34h-2zM1672 1029h2v34h-2zM1677 1029h1v34h-1zM1679 1029h1v34h-1zM1686 1029h2v34h-2zM1693 1029h1v34h-1zM1700 1029h2v34h-2zM1705 1029h1v34h-1zM1708 1029h2v34h-2zM1712 1029h1v34h-1zM1719 1029h3v34h-3zM1728 1029h1v34h-1zM1733 1029h1v34h-1zM1736 1029h2v34h-2zM1741 1029h1v34h-1zM1747 1029h1v34h-1zM1750 1029h1v34h-1zM1755 1029h1v34h-1zM1757 1029h1v34h-1zM523 1063h1v33h-1zM525 1063h1v33h-1zM528 1063h1v33h-1zM1767 1063h1v33h-1zM523 1096h1v34h-1zM527 1096h3v34h-3zM532 1096h1v34h-1zM766 1096h2v34h-2zM769 1096h2v34h-2zM840 1096h1v34h-1zM1777 1096h1v34h-1zM1780 1096h1v34h-1zM1782 1096h1v34h-1z"/><path fill="#ff6357" d="M525 93h1v33h-1zM527 93h1v33h-1zM526 126h1v34h-1zM528 126h1v34h-1zM532 126h1v34h-1zM534 126h3v34h-3zM588 126h1v34h-1zM595 126h1v34h-1zM859 126h4v34h-4zM519 160h1v33h-1zM523 227h1v33h-1zM526 227h1v33h-1zM1127 227h1v33h-1zM522 260h1v34h-1zM523 294h1v33h-1zM529 294h2v33h-2zM534 294h1v33h-1zM1199 294h1v33h-1zM1205 294h1v33h-1zM1221 294h1v33h-1zM524 327h1v33h-1zM528 327h1v33h-1zM530 327h1v33h-1zM532 327h1v33h-1zM519 360h1v34h-1zM525 360h1v34h-1zM527 360h1v34h-1zM525 394h1v33h-1zM525 427h1v34h-1zM527 427h1v34h-1zM530 427h1v34h-1zM532 427h1v34h-1zM520 461h1v33h-1zM522 461h1v33h-1zM530 494h2v34h-2zM534 494h1v34h-1zM526 528h1v33h-1zM530 528h2v33h-2zM524 561h1v34h-1zM530 561h1v34h-1zM523 595h1v33h-1zM1001 595h1v33h-1zM523 628h1v33h-1zM704 628h1v33h-1zM529 661h2v34h-2zM520 695h1v33h-1zM523 695h1v33h-1zM527 695h1v33h-1zM519 762h5v33h-5zM523 795h1v34h-1zM676 795h1v34h-1zM524 829h1v33h-1zM530 829h2v33h-2zM526 862h2v33h-2zM531 862h1v33h-1zM521 895h1v34h-1zM523 895h1v34h-1zM525 929h1v33h-1zM523 962h1v34h-1zM525 962h2v34h-2zM529 962h1v34h-1zM532 962h1v34h-1zM528 996h2v33h-2zM1609 996h1v33h-1zM1635 996h1v33h-1zM526 1029h1v34h-1zM528 1029h2v34h-2zM559 1029h1v34h-1zM1647 1029h2v34h-2zM1653 1029h1v34h-1zM1662 1029h1v34h-1zM1666 1029h1v34h-1zM1676 1029h1v34h-1zM1683 1029h2v34h-2zM1689 1029h2v34h-2zM1697 1029h2v34h-2zM1702 1029h1v34h-1zM1706 1029h2v34h-2zM1711 1029h1v34h-1zM1713 1029h1v34h-1zM1718 1029h1v34h-1zM1722 1029h2v34h-2zM1725 1029h3v34h-3zM1734 1029h1v34h-1zM1738 1029h2v34h-2zM1743 1029h1v34h-1zM1753 1029h2v34h-2zM1756 1029h1v34h-1zM526 1063h2v33h-2z"/><path fill="#ff5248" d="M519 93h1v33h-1zM522 93h1v33h-1zM524 126h1v34h-1zM523 160h1v33h-1zM523 193h1v34h-1zM519 227h3v33h-3zM525 227h1v33h-1zM526 294h1v33h-1zM528 294h1v33h-1zM532 294h1v33h-1zM522 360h1v34h-1zM521 394h1v33h-1zM523 394h1v33h-1zM522 427h1v34h-1zM524 427h1v34h-1zM526 427h1v34h-1zM519 461h1v33h-1zM521 461h1v33h-1zM523 494h4v34h-4zM522 528h1v33h-1zM528 528h1v33h-1zM525 561h1v34h-1zM528 561h1v34h-1zM520 595h1v33h-1zM525 595h1v33h-1zM532 628h1v33h-1zM522 661h3v34h-3zM528 661h1v34h-1zM532 661h1v34h-1zM519 695h1v33h-1zM521 695h1v33h-1zM520 728h1v34h-1zM522 728h2v34h-2zM522 795h1v34h-1zM532 829h1v33h-1zM520 862h1v33h-1zM520 895h1v34h-1zM522 895h1v34h-1zM520 929h1v33h-1zM522 962h1v34h-1zM524 962h1v34h-1zM523 996h2v33h-2zM530 1029h1v34h-1zM532 1029h1v34h-1zM519 1063h1v33h-1zM520 1096h1v34h-1zM522 1096h1v34h-1zM525 1096h1v34h-1z"/><path fill="#ff4139" d="M520 93h1v33h-1zM525 126h1v34h-1zM520 160h1v33h-1zM522 227h1v33h-1zM527 227h1v33h-1zM1114 227h1v33h-1zM1121 227h1v33h-1zM1123 227h1v33h-1zM1126 227h1v33h-1zM521 294h1v33h-1zM527 327h1v33h-1zM520 360h1v34h-1zM520 394h1v33h-1zM522 394h1v33h-1zM519 427h3v34h-3zM520 494h1v34h-1zM527 494h1v34h-1zM523 528h3v33h-3zM527 528h1v33h-1zM521 561h3v34h-3zM527 561h1v34h-1zM519 595h1v33h-1zM527 628h1v33h-1zM519 661h1v34h-1zM526 661h1v34h-1zM519 795h1v34h-1zM520 829h1v33h-1zM522 829h2v33h-2zM525 829h1v33h-1zM522 862h4v33h-4zM519 895h1v34h-1zM523 929h1v33h-1zM519 962h2v34h-2zM527 962h1v34h-1zM522 996h1v33h-1zM524 1029h2v34h-2zM520 1063h3v33h-3zM521 1096h1v34h-1z"/><path fill="#ff2f2a" d="M521 93h1v33h-1zM522 126h1v34h-1zM527 126h1v34h-1zM519 193h3v34h-3zM521 260h1v34h-1zM519 294h1v33h-1zM525 294h1v33h-1zM527 294h1v33h-1zM520 327h3v33h-3zM525 327h1v33h-1zM521 360h1v34h-1zM519 394h1v33h-1zM519 494h1v34h-1zM522 494h1v34h-1zM520 528h1v33h-1zM519 561h2v34h-2zM525 628h1v33h-1zM521 661h1v34h-1zM525 661h1v34h-1zM521 795h1v34h-1zM519 829h1v33h-1zM527 829h1v33h-1zM521 862h1v33h-1zM519 929h1v33h-1zM522 929h1v33h-1zM521 996h1v33h-1zM519 1029h2v34h-2zM527 1029h1v34h-1zM519 1096h1v34h-1z"/><path fill="#ff1e1a" d="M519 126h3v34h-3zM520 294h1v33h-1zM522 294h1v33h-1zM519 327h1v33h-1zM520 628h2v33h-2zM521 728h1v34h-1zM520 996h1v33h-1zM525 996h1v33h-1zM522 1029h2v34h-2z"/><path fill="#ff0d0b" d="M523 126h1v34h-1zM521 494h1v34h-1zM519 528h1v33h-1zM521 528h1v33h-1zM519 628h1v33h-1zM520 661h1v34h-1zM519 728h1v34h-1zM521 829h1v33h-1zM521 929h1v33h-1zM519 996h1v33h-1z"/></g><rect x="519.5" y="79" width="90" height="14" fill="#ff0000"/><rect x="616.5" y="79" width="429" height="14" fill="#00ff33"/><rect x="1052.5" y="79" width="732" height="14" fill="#0033ff"/><path d="M1818.6 105.1L1830.9 105.1A12.3 12.3 0 1 0 1806.3 105.5Z" fill="#ff0000"/><path d="M1818.6 105.1L1806.3 105.5A12.3 12.3 0 0 0 1830.2 109.3Z" fill="#00cc00"/><path d="M1818.6 105.1L1830.2 109.3A12.3 12.3 0 0 0 1830.9 105.1Z" fill="#0000ff"/><circle cx="1818.6" cy="105.1" r="12.3" fill="none" stroke="#333" stroke-width=".6"/><path d="M1818.6 138.8L1830.9 138.8A12.3 12.3 0 0 0 1809.9 130.1Z" fill="#ff0000"/><path d="M1818.6 138.8L1809.9 130.1A12.3 12.3 0 0 0 1821.8 150.7Z" fill="#00cc00"/><path d="M1818.6 138.8L1821.8 150.7A12.3 12.3 0 0 0 1830.9 138.8Z" fill="#0000ff"/><circle cx="1818.6" cy="138.8" r="12.3" fill="none" stroke="#333" stroke-width=".6"/><path d="M1818.6 172.5L1830.9 172.5A12.3 12.3 0 0 0 1806.3 172.5Z" fill="#ff0000"/><path d="M1818.6 172.5L1806.3 172.5A12.3 12.3 0 0 0 1825.7 182.6Z" fill="#00cc00"/><path d="M1818.6 172.5L1825.7 182.6A12.3 12.3 0 0 0 1830.9 172.5Z" fill="#0000ff"/><circle cx="1818.6" cy="172.5" r="12.3" fill="none" stroke="#333" stroke-width=".6"/><path d="M1818.6 206.3L1830.9 206.3A12.3 12.3 0 0 0 1807.5 201.1Z" fill="#ff0000"/><path d="M1818.6 206.3L1807.5 201.1A12.3 12.3 0 0 0 1829.7 211.5Z" fill="#00cc00"/><path d="M1818.6 206.3L1829.7 211.5A12.3 12.3 0 0 0 1830.9 206.3Z" fill="#0000ff"/><circle cx="1818.6" cy="206.3" r="12.3" fill="none" stroke="#333" stroke-width=".6"/><path d="M1818.6 240L1830.9 240A12.3 12.3 0 1 0 1806.3 241.1Z" fill="#ff0000"/><path d="M1818.6 240L1806.3 241.1A12.3 12.3 0 0 0 1822.8 251.5Z" fill="#00cc00"/><path d="M1818.6 240L1822.8 251.5A12.3 12.3 0 0 0 1830.9 240Z" fill="#0000ff"/><circle cx="1818.6" cy="240" r="12.3" fill="none" stroke="#333" stroke-width=".6"/><path d="M1818.6 273.7L1830.9 273.7A12.3 12.3 0 0 0 1811.5 263.6Z" fill="#ff0000"/><path d="M1818.6 273.7L1811.5 263.6A12.3 12.3 0 0 0 1811.5 283.8Z" fill="#00cc00"/><path d="M1818.6 273.7L1811.5 283.8A12.3 12.3 0 0 0 1830.9 273.7Z" fill="#0000ff"/><circle cx="1818.6" cy="273.7" r="12.3" fill="none" stroke="#333" stroke-width=".6"/><path d="M1818.6 307.4L1830.9 307.4A12.3 12.3 0 0 0 1810.7 298Z" fill="#ff0000"/><path d="M1818.6 307.4L1810.7 298A12.3 12.3 0 0 0 1815.4 319.3Z" fill="#00cc00"/><path d="M1818.6 307.4L1815.4 319.3A12.3 12.3 0 0 0 1830.9 307.4Z" fill="#0000ff"/><circle cx="1818.6" cy="307.4" r="12.3" fill="none" stroke="#333" stroke-width=".6"/><path d="M1818.6 341.1L1830.9 341.1A12.3 12.3 0 0 0 1807 336.9Z" fill="#ff0000"/><path d="M1818.6 341.1L1807 336.9A12.3 12.3 0 0 0 1828 349Z" fill="#00cc00"/><path d="M1818.6 341.1L1828 349A12.3 12.3 0 0 0 1830.9 341.1Z" fill="#0000ff"/><circle cx="1818.6" cy="341.1" r="12.3" fill="none" stroke="#333" stroke-width=".6"/><path d="M1818.6 374.9L1830.9 374.9A12.3 12.3 0 1 0 1806.5 377Z" fill="#ff0000"/><path d="M1818.6 374.9L1806.5 377A12.3 12.3 0 0 0 1830.7 377Z" fill="#00cc00"/><path d="M1818.6 374.9L1830.7 377A12.3 12.3 0 0 0 1830.9 374.9Z" fill="#0000ff"/><circle cx="1818.6" cy="374.9" r="12.3" fill="none" stroke="#333" stroke-width=".6"/><path d="M1818.6 408.6L1830.9 408.6A12.3 12.3 0 1 0 1808.5 415.6Z" fill="#ff0000"/><path d="M1818.6 408.6L1808.5 415.6A12.3 12.3 0 0 0 1827.3 417.3Z" fill="#00cc00"/><path d="M1818.6 408.6L1827.3 417.3A12.3 12.3 0 0 0 1830.9 408.6Z" fill="#0000ff"/><circle cx="1818.6" cy="408.6" r="12.3" fill="none" stroke="#333" stroke-width=".6"/><path d="M1818.6 442.3L1830.9 442.3A12.3 12.3 0 1 0 1807 446.5Z" fill="#ff0000"/><path d="M1818.6 442.3L1807 446.5A12.3 12.3 0 0 0 1827.3 451Z" fill="#00cc00"/><path d="M1818.6 442.3L1827.3 451A12.3 12.3 0 0 0 1830.9 442.3Z" fill="#0000ff"/><circle cx="1818.6" cy="442.3" r="12.3" fill="none" stroke="#333" stroke-width=".6"/><path d="M1818.6 476L1830.9 476A12.3 12.3 0 0 0 1806.3 476Z" fill="#ff0000"/><path d="M1818.6 476L1806.3 476A12.3 12.3 0 0 0 1823.8 487.2Z" fill="#00cc00"/><path d="M1818.6 476L1823.8 487.2A12.3 12.3 0 0 0 1830.9 476Z" fill="#0000ff"/><circle cx="1818.6" cy="476" r="12.3" fill="none" stroke="#333" stroke-width=".6"/><path d="M1818.6 509.7L1830.9 509.7A12.3 12.3 0 0 0 1806.3 508.7Z" fill="#ff0000"/><path d="M1818.6 509.7L1806.3 508.7A12.3 12.3 0 0 0 1828 517.6Z" fill="#00cc00"/><path d="M1818.6 509.7L1828 517.6A12.3 12.3 0 0 0 1830.9 509.7Z" fill="#0000ff"/><circle cx="1818.6" cy="509.7" r="12.3" fill="none" stroke="#333" stroke-width=".6"/><path d="M1818.6 543.5L1830.9 543.5A12.3 12.3 0 0 0 1822.8 531.9Z" fill="#ff0000"/><path d="M1818.6 543.5L1822.8 531.9A12.3 12.3 0 0 0 1807 547.7Z" fill="#00cc00"/><path d="M1818.6 543.5L1807 547.7A12.3 12.3 0 0 0 1830.9 543.5Z" fill="#0000ff"/><circle cx="1818.6" cy="543.5" r="12.3" fill="none" stroke="#333" stroke-width=".6"/><path d="M1818.6 577.2L1830.9 577.2A12.3 12.3 0 1 0 1808.5 584.2Z" fill="#ff0000"/><path d="M1818.6 577.2L1808.5 584.2A12.3 12.3 0 0 0 1830.5 580.4Z" fill="#00cc00"/><path d="M1818.6 577.2L1830.5 580.4A12.3 12.3 0 0 0 1830.9 577.2Z" fill="#0000ff"/><circle cx="1818.6" cy="577.2" r="12.3" fill="none" stroke="#333" stroke-width=".6"/><path d="M1818.6 610.9L1830.9 610.9A12.3 12.3 0 0 0 1806.5 608.8Z" fill="#ff0000"/><path d="M1818.6 610.9L1806.5 608.8A12.3 12.3 0 0 0 1822.8 622.5Z" fill="#00cc00"/><path d="M1818.6 610.9L1822.8 622.5A12.3 12.3 0 0 0 1830.9 610.9Z" fill="#0000ff"/><circle cx="1818.6" cy="610.9" r="12.3" fill="none" stroke="#333" stroke-width=".6"/><path d="M1818.6 644.6L1830.9 644.6A12.3 12.3 0 0 0 1807.9 638.5Z" fill="#ff0000"/><path d="M1818.6 644.6L1807.9 638.5A12.3 12.3 0 0 0 1824.8 655.3Z" fill="#00cc00"/><path d="M1818.6 644.6L1824.8 655.3A12.3 12.3 0 0 0 1830.9 644.6Z" fill="#0000ff"/><circle cx="1818.6" cy="644.6" r="12.3" fill="none" stroke="#333" stroke-width=".6"/><path d="M1818.6 678.3L1830.9 678.3A12.3 12.3 0 0 0 1806.5 676.2Z" fill="#ff0000"/><path d="M1818.6 678.3L1806.5 676.2A12.3 12.3 0 0 0 1829.7 683.5Z" fill="#00cc00"/><path d="M1818.6 678.3L1829.7 683.5A12.3 12.3 0 0 0 1830.9 678.3Z" fill="#0000ff"/><circle cx="1818.6" cy="678.3" r="12.3" fill="none" stroke="#333" stroke-width=".6"/><path d="M1818.6 712.1L1830.9 712.1A12.3 12.3 0 0 0 1807 707.9Z" fill="#ff0000"/><path d="M1818.6 712.1L1807 707.9A12.3 12.3 0 0 0 1820.7 724.2Z" fill="#00cc00"/><path d="M1818.6 712.1L1820.7 724.2A12.3 12.3 0 0 0 1830.9 712.1Z" fill="#0000ff"/><circle cx="1818.6" cy="712.1" r="12.3" fill="none" stroke="#333" stroke-width=".6"/><path d="M1818.6 745.8L1830.9 745.8A12.3 12.3 0 1 0 1807.9 751.9Z" fill="#ff0000"/><path d="M1818.6 745.8L1807.9 751.9A12.3 12.3 0 0 0 1821.8 757.7Z" fill="#00cc00"/><path d="M1818.6 745.8L1821.8 757.7A12.3 12.3 0 0 0 1830.9 745.8Z" fill="#0000ff"/><circle cx="1818.6" cy="745.8" r="12.3" fill="none" stroke="#333" stroke-width=".6"/><path d="M1818.6 779.5L1830.9 779.5A12.3 12.3 0 1 0 1806.7 782.7Z" fill="#ff0000"/><path d="M1818.6 779.5L1806.7 782.7A12.3 12.3 0 0 0 1830.9 780.6Z" fill="#00cc00"/><path d="M1818.6 779.5L1830.9 780.6A12.3 12.3 0 0 0 1830.9 779.5Z" fill="#0000ff"/><circle cx="1818.6" cy="779.5" r="12.3" fill="none" stroke="#333" stroke-width=".6"/><path d="M1818.6 813.2L1830.9 813.2A12.3 12.3 0 1 0 1808.5 820.3Z" fill="#ff0000"/><path d="M1818.6 813.2L1808.5 820.3A12.3 12.3 0 0 0 1830.9 814.3Z" fill="#00cc00"/><path d="M1818.6 813.2L1830.9 814.3A12.3 12.3 0 0 0 1830.9 813.2Z" fill="#0000ff"/><circle cx="1818.6" cy="813.2" r="12.3" fill="none" stroke="#333" stroke-width=".6"/><path d="M1818.6 846.9L1830.9 846.9A12.3 12.3 0 1 0 1807 851.1Z" fill="#ff0000"/><path d="M1818.6 846.9L1807 851.1A12.3 12.3 0 0 0 1829.7 852.1Z" fill="#00cc00"/><path d="M1818.6 846.9L1829.7 852.1A12.3 12.3 0 0 0 1830.9 846.9Z" fill="#0000ff"/><circle cx="1818.6" cy="846.9" r="12.3" fill="none" stroke="#333" stroke-width=".6"/><path d="M1818.6 880.7L1830.9 880.7A12.3 12.3 0 1 0 1806.3 881.7Z" fill="#ff0000"/><path d="M1818.6 880.7L1806.3 881.7A12.3 12.3 0 0 0 1829.7 885.9Z" fill="#00cc00"/><path d="M1818.6 880.7L1829.7 885.9A12.3 12.3 0 0 0 1830.9 880.7Z" fill="#0000ff"/><circle cx="1818.6" cy="880.7" r="12.3" fill="none" stroke="#333" stroke-width=".6"/><path d="M1818.6 914.4L1830.9 914.4A12.3 12.3 0 1 0 1807.9 920.5Z" fill="#ff0000"/><path d="M1818.6 914.4L1807.9 920.5A12.3 12.3 0 0 0 1829.7 919.6Z" fill="#00cc00"/><path d="M1818.6 914.4L1829.7 919.6A12.3 12.3 0 0 0 1830.9 914.4Z" fill="#0000ff"/><circle cx="1818.6" cy="914.4" r="12.3" fill="none" stroke="#333" stroke-width=".6"/><path d="M1818.6 948.1L1830.9 948.1A12.3 12.3 0 1 0 1811.5 958.2Z" fill="#ff0000"/><path d="M1818.6 948.1L1811.5 958.2A12.3 12.3 0 0 0 1830.5 951.3Z" fill="#00cc00"/><path d="M1818.6 948.1L1830.5 951.3A12.3 12.3 0 0 0 1830.9 948.1Z" fill="#0000ff"/><circle cx="1818.6" cy="948.1" r="12.3" fill="none" stroke="#333" stroke-width=".6"/><path d="M1818.6 981.8L1830.9 981.8A12.3 12.3 0 0 0 1815.4 969.9Z" fill="#ff0000"/><path d="M1818.6 981.8L1815.4 969.9A12.3 12.3 0 0 0 1821.8 993.7Z" fill="#00cc00"/><path d="M1818.6 981.8L1821.8 993.7A12.3 12.3 0 0 0 1830.9 981.8Z" fill="#0000ff"/><circle cx="1818.6" cy="981.8" r="12.3" fill="none" stroke="#333" stroke-width=".6"/><path d="M1818.6 1015.5L1830.9 1015.5A12.3 12.3 0 0 0 1806.7 1012.4Z" fill="#ff0000"/><path d="M1818.6 1015.5L1806.7 1012.4A12.3 12.3 0 0 0 1817.5 1027.8Z" fill="#00cc00"/><path d="M1818.6 1015.5L1817.5 1027.8A12.3 12.3 0 0 0 1830.9 1015.5Z" fill="#0000ff"/><circle cx="1818.6" cy="1015.5" r="12.3" fill="none" stroke="#333" stroke-width=".6"/><path d="M1818.6 1049.3L1830.9 1049.3A12.3 12.3 0 0 0 1818.6 1037Z" fill="#ff0000"/><path d="M1818.6 1049.3L1818.6 1037A12.3 12.3 0 0 0 1806.5 1051.4Z" fill="#00cc00"/><path d="M1818.6 1049.3L1806.5 1051.4A12.3 12.3 0 0 0 1830.9 1049.3Z" fill="#0000ff"/><circle cx="1818.6" cy="1049.3" r="12.3" fill="none" stroke="#333" stroke-width=".6"/><path d="M1818.6 1083L1830.9 1083A12.3 12.3 0 1 0 1807.5 1088.2Z" fill="#ff0000"/><path d="M1818.6 1083L1807.5 1088.2A12.3 12.3 0 0 0 1828 1090.9Z" fill="#00cc00"/><path d="M1818.6 1083L1828 1090.9A12.3 12.3 0 0 0 1830.9 1083Z" fill="#0000ff"/><circle cx="1818.6" cy="1083" r="12.3" fill="none" stroke="#333" stroke-width=".6"/><path d="M1818.6 1116.7L1830.9 1116.7A12.3 12.3 0 1 0 1806.5 1118.8Z" fill="#ff0000"/><path d="M1818.6 1116.7L1806.5 1118.8A12.3 12.3 0 0 0 1824.8 1127.4Z" fill="#00cc00"/><path d="M1818.6 1116.7L1824.8 1127.4A12.3 12.3 0 0 0 1830.9 1116.7Z" fill="#0000ff"/><circle cx="1818.6" cy="1116.7" r="12.3" fill="none" stroke="#333" stroke-width=".6"/><defs><linearGradient id="cb" x1="0" x2="0" y1="0" y2="1"><stop offset="0" stop-color="#ff0000"/><stop offset="1" stop-color="#ffffe0"/></linearGradient></defs><rect x="1850.5" y="270" width="41.5" height="621.5" fill="url(#cb)"/><g font-size="29" fill="#000"><text x="1903.5" y="352.5">6</text><text x="1903.5" y="626.5">3</text><text x="1903.5" y="899">0</text><text transform="translate(1963.5 580) rotate(-90)" text-anchor="middle">Expression (Log2)</text><text x="565" y="30.5" text-anchor="middle">Ubiquitous</text><text x="565.5" y="66" text-anchor="middle"><tspan font-style="italic">n</tspan> = 652</text><text x="850.3" y="30.5" text-anchor="middle">Intermediately specific</text><text x="850.7" y="66" text-anchor="middle"><tspan font-style="italic">n</tspan> = 3124</text><text x="1426" y="30.5" text-anchor="middle">Cancer type specific</text><text x="1426.7" y="66" text-anchor="middle"><tspan font-style="italic">n</tspan> = 5332</text><text x="1799" y="66">Percentage (%)</text></g><text x="0" y="23" font-size="42" font-weight="bold">a</text><text x="0" y="1202" font-size="42" font-weight="bold">b</text><g shape-rendering="crispEdges"><path fill="#fff2f0" d="M547 1482h11v44h-11zM331 1698h44v11h-44z"/><path fill="#ffece8" d="M288 1415h43v19h-43zM331 1415h44v19h-44zM808 1415h8v19h-8zM264 1439h19v43h-19zM379 1439h43v43h-43zM547 1439h11v43h-11zM264 1482h19v44h-19zM288 1530h43v43h-43zM288 1698h43v11h-43zM264 1959h19v8h-19z"/><path fill="#ffe6e1" d="M375 1415h4v19h-4zM534 1415h13v19h-13zM547 1415h11v19h-11zM808 1434h8v5h-8zM379 1482h43v44h-43zM264 1526h19v4h-19zM331 1530h44v43h-44zM534 1530h13v43h-13zM264 1686h19v12h-19zM379 1686h43v12h-43zM264 1698h19v11h-19zM283 1959h5v8h-5z"/><path fill="#ffdfd9" d="M379 1415h43v19h-43zM751 1415h57v19h-57zM849 1415h63v19h-63zM808 1482h8v44h-8zM264 1530h19v43h-19zM442 1530h62v43h-62zM379 1593h43v62h-43zM676 1593h19v62h-19zM442 1827h62v20h-62zM264 1902h19v57h-19zM331 1959h44v8h-44zM264 2000h19v63h-19z"/><path fill="#ffd9d1" d="M442 1415h62v19h-62zM676 1415h19v19h-19zM695 1415h56v19h-56zM331 1434h44v5h-44zM547 1434h11v5h-11zM751 1434h57v5h-57zM808 1439h8v43h-8zM283 1482h5v44h-5zM442 1482h62v44h-62zM534 1482h13v44h-13zM422 1530h20v43h-20zM379 1573h43v20h-43zM676 1573h19v20h-19zM264 1593h19v62h-19zM331 1593h44v62h-44zM695 1593h56v62h-56zM1019 1593h59v62h-59zM331 1686h44v12h-44zM547 1686h11v12h-11zM283 1698h5v11h-5zM534 1698h13v11h-13zM808 1698h8v11h-8zM264 1827h19v20h-19zM422 1827h20v20h-20zM264 1847h19v55h-19zM442 1847h62v55h-62zM283 1902h5v57h-5zM288 1959h43v8h-43zM547 1959h11v8h-11zM442 2170h62v59h-62z"/><path fill="#ffd2ca" d="M422 1415h20v19h-20zM504 1415h21v19h-21zM558 1415h54v19h-54zM816 1415h33v19h-33zM912 1415h59v19h-59zM849 1434h63v5h-63zM676 1439h19v43h-19zM422 1482h20v44h-20zM504 1482h21v44h-21zM558 1482h54v44h-54zM751 1482h57v44h-57zM264 1573h19v20h-19zM331 1573h44v20h-44zM695 1573h56v20h-56zM547 1593h11v62h-11zM612 1593h64v62h-64zM808 1593h8v62h-8zM264 1655h19v21h-19zM331 1655h44v21h-44zM676 1686h19v12h-19zM695 1686h56v12h-56zM442 1698h62v11h-62zM676 1698h19v11h-19zM264 1709h19v54h-19zM331 1709h44v54h-44zM442 1763h62v64h-62zM288 1827h43v20h-43zM534 1827h13v20h-13zM547 1827h11v20h-11zM422 1847h20v55h-20zM534 1847h13v55h-13zM331 1902h44v57h-44zM442 1959h62v8h-62zM264 1967h19v33h-19zM283 2000h5v63h-5zM264 2063h19v59h-19z"/><path fill="#ffccc3" d="M283 1415h5v19h-5zM525 1415h9v19h-9zM264 1434h19v5h-19zM288 1434h43v5h-43zM375 1434h4v5h-4zM379 1434h43v5h-43zM442 1434h62v5h-62zM558 1434h54v5h-54zM676 1434h19v5h-19zM695 1434h56v5h-56zM283 1439h5v43h-5zM558 1439h54v43h-54zM695 1439h56v43h-56zM525 1482h9v44h-9zM612 1482h64v44h-64zM283 1526h5v4h-5zM547 1526h11v4h-11zM283 1530h5v43h-5zM547 1573h11v20h-11zM612 1573h64v20h-64zM283 1593h5v62h-5zM676 1655h19v21h-19zM695 1655h56v21h-56zM1019 1655h59v21h-59zM264 1676h19v10h-19zM331 1676h44v10h-44zM375 1698h4v11h-4zM422 1698h20v11h-20zM695 1698h56v11h-56zM751 1698h57v11h-57zM816 1698h33v11h-33zM283 1709h5v54h-5zM288 1709h43v54h-43zM808 1709h8v54h-8zM331 1763h44v64h-44zM422 1763h20v64h-20zM283 1827h5v20h-5zM504 1827h21v20h-21zM751 1827h57v20h-57zM808 1827h8v20h-8zM849 1827h63v20h-63zM283 1847h5v55h-5zM288 1847h43v55h-43zM504 1847h21v55h-21zM547 1847h11v55h-11zM751 1847h57v55h-57zM808 1847h8v55h-8zM547 1902h11v57h-11zM676 1902h19v57h-19zM695 1902h56v57h-56zM558 1959h54v8h-54zM676 1959h19v8h-19zM695 1959h56v8h-56zM1019 1959h59v8h-59zM547 1967h11v33h-11zM676 2000h19v63h-19zM504 2170h21v59h-21zM808 2170h8v59h-8z"/><path fill="#ffc6bb" d="M612 1415h64v19h-64zM422 1434h20v5h-20zM504 1434h21v5h-21zM816 1434h33v5h-33zM504 1439h21v43h-21zM525 1439h9v43h-9zM751 1439h57v43h-57zM849 1482h63v44h-63zM1019 1482h59v44h-59zM1382 1482h11v44h-11zM1393 1482h29v44h-29zM504 1530h21v43h-21zM547 1530h11v43h-11zM912 1530h59v43h-59zM283 1573h5v20h-5zM808 1573h8v20h-8zM283 1655h5v21h-5zM288 1655h43v21h-43zM379 1655h43v21h-43zM612 1655h64v21h-64zM288 1676h43v10h-43zM379 1698h43v11h-43zM612 1698h64v11h-64zM849 1698h63v11h-63zM912 1698h59v11h-59zM264 1763h19v64h-19zM504 1763h21v64h-21zM547 1763h11v64h-11zM912 1827h59v20h-59zM849 1847h63v55h-63zM912 1847h59v55h-59zM288 1902h43v57h-43zM1019 1902h59v57h-59zM422 1959h20v8h-20zM283 1967h5v33h-5zM331 2000h44v63h-44zM547 2000h11v63h-11zM695 2000h56v63h-56zM1019 2000h59v63h-59zM379 2063h43v59h-43zM547 2063h11v59h-11zM676 2063h19v59h-19zM695 2063h56v59h-56zM331 2170h44v59h-44zM751 2170h57v59h-57zM849 2170h63v59h-63zM331 2533h44v11h-44zM331 2544h44v30h-44z"/><path fill="#ffbfb4" d="M971 1415h48v19h-48zM1019 1415h59v19h-59zM1171 1415h129v19h-129zM1382 1415h11v19h-11zM1393 1415h29v19h-29zM525 1434h9v5h-9zM912 1434h59v5h-59zM442 1439h62v43h-62zM534 1439h13v43h-13zM912 1482h59v44h-59zM1422 1482h7v44h-7zM422 1526h20v4h-20zM442 1526h62v4h-62zM751 1530h57v43h-57zM1171 1530h129v43h-129zM375 1573h4v20h-4zM1019 1573h59v20h-59zM288 1593h43v62h-43zM375 1593h4v62h-4zM534 1593h13v62h-13zM547 1655h11v21h-11zM283 1676h5v10h-5zM676 1676h19v10h-19zM695 1676h56v10h-56zM288 1686h43v12h-43zM442 1686h62v12h-62zM558 1686h54v12h-54zM612 1686h64v12h-64zM808 1686h8v12h-8zM849 1686h63v12h-63zM1019 1686h59v12h-59zM504 1698h21v11h-21zM1019 1698h59v11h-59zM534 1709h13v54h-13zM676 1709h19v54h-19zM695 1709h56v54h-56zM751 1709h57v54h-57zM534 1763h13v64h-13zM525 1827h9v20h-9zM558 1827h54v20h-54zM525 1847h9v55h-9zM558 1847h54v55h-54zM379 1902h43v57h-43zM558 1902h54v57h-54zM808 1902h8v57h-8zM534 1959h13v8h-13zM751 1959h57v8h-57zM534 2000h13v63h-13zM283 2063h5v59h-5zM331 2063h44v59h-44zM1019 2063h59v59h-59zM264 2122h19v48h-19zM264 2170h19v59h-19zM422 2170h20v59h-20zM534 2170h13v59h-13zM547 2170h11v59h-11zM912 2170h59v59h-59zM1393 2170h29v59h-29zM264 2322h19v129h-19zM379 2322h43v129h-43zM264 2533h19v11h-19zM264 2544h19v30h-19zM1019 2544h59v30h-59zM331 2574h44v6h-44z"/><path fill="#ffb9ad" d="M612 1434h64v5h-64zM971 1434h48v5h-48zM1019 1434h59v5h-59zM1382 1434h11v5h-11zM1393 1434h29v5h-29zM1019 1439h59v43h-59zM676 1482h19v44h-19zM816 1482h33v44h-33zM971 1482h48v44h-48zM808 1530h8v43h-8zM849 1530h63v43h-63zM558 1593h54v62h-54zM849 1593h63v62h-63zM558 1655h54v21h-54zM971 1698h48v11h-48zM1078 1698h36v11h-36zM1171 1698h129v11h-129zM442 1709h62v54h-62zM504 1709h21v54h-21zM283 1763h5v64h-5zM331 1827h44v20h-44zM849 1902h63v57h-63zM379 1959h43v8h-43zM331 1967h44v33h-44zM379 2000h43v63h-43zM442 2000h62v63h-62zM751 2000h57v63h-57zM283 2122h5v48h-5zM331 2122h44v48h-44zM547 2122h11v48h-11zM283 2170h5v59h-5zM288 2170h43v59h-43zM547 2229h11v36h-11zM547 2322h11v129h-11zM283 2533h5v11h-5zM283 2544h5v30h-5z"/><path fill="#ffb2a6" d="M1300 1415h62v19h-62zM1422 1415h7v19h-7zM534 1434h13v5h-13zM1171 1434h129v5h-129zM1300 1434h62v5h-62zM1362 1434h20v5h-20zM1422 1434h7v5h-7zM375 1439h4v43h-4zM422 1439h20v43h-20zM849 1439h63v43h-63zM971 1439h48v43h-48zM1382 1439h11v43h-11zM1393 1439h29v43h-29zM695 1482h56v44h-56zM288 1526h43v4h-43zM504 1526h21v4h-21zM534 1526h13v4h-13zM751 1526h57v4h-57zM808 1526h8v4h-8zM558 1530h54v43h-54zM816 1530h33v43h-33zM1019 1530h59v43h-59zM1078 1530h36v43h-36zM1382 1530h11v43h-11zM1393 1530h29v43h-29zM1422 1530h7v43h-7zM288 1573h43v20h-43zM534 1573h13v20h-13zM558 1573h54v20h-54zM751 1573h57v20h-57zM751 1593h57v62h-57zM971 1593h48v62h-48zM1078 1593h36v62h-36zM1382 1593h11v62h-11zM375 1655h4v21h-4zM534 1655h13v21h-13zM808 1655h8v21h-8zM534 1676h13v10h-13zM547 1676h11v10h-11zM558 1676h54v10h-54zM612 1676h64v10h-64zM808 1676h8v10h-8zM1019 1676h59v10h-59zM283 1686h5v12h-5zM375 1686h4v12h-4zM422 1686h20v12h-20zM504 1686h21v12h-21zM525 1686h9v12h-9zM525 1698h9v11h-9zM1114 1698h57v11h-57zM1300 1698h62v11h-62zM1382 1698h11v11h-11zM1422 1698h7v11h-7zM379 1709h43v54h-43zM422 1709h20v54h-20zM525 1709h9v54h-9zM525 1763h9v64h-9zM751 1763h57v64h-57zM808 1763h8v64h-8zM816 1827h33v20h-33zM1171 1827h129v20h-129zM1382 1827h11v20h-11zM1393 1827h29v20h-29zM1422 1827h7v20h-7zM331 1847h44v55h-44zM816 1847h33v55h-33zM1382 1847h11v55h-11zM1393 1847h29v55h-29zM1422 1847h7v55h-7zM375 1902h4v57h-4zM422 1902h20v57h-20zM442 1902h62v57h-62zM612 1902h64v57h-64zM375 1959h4v8h-4zM504 1959h21v8h-21zM525 1959h9v8h-9zM612 1959h64v8h-64zM971 1959h48v8h-48zM1078 1959h36v8h-36zM1114 1959h57v8h-57zM379 1967h43v33h-43zM676 1967h19v33h-19zM695 1967h56v33h-56zM1019 1967h59v33h-59zM288 2000h43v63h-43zM288 2122h43v48h-43zM442 2122h62v48h-62zM808 2122h8v48h-8zM379 2170h43v59h-43zM525 2170h9v59h-9zM816 2170h33v59h-33zM1171 2170h129v59h-129zM1382 2170h11v59h-11zM1422 2170h7v59h-7zM379 2229h43v36h-43zM442 2229h62v36h-62zM808 2229h8v36h-8zM547 2265h11v57h-11zM808 2265h8v57h-8zM283 2322h5v129h-5zM676 2322h19v129h-19zM1019 2322h59v129h-59zM264 2451h19v62h-19zM283 2451h5v62h-5zM547 2451h11v62h-11zM283 2513h5v20h-5zM288 2533h43v11h-43zM379 2533h43v11h-43zM442 2533h62v11h-62zM547 2533h11v11h-11zM676 2533h19v11h-19zM695 2533h56v11h-56zM1019 2533h59v11h-59zM288 2544h43v30h-43zM379 2544h43v30h-43zM676 2544h19v30h-19zM695 2544h56v30h-56zM264 2574h19v6h-19zM283 2574h5v6h-5zM379 2574h43v6h-43zM547 2574h11v6h-11zM676 2574h19v6h-19zM695 2574h56v6h-56zM1019 2574h59v6h-59z"/><path fill="#ffac9e" d="M1362 1415h20v19h-20zM1078 1434h36v5h-36zM1114 1434h57v5h-57zM912 1439h59v43h-59zM1114 1530h57v43h-57zM1300 1530h62v43h-62zM525 1593h9v62h-9zM1114 1593h57v62h-57zM751 1655h57v21h-57zM849 1655h63v21h-63zM442 1676h62v10h-62zM751 1676h57v10h-57zM849 1676h63v10h-63zM751 1686h57v12h-57zM816 1686h33v12h-33zM1393 1698h29v11h-29zM612 1709h64v54h-64zM816 1709h33v54h-33zM849 1709h63v54h-63zM912 1709h59v54h-59zM558 1763h54v64h-54zM912 1763h59v64h-59zM1171 1847h129v55h-129zM504 1902h21v57h-21zM525 1902h9v57h-9zM534 1902h13v57h-13zM534 1967h13v33h-13zM558 1967h54v33h-54zM504 2000h21v63h-21zM525 2000h9v63h-9zM558 2000h54v63h-54zM288 2063h43v59h-43zM558 2063h54v59h-54zM612 2063h64v59h-64zM283 2229h5v36h-5zM283 2265h5v57h-5zM379 2265h43v57h-43zM442 2265h62v57h-62zM695 2322h56v129h-56zM379 2451h43v62h-43zM264 2513h19v20h-19zM547 2544h11v30h-11z"/><path fill="#ffa697" d="M1078 1415h36v19h-36zM1114 1415h57v19h-57zM816 1439h33v43h-33zM1300 1439h62v43h-62zM1362 1439h20v43h-20zM375 1482h4v44h-4zM331 1526h44v4h-44zM525 1526h9v4h-9zM558 1526h54v4h-54zM525 1530h9v43h-9zM612 1530h64v43h-64zM676 1530h19v43h-19zM695 1530h56v43h-56zM525 1573h9v20h-9zM849 1573h63v20h-63zM971 1573h48v20h-48zM816 1593h33v62h-33zM1300 1593h62v62h-62zM1078 1655h36v21h-36zM375 1676h4v10h-4zM379 1676h43v10h-43zM422 1676h20v10h-20zM971 1686h48v12h-48zM1362 1698h20v11h-20zM375 1709h4v54h-4zM379 1763h43v64h-43zM379 1827h43v20h-43zM379 1847h43v55h-43zM816 1902h33v57h-33zM1078 1902h36v57h-36zM1114 1902h57v57h-57zM1382 1902h11v57h-11zM912 1959h59v8h-59zM1300 1959h62v8h-62zM1382 1959h11v8h-11zM1393 1959h29v8h-29zM1422 1959h7v8h-7zM288 1967h43v33h-43zM442 1967h62v33h-62zM751 1967h57v33h-57zM422 2000h20v63h-20zM1078 2000h36v63h-36zM808 2063h8v59h-8zM422 2122h20v48h-20zM534 2122h13v48h-13zM264 2229h19v36h-19zM504 2229h21v36h-21zM751 2229h57v36h-57zM849 2229h63v36h-63zM264 2265h19v57h-19zM751 2265h57v57h-57zM288 2451h43v62h-43zM442 2451h62v62h-62zM808 2451h8v62h-8zM288 2513h43v20h-43zM547 2513h11v20h-11zM751 2533h57v11h-57zM808 2533h8v11h-8zM808 2544h8v30h-8zM808 2574h8v6h-8z"/><path fill="#ff9f91" d="M612 1439h64v43h-64zM971 1530h48v43h-48zM1078 1573h36v20h-36zM1382 1573h11v20h-11zM1362 1593h20v62h-20zM971 1655h48v21h-48zM1114 1655h57v21h-57zM1382 1686h11v12h-11zM1019 1709h59v54h-59zM288 1763h43v64h-43zM849 1763h63v64h-63zM1171 1763h129v64h-129zM1393 1763h29v64h-29zM1019 1827h59v20h-59zM1019 1847h59v55h-59zM1171 1959h129v8h-129zM612 2000h64v63h-64zM912 2000h59v63h-59zM971 2000h48v63h-48zM1114 2000h57v63h-57zM849 2063h63v59h-63zM1078 2063h36v59h-36zM379 2122h43v48h-43zM504 2122h21v48h-21zM849 2122h63v48h-63zM558 2170h54v59h-54zM676 2170h19v59h-19zM695 2170h56v59h-56zM1300 2170h62v59h-62zM422 2229h20v36h-20zM912 2229h59v36h-59zM504 2265h21v57h-21zM849 2265h63v57h-63zM612 2322h64v129h-64zM808 2322h8v129h-8zM1019 2451h59v62h-59zM442 2513h62v20h-62zM422 2533h20v11h-20zM534 2533h13v11h-13zM612 2544h64v30h-64z"/><path fill="#ff998a" d="M331 1439h44v43h-44zM1078 1439h36v43h-36zM1114 1439h57v43h-57zM1171 1439h129v43h-129zM288 1482h43v44h-43zM1078 1482h36v44h-36zM1114 1482h57v44h-57zM1171 1482h129v44h-129zM1300 1482h62v44h-62zM612 1526h64v4h-64zM676 1526h19v4h-19zM695 1526h56v4h-56zM849 1526h63v4h-63zM1019 1526h59v4h-59zM1382 1526h11v4h-11zM1393 1526h29v4h-29zM1422 1526h7v4h-7zM1362 1530h20v43h-20zM816 1573h33v20h-33zM1114 1573h57v20h-57zM1300 1573h62v20h-62zM1362 1573h20v20h-20zM1393 1593h29v62h-29zM816 1655h33v21h-33zM1300 1655h62v21h-62zM1362 1655h20v21h-20zM1382 1655h11v21h-11zM816 1676h33v10h-33zM971 1676h48v10h-48zM1078 1676h36v10h-36zM1114 1676h57v10h-57zM1300 1676h62v10h-62zM1382 1676h11v10h-11zM1078 1686h36v12h-36zM1114 1686h57v12h-57zM1300 1686h62v12h-62zM1362 1686h20v12h-20zM1393 1686h29v12h-29zM1422 1686h7v12h-7zM971 1709h48v54h-48zM1078 1709h36v54h-36zM1382 1709h11v54h-11zM375 1763h4v64h-4zM676 1763h19v64h-19zM1019 1763h59v64h-59zM1114 1763h57v64h-57zM1382 1763h11v64h-11zM375 1827h4v20h-4zM612 1827h64v20h-64zM971 1827h48v20h-48zM1078 1827h36v20h-36zM1114 1827h57v20h-57zM1300 1827h62v20h-62zM375 1847h4v55h-4zM971 1847h48v55h-48zM1078 1847h36v55h-36zM1114 1847h57v55h-57zM1300 1847h62v55h-62zM912 1902h59v57h-59zM971 1902h48v57h-48zM1300 1902h62v57h-62zM1362 1902h20v57h-20zM1393 1902h29v57h-29zM1422 1902h7v57h-7zM1362 1959h20v8h-20zM422 1967h20v33h-20zM504 1967h21v33h-21zM525 1967h9v33h-9zM1078 1967h36v33h-36zM1114 1967h57v33h-57zM1393 1967h29v33h-29zM375 2000h4v63h-4zM1382 2000h11v63h-11zM1393 2000h29v63h-29zM751 2063h57v59h-57zM971 2063h48v59h-48zM1114 2063h57v59h-57zM1382 2063h11v59h-11zM1393 2063h29v59h-29zM1422 2063h7v59h-7zM525 2122h9v48h-9zM558 2122h54v48h-54zM676 2122h19v48h-19zM695 2122h56v48h-56zM751 2122h57v48h-57zM912 2122h59v48h-59zM375 2170h4v59h-4zM612 2170h64v59h-64zM1362 2170h20v59h-20zM288 2229h43v36h-43zM331 2229h44v36h-44zM525 2229h9v36h-9zM534 2229h13v36h-13zM558 2229h54v36h-54zM676 2229h19v36h-19zM695 2229h56v36h-56zM816 2229h33v36h-33zM1382 2229h11v36h-11zM1393 2229h29v36h-29zM288 2265h43v57h-43zM331 2265h44v57h-44zM422 2265h20v57h-20zM525 2265h9v57h-9zM534 2265h13v57h-13zM612 2265h64v57h-64zM676 2265h19v57h-19zM695 2265h56v57h-56zM816 2265h33v57h-33zM912 2265h59v57h-59zM288 2322h43v129h-43zM331 2322h44v129h-44zM1382 2322h11v129h-11zM331 2451h44v62h-44zM422 2451h20v62h-20zM504 2451h21v62h-21zM525 2451h9v62h-9zM534 2451h13v62h-13zM676 2451h19v62h-19zM695 2451h56v62h-56zM751 2451h57v62h-57zM379 2513h43v20h-43zM422 2513h20v20h-20zM504 2513h21v20h-21zM534 2513h13v20h-13zM751 2513h57v20h-57zM808 2513h8v20h-8zM1019 2513h59v20h-59zM375 2533h4v11h-4zM504 2533h21v11h-21zM525 2533h9v11h-9zM558 2533h54v11h-54zM612 2533h64v11h-64zM849 2533h63v11h-63zM912 2533h59v11h-59zM1078 2533h36v11h-36zM1171 2533h129v11h-129zM375 2544h4v30h-4zM442 2544h62v30h-62zM534 2544h13v30h-13zM751 2544h57v30h-57zM816 2544h33v30h-33zM849 2544h63v30h-63zM912 2544h59v30h-59zM1078 2544h36v30h-36zM375 2574h4v6h-4zM534 2574h13v6h-13zM751 2574h57v6h-57zM912 2574h59v6h-59z"/><path fill="#ff9383" d="M379 1526h43v4h-43zM912 1526h59v4h-59zM971 1526h48v4h-48zM375 1530h4v43h-4zM912 1593h59v62h-59zM1171 1593h129v62h-129zM1422 1593h7v62h-7zM525 1655h9v21h-9zM1422 1655h7v21h-7zM504 1676h21v10h-21zM912 1676h59v10h-59zM1422 1676h7v10h-7zM912 1686h59v12h-59zM1300 1709h62v54h-62zM1393 1709h29v54h-29zM1422 1709h7v54h-7zM971 1967h48v33h-48zM1382 1967h11v33h-11zM1300 2000h62v63h-62zM1422 2000h7v63h-7zM375 2063h4v59h-4zM442 2063h62v59h-62zM525 2063h9v59h-9zM534 2063h13v59h-13zM375 2122h4v48h-4zM816 2122h33v48h-33zM1382 2122h11v48h-11zM1393 2122h29v48h-29zM1422 2122h7v48h-7zM1422 2229h7v36h-7zM1393 2265h29v57h-29zM1422 2265h7v57h-7zM442 2322h62v129h-62zM558 2451h54v62h-54zM849 2451h63v62h-63zM1422 2451h7v62h-7zM1422 2513h7v20h-7zM816 2533h33v11h-33zM971 2533h48v11h-48zM558 2544h54v30h-54zM971 2544h48v30h-48zM1114 2544h57v30h-57zM442 2574h62v6h-62zM504 2574h21v6h-21zM525 2574h9v6h-9zM558 2574h54v6h-54zM849 2574h63v6h-63zM971 2574h48v6h-48zM1078 2574h36v6h-36zM1114 2574h57v6h-57zM1300 2574h62v6h-62zM1362 2574h20v6h-20z"/><path fill="#ff8c7c" d="M912 1573h59v20h-59zM1171 1573h129v20h-129zM912 1655h59v21h-59zM1171 1655h129v21h-129zM1171 1676h129v10h-129zM1171 1686h129v12h-129zM1114 1709h57v54h-57zM1171 1709h129v54h-129zM1362 1709h20v54h-20zM695 1763h56v64h-56zM816 1763h33v64h-33zM612 1847h64v55h-64zM612 1967h64v33h-64zM912 1967h59v33h-59zM1171 1967h129v33h-129zM1300 1967h62v33h-62zM1171 2000h129v63h-129zM1362 2000h20v63h-20zM422 2063h20v59h-20zM504 2063h21v59h-21zM816 2063h33v59h-33zM1300 2063h62v59h-62zM1362 2063h20v59h-20zM558 2265h54v57h-54zM1382 2265h11v57h-11zM422 2322h20v129h-20zM504 2322h21v129h-21zM525 2322h9v129h-9zM534 2322h13v129h-13zM558 2322h54v129h-54zM816 2322h33v129h-33zM849 2322h63v129h-63zM816 2451h33v62h-33zM912 2451h59v62h-59zM1393 2451h29v62h-29zM558 2513h54v20h-54zM849 2513h63v20h-63zM912 2513h59v20h-59zM1393 2513h29v20h-29zM1114 2533h57v11h-57zM1300 2544h62v30h-62zM1362 2544h20v30h-20z"/><path fill="#ff8676" d="M1362 1482h20v44h-20zM816 1526h33v4h-33zM1078 1526h36v4h-36zM1114 1526h57v4h-57zM1171 1526h129v4h-129zM504 1573h21v20h-21zM1393 1573h29v20h-29zM504 1593h21v62h-21zM422 1655h20v21h-20zM442 1655h62v21h-62zM1362 1676h20v10h-20zM1393 1676h29v10h-29zM1300 1763h62v64h-62zM1362 1763h20v64h-20zM375 1967h4v33h-4zM1422 1967h7v33h-7zM1171 2122h129v48h-129zM375 2229h4v36h-4zM1171 2229h129v36h-129zM375 2265h4v57h-4zM1171 2265h129v57h-129zM375 2322h4v129h-4zM971 2322h48v129h-48zM1078 2322h36v129h-36zM1114 2322h57v129h-57zM1393 2322h29v129h-29zM1422 2322h7v129h-7zM612 2451h64v62h-64zM1382 2451h11v62h-11zM331 2513h44v20h-44zM525 2513h9v20h-9zM612 2513h64v20h-64zM1382 2513h11v20h-11zM1300 2533h62v11h-62zM1362 2533h20v11h-20zM1422 2533h7v11h-7zM422 2544h20v30h-20zM525 2544h9v30h-9zM1171 2544h129v30h-129zM816 2574h33v6h-33zM1171 2574h129v6h-129zM1382 2574h11v6h-11z"/><path fill="#ff8070" d="M1422 1439h7v43h-7zM1393 1655h29v21h-29zM1171 1902h129v57h-129zM1171 2063h129v59h-129zM1300 2122h62v48h-62zM1300 2229h62v36h-62zM751 2322h57v129h-57zM912 2322h59v129h-59zM971 2451h48v62h-48zM1078 2451h36v62h-36zM504 2544h21v30h-21zM288 2574h43v6h-43z"/><path fill="#ff7969" d="M1300 1526h62v4h-62zM971 1763h48v64h-48zM1078 1763h36v64h-36zM1362 1827h20v20h-20zM1362 1847h20v55h-20zM1362 1967h20v33h-20zM612 2122h64v48h-64zM612 2229h64v36h-64zM1362 2229h20v36h-20zM1362 2265h20v57h-20zM1300 2322h62v129h-62zM1362 2322h20v129h-20zM375 2451h4v62h-4zM1171 2451h129v62h-129zM676 2513h19v20h-19zM695 2513h56v20h-56zM816 2513h33v20h-33zM1078 2513h36v20h-36zM1114 2513h57v20h-57zM1171 2513h129v20h-129zM1393 2533h29v11h-29zM1382 2544h11v30h-11z"/><path fill="#ff7363" d="M1422 1573h7v20h-7zM1422 1763h7v64h-7zM422 2574h20v6h-20zM612 2574h64v6h-64z"/><path fill="#ff6c5d" d="M1362 2122h20v48h-20zM971 2513h48v20h-48z"/><path fill="#ff6657" d="M1019 2122h59v48h-59zM971 2170h48v59h-48zM1300 2265h62v57h-62zM1114 2451h57v62h-57zM1362 2451h20v62h-20zM1300 2513h62v20h-62z"/><path fill="#ff6051" d="M1114 2122h57v48h-57zM971 2265h48v57h-48zM1422 2544h7v30h-7zM1393 2574h29v6h-29z"/><path fill="#ff594b" d="M1362 1526h20v4h-20zM558 1698h54v11h-54zM547 1709h11v54h-11zM849 1959h63v8h-63zM808 2000h8v63h-8zM375 2513h4v20h-4z"/><path fill="#ff5345" d="M1078 2122h36v48h-36zM1078 2170h36v59h-36zM1114 2170h57v59h-57zM971 2229h48v36h-48zM1019 2229h59v36h-59zM1019 2265h59v57h-59z"/><path fill="#ff4d40" d="M849 1967h63v33h-63zM816 2000h33v63h-33z"/><path fill="#ff463a" d="M1114 2229h57v36h-57zM1078 2265h36v57h-36z"/><path fill="#ff4034" d="M442 1573h62v20h-62zM422 1593h20v62h-20zM816 1959h33v8h-33zM808 1967h8v33h-8z"/><path fill="#ff201a" d="M695 1827h56v20h-56zM676 1847h19v55h-19z"/><path fill="#ff0000" d="M264 1415h19v19h-19zM283 1434h5v5h-5zM288 1439h43v43h-43zM331 1482h44v44h-44zM375 1526h4v4h-4zM379 1530h43v43h-43zM422 1573h20v20h-20zM442 1593h62v62h-62zM504 1655h21v21h-21zM525 1676h9v10h-9zM534 1686h13v12h-13zM547 1698h11v11h-11zM558 1709h54v54h-54zM612 1763h64v64h-64zM676 1827h19v20h-19zM695 1847h56v55h-56zM751 1902h57v57h-57zM808 1959h8v8h-8zM816 1967h33v33h-33zM849 2000h63v63h-63zM912 2063h59v59h-59zM971 2122h48v48h-48zM1019 2170h59v59h-59zM1078 2229h36v36h-36zM1114 2265h57v57h-57zM1171 2322h129v129h-129zM1300 2451h62v62h-62zM1362 2513h20v20h-20zM1382 2533h11v11h-11zM1393 2544h29v30h-29zM1422 2574h7v6h-7z"/><rect x="264" y="1372" width="19" height="32.5" fill="#be1e2d"/><rect x="220" y="1415" width="34" height="19" fill="#be1e2d"/><rect x="283" y="1372" width="5" height="32.5" fill="#3953a4"/><rect x="220" y="1434" width="34" height="5" fill="#3953a4"/><rect x="288" y="1372" width="43" height="32.5" fill="#d97d25"/><rect x="220" y="1439" width="34" height="43" fill="#d97d25"/><rect x="331" y="1372" width="44" height="32.5" fill="#00aeef"/><rect x="220" y="1482" width="34" height="44" fill="#00aeef"/><rect x="375" y="1372" width="4" height="32.5" fill="#104a7f"/><rect x="220" y="1526" width="34" height="4" fill="#104a7f"/><rect x="379" y="1372" width="43" height="32.5" fill="#cacce0"/><rect x="220" y="1530" width="34" height="43" fill="#cacce0"/><rect x="422" y="1372" width="20" height="32.5" fill="#b2509e"/><rect x="220" y="1573" width="34" height="20" fill="#b2509e"/><rect x="442" y="1372" width="62" height="32.5" fill="#d49dc7"/><rect x="220" y="1593" width="34" height="62" fill="#d49dc7"/><rect x="504" y="1372" width="21" height="32.5" fill="#e8c51d"/><rect x="220" y="1655" width="34" height="21" fill="#e8c51d"/><rect x="525" y="1372" width="9" height="32.5" fill="#c1a72f"/><rect x="220" y="1676" width="34" height="10" fill="#c1a72f"/><rect x="534" y="1372" width="13" height="32.5" fill="#ceac8f"/><rect x="220" y="1686" width="34" height="12" fill="#ceac8f"/><rect x="547" y="1372" width="11" height="32.5" fill="#009444"/><rect x="220" y="1698" width="34" height="11" fill="#009444"/><rect x="558" y="1372" width="54" height="32.5" fill="#bbd642"/><rect x="220" y="1709" width="34" height="54" fill="#bbd642"/><rect x="612" y="1372" width="64" height="32.5" fill="#fbe3c7"/><rect x="220" y="1763" width="34" height="64" fill="#fbe3c7"/><rect x="676" y="1372" width="19" height="32.5" fill="#daf1fc"/><rect x="220" y="1827" width="34" height="20" fill="#daf1fc"/><rect x="695" y="1372" width="56" height="32.5" fill="#9eddf9"/><rect x="220" y="1847" width="34" height="55" fill="#9eddf9"/><rect x="751" y="1372" width="57" height="32.5" fill="#7e1918"/><rect x="220" y="1902" width="34" height="57" fill="#7e1918"/><rect x="808" y="1372" width="8" height="32.5" fill="#ed1c24"/><rect x="220" y="1959" width="34" height="8" fill="#ed1c24"/><rect x="816" y="1372" width="33" height="32.5" fill="#ea7075"/><rect x="220" y="1967" width="34" height="33" fill="#ea7075"/><rect x="849" y="1372" width="63" height="32.5" fill="#f8afb3"/><rect x="220" y="2000" width="34" height="63" fill="#f8afb3"/><rect x="912" y="1372" width="59" height="32.5" fill="#f9ed32"/><rect x="220" y="2063" width="34" height="59" fill="#f9ed32"/><rect x="971" y="1372" width="48" height="32.5" fill="#fad2d9"/><rect x="220" y="2122" width="34" height="48" fill="#fad2d9"/><rect x="1019" y="1372" width="59" height="32.5" fill="#97d1a9"/><rect x="220" y="2170" width="34" height="59" fill="#97d1a9"/><rect x="1078" y="1372" width="36" height="32.5" fill="#f6b667"/><rect x="220" y="2229" width="34" height="36" fill="#f6b667"/><rect x="1114" y="1372" width="57" height="32.5" fill="#a084bd"/><rect x="220" y="2265" width="34" height="57" fill="#a084bd"/><rect x="1171" y="1372" width="129" height="32.5" fill="#ed2891"/><rect x="220" y="2322" width="34" height="129" fill="#ed2891"/><rect x="1300" y="1372" width="62" height="32.5" fill="#d3c3e0"/><rect x="220" y="2451" width="34" height="62" fill="#d3c3e0"/><rect x="1362" y="1372" width="20" height="32.5" fill="#6e7ba2"/><rect x="220" y="2513" width="34" height="20" fill="#6e7ba2"/><rect x="1382" y="1372" width="11" height="32.5" fill="#542c88"/><rect x="220" y="2533" width="34" height="11" fill="#542c88"/><rect x="1393" y="1372" width="29" height="32.5" fill="#00a99d"/><rect x="220" y="2544" width="34" height="30" fill="#00a99d"/><rect x="1422" y="1372" width="7" height="32.5" fill="#f89420"/><rect x="220" y="2574" width="34" height="6" fill="#f89420"/></g><rect x="420.3" y="1574.5" width="104.9" height="101" fill="none" stroke="#000" stroke-width="3.3"/><rect x="546.6" y="1699.5" width="65.8" height="64.1" fill="none" stroke="#000" stroke-width="3.3"/><rect x="807.5" y="1960" width="104.8" height="102.5" fill="none" stroke="#000" stroke-width="3.3"/><rect x="972.2" y="2122.1" width="200.2" height="199.1" fill="none" stroke="#000" stroke-width="3.3"/><rect x="1391.9" y="2543" width="35.4" height="37.5" fill="none" stroke="#000" stroke-width="3.3"/><g font-size="29"><text x="541.3" y="1630.2" fill="#0000ff">GBM-LGG-PCPG</text><text x="755.2" y="1680" fill="#000">Neuronal</text><text x="637.2" y="1735.7" fill="#0000ff">UVM-SKCM</text><text x="995.6" y="2006.5" fill="#000">Pan-kidney</text><text x="954.4" y="2040.6" fill="#0000ff">KICH-KIRP-KIRC</text><text x="679.9" y="2213" fill="#000">Pan-squamous</text><text x="602.8" y="2254.9" fill="#0000ff">BLCA-HNSC-UCEC-LUSC</text><text x="1006.3" y="2570" fill="#000">Sarcomas</text><text x="1213.7" y="2570" fill="#0000ff">SARC-UCS</text><text x="42.6" y="1296.8" fill="#000">Cancer type</text></g><path d="M118.4 1308.7L257 1385M118.4 1308.7L232 1410.3" stroke="#000" stroke-width="1.6" fill="none"/><path d="M262.2 1387.7L240.5 1383.2L249.5 1380.8L250.8 1371.8Z" fill="#000"/><path d="M236.5 1414.5L216.5 1404.5L225.5 1404.6L224.8 1395.5Z" fill="#000"/><path d="M264.2 1191.7H335.5M264.2 1191.7V1369.3M335.5 1191.7V1196.7" fill="none" stroke="#000" stroke-width="1.1" stroke-linecap="square"/><path d="M282 1196.7H388.5M282 1196.7V1369.3" fill="none" stroke="#000" stroke-width="1.3" stroke-linecap="square"/><path d="M313.2 1204.2H462.4M388.5 1206.6H537.3M288.4 1228.7H338.8M331 1355H346M375.4 1242.9H401M379.7 1352.3H422.3M439.3 1235.8H514.7M426.9 1295.5H451.4M504.7 1244H524.6M442 1360H478M596 1215.3H650.3M552.9 1219.5H650.3M548 1265H557.5M614 1235.7H687.1M678 1329H696M650.3 1222.5H843M843 1223.6H935.2M828.2 1226.6H1041.8M810 1235.7H846.3M833.5 1278H858.5M912.1 1231.5H1170.4M1014.1 1242.2H1325.6M971.4 1263.5H1057.8M1019.4 1275.9H1095.8M1078 1288.3H1112.8M1254.9 1248.2H1395.2M1179.3 1261.7H1331.3M1300 1275.2H1361.5M1382.5 1258.9H1407.7M1392.4 1270.6H1422.6M849 1352H868M849 1355.5H885M388.5 1196.7V1242.9M313.2 1204.2V1228.7M462.4 1204.2V1206.6M537.3 1206.6V1213.8M288.4 1228.7V1369.3M338.8 1228.7V1369.3M331 1355V1369.3M346 1355V1369.3M375.4 1242.9V1369.3M401 1242.9V1352.3M379.7 1352.3V1369.3M422.3 1352.3V1369.3M476.6 1214.5V1235.8M439.3 1235.8V1295.5M426.9 1295.5V1369.3M451.4 1295.5V1369.3M514.7 1235.8V1244M504.7 1244V1369.3M524.6 1244V1369.3M442 1360V1369.3M478 1360V1369.3M542.6 1214.8V1369.3M552.9 1219.5V1265M548 1265V1369.3M557.5 1265V1369.3M650.3 1215.3V1235.7M614 1235.7V1369.3M687.1 1235.7V1329M678 1329V1369.3M696 1329V1369.3M751 1222.3V1369.3M828.2 1226.6V1235.7M810 1235.7V1369.3M846.3 1235.7V1278M833.5 1278V1369.3M858.5 1278V1369.3M1041.8 1226.6V1231.5M912.1 1231.5V1369.3M1170.4 1231.5V1242.2M1014.1 1242.2V1263.5M1325.6 1242.2V1248.2M971.4 1263.5V1369.3M1057.8 1263.5V1275.9M1019.4 1275.9V1369.3M1095.8 1275.9V1288.3M1078 1288.3V1369.3M1112.8 1288.3V1369.3M1254.9 1248.2V1261.7M1395.2 1248.2V1258.9M1179.3 1261.7V1369.3M1331.3 1261.7V1275.2M1300 1275.2V1369.3M1361.5 1275.2V1369.3M1382.5 1258.9V1369.3M1407.7 1258.9V1270.6M1392.4 1270.6V1369.3M1422.6 1270.6V1369.3M849 1352V1369.3M868 1352V1369.3M885 1355.5V1369.3" fill="none" stroke="#000" stroke-width="2.2" stroke-linecap="square"/><path d="M476.6 1214.3H596" fill="none" stroke="#000" stroke-width="2.8" stroke-linecap="square"/><path d="M650.3 1220.7H747" fill="none" stroke="#000" stroke-width="3.0" stroke-linecap="square"/><path d="M264 1370.3L264 1361.3L283 1363.3L283 1370.3ZM288 1370.3L288 1358.3L331 1362.3L331 1370.3ZM331 1370.3L331 1359.3L375 1362.3L375 1370.3ZM379 1370.3L379 1358.3L422 1362.3L422 1370.3ZM422 1370.3L422 1361.3L442 1363.3L442 1370.3ZM442 1370.3L442 1359.3L503 1363.3L503 1370.3ZM503 1370.3L503 1361.3L525 1363.3L525 1370.3ZM525 1370.3L525 1361.3L547 1362.3L547 1370.3ZM547 1370.3L547 1361.3L557 1362.3L557 1370.3ZM557 1370.3L557 1358.3L611 1363.3L611 1370.3ZM611 1370.3L611 1359.3L676 1363.3L676 1370.3ZM676 1370.3L676 1360.3L695 1363.3L695 1370.3ZM695 1370.3L695 1359.3L751 1363.3L751 1370.3ZM751 1370.3L751 1360.3L808 1363.3L808 1370.3ZM808 1370.3L808 1360.3L849 1362.3L849 1370.3ZM849 1370.3L849 1359.3L912 1363.3L912 1370.3ZM912 1370.3L912 1360.3L971 1363.3L971 1370.3ZM971 1370.3L971 1360.3L1019 1363.3L1019 1370.3ZM1019 1370.3L1019 1359.3L1078 1363.3L1078 1370.3ZM1078 1370.3L1078 1360.3L1113 1363.3L1113 1370.3ZM1113 1370.3L1113 1360.3L1171 1363.3L1171 1370.3ZM1171 1370.3L1171 1356.3L1300 1361.3L1300 1370.3ZM1300 1370.3L1300 1359.3L1362 1363.3L1362 1370.3ZM1362 1370.3L1362 1361.3L1393 1362.3L1393 1370.3ZM1393 1370.3L1393 1361.3L1429 1362.3L1429 1370.3Z" fill="#000"/><path d="M41.4 1415.4V1494.8M41.4 1415.4H217.8M41.4 1494.8H46.4" fill="none" stroke="#000" stroke-width="1.1" stroke-linecap="square"/><path d="M46.4 1433.2V1539.7M46.4 1433.2H217.8" fill="none" stroke="#000" stroke-width="1.3" stroke-linecap="square"/><path d="M53.9 1464.4V1613.6M56.2 1539.7V1688.5M78.2 1439.6V1490M203.6 1482.2V1497.2M92.3 1526.6V1552.2M200.9 1530.9V1573.5M85.2 1590.5V1665.9M144.5 1578.1V1602.6M93.4 1655.9V1675.8M208.6 1593.2V1629.2M64.9 1747.2V1801.5M69 1704.1V1801.5M114.2 1699.2V1708.7M85.1 1765.2V1838.3M177.8 1829.2V1847.2M72 1801.5V1994.2M73.1 1994.2V2086.4M76.1 1979.4V2193M85.1 1961.2V1997.5M127.1 1984.7V2009.7M81 2063.3V2321.6M91.6 2165.3V2476.8M112.7 2122.6V2209M125.1 2170.6V2247M137.4 2229.2V2264M97.5 2406.1V2546.4M111 2330.5V2482.5M124.4 2451.2V2512.7M108.2 2533.7V2558.9M119.8 2543.6V2573.8M200.6 2000.2V2019.2M204.1 2000.2V2036.2M46.4 1539.7H92.3M53.9 1464.4H78.2M53.9 1613.6H56.2M56.2 1688.5H63.4M78.2 1439.6H217.8M78.2 1490H217.8M203.6 1482.2H217.8M203.6 1497.2H217.8M92.3 1526.6H217.8M92.3 1552.2H200.9M200.9 1530.9H217.8M200.9 1573.5H217.8M64.1 1627.8H85.2M85.2 1590.5H144.5M144.5 1578.1H217.8M144.5 1602.6H217.8M85.2 1665.9H93.4M93.4 1655.9H217.8M93.4 1675.8H217.8M208.6 1593.2H217.8M208.6 1629.2H217.8M64.4 1693.8H217.8M69 1704.1H114.2M114.2 1699.2H217.8M114.2 1708.7H217.8M64.9 1801.5H85.1M85.1 1765.2H217.8M85.1 1838.3H177.8M177.8 1829.2H217.8M177.8 1847.2H217.8M71.8 1902.2H217.8M76.1 1979.4H85.1M85.1 1961.2H217.8M85.1 1997.5H127.1M127.1 1984.7H217.8M127.1 2009.7H217.8M76.1 2193H81M81 2063.3H217.8M81 2321.6H91.6M91.6 2165.3H112.7M91.6 2476.8H97.5M112.7 2122.6H217.8M112.7 2209H125.1M125.1 2170.6H217.8M125.1 2247H137.4M137.4 2229.2H217.8M137.4 2264H217.8M97.5 2406.1H111M97.5 2546.4H108.2M111 2330.5H217.8M111 2482.5H124.4M124.4 2451.2H217.8M124.4 2512.7H217.8M108.2 2533.7H217.8M108.2 2558.9H119.8M119.8 2543.6H217.8M119.8 2573.8H217.8M200.6 2000.2H217.8M200.6 2019.2H217.8M204.1 2036.2H217.8" fill="none" stroke="#000" stroke-width="2.2" stroke-linecap="square"/><path d="M63.9 1627.8V1747.2" fill="none" stroke="#000" stroke-width="2.8" stroke-linecap="square"/><path d="M70.2 1801.5V1898.2" fill="none" stroke="#000" stroke-width="3.0" stroke-linecap="square"/><path d="M218.3 1415.2L211.1 1415.2L212.7 1434.2L218.3 1434.2ZM218.3 1439.2L208.7 1439.2L211.9 1482.2L218.3 1482.2ZM218.3 1482.2L209.5 1482.2L211.9 1526.2L218.3 1526.2ZM218.3 1530.2L208.7 1530.2L211.9 1573.2L218.3 1573.2ZM218.3 1573.2L211.1 1573.2L212.7 1593.2L218.3 1593.2ZM218.3 1593.2L209.5 1593.2L212.7 1654.2L218.3 1654.2ZM218.3 1654.2L211.1 1654.2L212.7 1676.2L218.3 1676.2ZM218.3 1676.2L211.1 1676.2L211.9 1698.2L218.3 1698.2ZM218.3 1698.2L211.1 1698.2L211.9 1708.2L218.3 1708.2ZM218.3 1708.2L208.7 1708.2L212.7 1762.2L218.3 1762.2ZM218.3 1762.2L209.5 1762.2L212.7 1827.2L218.3 1827.2ZM218.3 1827.2L210.3 1827.2L212.7 1846.2L218.3 1846.2ZM218.3 1846.2L209.5 1846.2L212.7 1902.2L218.3 1902.2ZM218.3 1902.2L210.3 1902.2L212.7 1959.2L218.3 1959.2ZM218.3 1959.2L210.3 1959.2L211.9 2000.2L218.3 2000.2ZM218.3 2000.2L209.5 2000.2L212.7 2063.2L218.3 2063.2ZM218.3 2063.2L210.3 2063.2L212.7 2122.2L218.3 2122.2ZM218.3 2122.2L210.3 2122.2L212.7 2170.2L218.3 2170.2ZM218.3 2170.2L209.5 2170.2L212.7 2229.2L218.3 2229.2ZM218.3 2229.2L210.3 2229.2L212.7 2264.2L218.3 2264.2ZM218.3 2264.2L210.3 2264.2L212.7 2322.2L218.3 2322.2ZM218.3 2322.2L207.1 2322.2L211.1 2451.2L218.3 2451.2ZM218.3 2451.2L209.5 2451.2L212.7 2513.2L218.3 2513.2ZM218.3 2513.2L211.1 2513.2L211.9 2544.2L218.3 2544.2ZM218.3 2544.2L211.1 2544.2L211.9 2580.2L218.3 2580.2Z" fill="#000"/><defs><linearGradient id="sim" x1="0" x2="1" y1="0" y2="0"><stop offset="0" stop-color="#ffffff"/><stop offset=".06" stop-color="#fff0ee"/><stop offset=".5" stop-color="#ff6a52"/><stop offset=".75" stop-color="#ff3322"/><stop offset="1" stop-color="#ff0000"/></linearGradient></defs><rect x="1514.3" y="1496.8" width="423" height="35.3" fill="url(#sim)"/><g font-size="29" fill="#000"><text x="1721.3" y="1453.5" text-anchor="middle">Similarity (<tspan font-style="italic">Rs</tspan>)</text><text x="1484.3" y="1484.2">0</text><text x="1922.5" y="1484.2">1</text><text x="1632.6" y="1644.5">Cancer type</text><rect x="1519.5" y="1682.8" width="21.5" height="21.5" fill="#c1a72f" stroke="#444" stroke-width=".8"/><text x="1555.6" y="1704.5">ACC</text><rect x="1519.5" y="1734" width="21.5" height="21.5" fill="#ed2891" stroke="#444" stroke-width=".8"/><text x="1555.6" y="1755.7">BLCA</text><rect x="1519.5" y="1785.8" width="21.5" height="21.5" fill="#ed2891" stroke="#444" stroke-width=".8"/><text x="1555.6" y="1807.5">BRCA</text><rect x="1519.5" y="1837.4" width="21.5" height="21.5" fill="#f6b667" stroke="#444" stroke-width=".8"/><text x="1555.6" y="1859.1">CESC</text><rect x="1519.5" y="1888.9" width="21.5" height="21.5" fill="#104a7f" stroke="#444" stroke-width=".8"/><text x="1555.6" y="1910.6">CHOL</text><rect x="1519.5" y="1940.8" width="21.5" height="21.5" fill="#9eddf9" stroke="#444" stroke-width=".8"/><text x="1555.6" y="1962.5">COAD</text><rect x="1519.5" y="1999.1" width="21.5" height="21.5" fill="#3953a4" stroke="#444" stroke-width=".8"/><text x="1555.6" y="2020.8">DLBC</text><rect x="1519.5" y="2050.7" width="21.5" height="21.5" fill="#b2509e" stroke="#444" stroke-width=".8"/><text x="1555.6" y="2072.4">GBM</text><rect x="1519.5" y="2102.5" width="21.5" height="21.5" fill="#97d1a9" stroke="#444" stroke-width=".8"/><text x="1555.6" y="2124.2">HNSC</text><rect x="1519.5" y="2154.1" width="21.5" height="21.5" fill="#ed1c24" stroke="#444" stroke-width=".8"/><text x="1555.6" y="2175.8">KICH</text><rect x="1519.5" y="2205.6" width="21.5" height="21.5" fill="#f8afb3" stroke="#444" stroke-width=".8"/><text x="1555.6" y="2227.3">KIRC</text><rect x="1519.5" y="2257.1" width="21.5" height="21.5" fill="#ea7075" stroke="#444" stroke-width=".8"/><text x="1555.6" y="2278.8">KIRP</text><rect x="1519.5" y="2305.7" width="21.5" height="21.5" fill="#d49dc7" stroke="#444" stroke-width=".8"/><text x="1555.6" y="2327.4">LGG</text><rect x="1519.5" y="2356.9" width="21.5" height="21.5" fill="#cacce0" stroke="#444" stroke-width=".8"/><text x="1555.6" y="2378.6">LIHC</text><rect x="1519.5" y="2408.8" width="21.5" height="21.5" fill="#d3c3e0" stroke="#444" stroke-width=".8"/><text x="1555.6" y="2430.5">LUAD</text><rect x="1519.5" y="2460.6" width="21.5" height="21.5" fill="#a084bd" stroke="#444" stroke-width=".8"/><text x="1555.6" y="2482.3">LUSC</text><rect x="1765.6" y="1682.8" width="21.5" height="21.5" fill="#542c88" stroke="#444" stroke-width=".8"/><text x="1801" y="1704.5">MESO</text><rect x="1765.6" y="1734" width="21.5" height="21.5" fill="#d97d25" stroke="#444" stroke-width=".8"/><text x="1801" y="1755.7">OV</text><rect x="1765.6" y="1785.2" width="21.5" height="21.5" fill="#6e7ba2" stroke="#444" stroke-width=".8"/><text x="1801" y="1806.9">PAAD</text><rect x="1765.6" y="1836.7" width="21.5" height="21.5" fill="#e8c51d" stroke="#444" stroke-width=".8"/><text x="1801" y="1858.4">PCPG</text><rect x="1765.6" y="1888.6" width="21.5" height="21.5" fill="#7e1918" stroke="#444" stroke-width=".8"/><text x="1801" y="1910.3">PRAD</text><rect x="1765.6" y="1940.1" width="21.5" height="21.5" fill="#daf1fc" stroke="#444" stroke-width=".8"/><text x="1801" y="1961.8">READ</text><rect x="1765.6" y="1991.9" width="21.5" height="21.5" fill="#00a99d" stroke="#444" stroke-width=".8"/><text x="1801" y="2013.6">SARC</text><rect x="1765.6" y="2043.1" width="21.5" height="21.5" fill="#bbd642" stroke="#444" stroke-width=".8"/><text x="1801" y="2064.8">SKCM</text><rect x="1765.6" y="2097.6" width="21.5" height="21.5" fill="#00aeef" stroke="#444" stroke-width=".8"/><text x="1801" y="2119.3">STAD</text><rect x="1765.6" y="2149.1" width="21.5" height="21.5" fill="#be1e2d" stroke="#444" stroke-width=".8"/><text x="1801" y="2170.8">TGCT</text><rect x="1765.6" y="2201" width="21.5" height="21.5" fill="#f9ed32" stroke="#444" stroke-width=".8"/><text x="1801" y="2222.7">THCA</text><rect x="1765.6" y="2252.5" width="21.5" height="21.5" fill="#ceac8f" stroke="#444" stroke-width=".8"/><text x="1801" y="2274.2">THYM</text><rect x="1765.6" y="2304.1" width="21.5" height="21.5" fill="#fbe3c7" stroke="#444" stroke-width=".8"/><text x="1801" y="2325.8">UCEC</text><rect x="1765.6" y="2355.6" width="21.5" height="21.5" fill="#f89420" stroke="#444" stroke-width=".8"/><text x="1801" y="2377.3">UCS</text><rect x="1765.6" y="2404.8" width="21.5" height="21.5" fill="#009444" stroke="#444" stroke-width=".8"/><text x="1801" y="2426.5">UVM</text></g></svg></body></html>
